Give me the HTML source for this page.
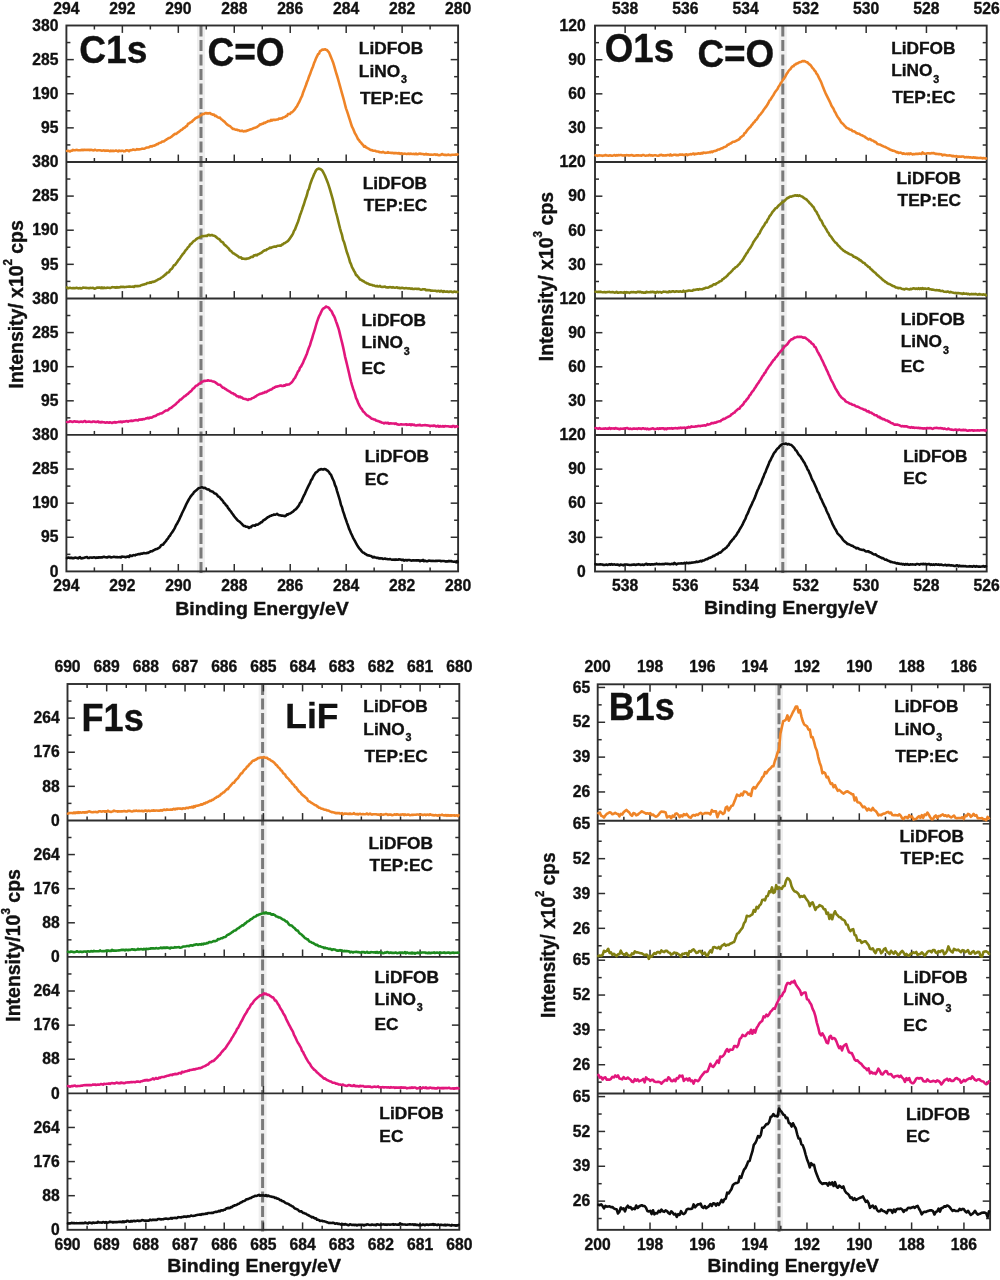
<!DOCTYPE html>
<html><head><meta charset="utf-8"><style>
html,body{margin:0;padding:0;background:#fff;}
body{width:1000px;height:1280px;overflow:hidden;}
svg{display:block;filter:blur(0.6px);}
svg text{font-family:"Liberation Sans", sans-serif;font-weight:bold;fill:#111;stroke:#111;stroke-width:0.35px;}
</style></head><body>
<svg width="1000" height="1280" viewBox="0 0 1000 1280">
<rect width="1000" height="1280" fill="#fff"/>
<line x1="201" y1="25.5" x2="201" y2="573.4" stroke="#efefef" stroke-width="8"/>
<line x1="201" y1="25.5" x2="201" y2="573.4" stroke="#7a7a7a" stroke-width="3" stroke-dasharray="11 3.5"/>
<line x1="94.38" y1="161.97" x2="94.38" y2="157.97" stroke="#2e2e2e" stroke-width="1.5"/>
<line x1="94.38" y1="25.5" x2="94.38" y2="29.5" stroke="#2e2e2e" stroke-width="1.5"/>
<line x1="122.36" y1="161.97" x2="122.36" y2="154.57" stroke="#2e2e2e" stroke-width="1.5"/>
<line x1="122.36" y1="25.5" x2="122.36" y2="32.9" stroke="#2e2e2e" stroke-width="1.5"/>
<line x1="150.34" y1="161.97" x2="150.34" y2="157.97" stroke="#2e2e2e" stroke-width="1.5"/>
<line x1="150.34" y1="25.5" x2="150.34" y2="29.5" stroke="#2e2e2e" stroke-width="1.5"/>
<line x1="178.31" y1="161.97" x2="178.31" y2="154.57" stroke="#2e2e2e" stroke-width="1.5"/>
<line x1="178.31" y1="25.5" x2="178.31" y2="32.9" stroke="#2e2e2e" stroke-width="1.5"/>
<line x1="206.29" y1="161.97" x2="206.29" y2="157.97" stroke="#2e2e2e" stroke-width="1.5"/>
<line x1="206.29" y1="25.5" x2="206.29" y2="29.5" stroke="#2e2e2e" stroke-width="1.5"/>
<line x1="234.27" y1="161.97" x2="234.27" y2="154.57" stroke="#2e2e2e" stroke-width="1.5"/>
<line x1="234.27" y1="25.5" x2="234.27" y2="32.9" stroke="#2e2e2e" stroke-width="1.5"/>
<line x1="262.25" y1="161.97" x2="262.25" y2="157.97" stroke="#2e2e2e" stroke-width="1.5"/>
<line x1="262.25" y1="25.5" x2="262.25" y2="29.5" stroke="#2e2e2e" stroke-width="1.5"/>
<line x1="290.23" y1="161.97" x2="290.23" y2="154.57" stroke="#2e2e2e" stroke-width="1.5"/>
<line x1="290.23" y1="25.5" x2="290.23" y2="32.9" stroke="#2e2e2e" stroke-width="1.5"/>
<line x1="318.21" y1="161.97" x2="318.21" y2="157.97" stroke="#2e2e2e" stroke-width="1.5"/>
<line x1="318.21" y1="25.5" x2="318.21" y2="29.5" stroke="#2e2e2e" stroke-width="1.5"/>
<line x1="346.19" y1="161.97" x2="346.19" y2="154.57" stroke="#2e2e2e" stroke-width="1.5"/>
<line x1="346.19" y1="25.5" x2="346.19" y2="32.9" stroke="#2e2e2e" stroke-width="1.5"/>
<line x1="374.16" y1="161.97" x2="374.16" y2="157.97" stroke="#2e2e2e" stroke-width="1.5"/>
<line x1="374.16" y1="25.5" x2="374.16" y2="29.5" stroke="#2e2e2e" stroke-width="1.5"/>
<line x1="402.14" y1="161.97" x2="402.14" y2="154.57" stroke="#2e2e2e" stroke-width="1.5"/>
<line x1="402.14" y1="25.5" x2="402.14" y2="32.9" stroke="#2e2e2e" stroke-width="1.5"/>
<line x1="430.12" y1="161.97" x2="430.12" y2="157.97" stroke="#2e2e2e" stroke-width="1.5"/>
<line x1="430.12" y1="25.5" x2="430.12" y2="29.5" stroke="#2e2e2e" stroke-width="1.5"/>
<line x1="94.38" y1="298.45" x2="94.38" y2="294.45" stroke="#2e2e2e" stroke-width="1.5"/>
<line x1="122.36" y1="298.45" x2="122.36" y2="291.05" stroke="#2e2e2e" stroke-width="1.5"/>
<line x1="150.34" y1="298.45" x2="150.34" y2="294.45" stroke="#2e2e2e" stroke-width="1.5"/>
<line x1="178.31" y1="298.45" x2="178.31" y2="291.05" stroke="#2e2e2e" stroke-width="1.5"/>
<line x1="206.29" y1="298.45" x2="206.29" y2="294.45" stroke="#2e2e2e" stroke-width="1.5"/>
<line x1="234.27" y1="298.45" x2="234.27" y2="291.05" stroke="#2e2e2e" stroke-width="1.5"/>
<line x1="262.25" y1="298.45" x2="262.25" y2="294.45" stroke="#2e2e2e" stroke-width="1.5"/>
<line x1="290.23" y1="298.45" x2="290.23" y2="291.05" stroke="#2e2e2e" stroke-width="1.5"/>
<line x1="318.21" y1="298.45" x2="318.21" y2="294.45" stroke="#2e2e2e" stroke-width="1.5"/>
<line x1="346.19" y1="298.45" x2="346.19" y2="291.05" stroke="#2e2e2e" stroke-width="1.5"/>
<line x1="374.16" y1="298.45" x2="374.16" y2="294.45" stroke="#2e2e2e" stroke-width="1.5"/>
<line x1="402.14" y1="298.45" x2="402.14" y2="291.05" stroke="#2e2e2e" stroke-width="1.5"/>
<line x1="430.12" y1="298.45" x2="430.12" y2="294.45" stroke="#2e2e2e" stroke-width="1.5"/>
<line x1="94.38" y1="434.92" x2="94.38" y2="430.92" stroke="#2e2e2e" stroke-width="1.5"/>
<line x1="122.36" y1="434.92" x2="122.36" y2="427.52" stroke="#2e2e2e" stroke-width="1.5"/>
<line x1="150.34" y1="434.92" x2="150.34" y2="430.92" stroke="#2e2e2e" stroke-width="1.5"/>
<line x1="178.31" y1="434.92" x2="178.31" y2="427.52" stroke="#2e2e2e" stroke-width="1.5"/>
<line x1="206.29" y1="434.92" x2="206.29" y2="430.92" stroke="#2e2e2e" stroke-width="1.5"/>
<line x1="234.27" y1="434.92" x2="234.27" y2="427.52" stroke="#2e2e2e" stroke-width="1.5"/>
<line x1="262.25" y1="434.92" x2="262.25" y2="430.92" stroke="#2e2e2e" stroke-width="1.5"/>
<line x1="290.23" y1="434.92" x2="290.23" y2="427.52" stroke="#2e2e2e" stroke-width="1.5"/>
<line x1="318.21" y1="434.92" x2="318.21" y2="430.92" stroke="#2e2e2e" stroke-width="1.5"/>
<line x1="346.19" y1="434.92" x2="346.19" y2="427.52" stroke="#2e2e2e" stroke-width="1.5"/>
<line x1="374.16" y1="434.92" x2="374.16" y2="430.92" stroke="#2e2e2e" stroke-width="1.5"/>
<line x1="402.14" y1="434.92" x2="402.14" y2="427.52" stroke="#2e2e2e" stroke-width="1.5"/>
<line x1="430.12" y1="434.92" x2="430.12" y2="430.92" stroke="#2e2e2e" stroke-width="1.5"/>
<line x1="94.38" y1="571.4" x2="94.38" y2="567.4" stroke="#2e2e2e" stroke-width="1.5"/>
<line x1="122.36" y1="571.4" x2="122.36" y2="564" stroke="#2e2e2e" stroke-width="1.5"/>
<line x1="150.34" y1="571.4" x2="150.34" y2="567.4" stroke="#2e2e2e" stroke-width="1.5"/>
<line x1="178.31" y1="571.4" x2="178.31" y2="564" stroke="#2e2e2e" stroke-width="1.5"/>
<line x1="206.29" y1="571.4" x2="206.29" y2="567.4" stroke="#2e2e2e" stroke-width="1.5"/>
<line x1="234.27" y1="571.4" x2="234.27" y2="564" stroke="#2e2e2e" stroke-width="1.5"/>
<line x1="262.25" y1="571.4" x2="262.25" y2="567.4" stroke="#2e2e2e" stroke-width="1.5"/>
<line x1="290.23" y1="571.4" x2="290.23" y2="564" stroke="#2e2e2e" stroke-width="1.5"/>
<line x1="318.21" y1="571.4" x2="318.21" y2="567.4" stroke="#2e2e2e" stroke-width="1.5"/>
<line x1="346.19" y1="571.4" x2="346.19" y2="564" stroke="#2e2e2e" stroke-width="1.5"/>
<line x1="374.16" y1="571.4" x2="374.16" y2="567.4" stroke="#2e2e2e" stroke-width="1.5"/>
<line x1="402.14" y1="571.4" x2="402.14" y2="564" stroke="#2e2e2e" stroke-width="1.5"/>
<line x1="430.12" y1="571.4" x2="430.12" y2="567.4" stroke="#2e2e2e" stroke-width="1.5"/>
<line x1="66.4" y1="42.56" x2="70.4" y2="42.56" stroke="#2e2e2e" stroke-width="1.5"/>
<line x1="458.1" y1="42.56" x2="454.1" y2="42.56" stroke="#2e2e2e" stroke-width="1.5"/>
<line x1="66.4" y1="59.62" x2="73.8" y2="59.62" stroke="#2e2e2e" stroke-width="1.5"/>
<line x1="458.1" y1="59.62" x2="450.7" y2="59.62" stroke="#2e2e2e" stroke-width="1.5"/>
<line x1="66.4" y1="76.68" x2="70.4" y2="76.68" stroke="#2e2e2e" stroke-width="1.5"/>
<line x1="458.1" y1="76.68" x2="454.1" y2="76.68" stroke="#2e2e2e" stroke-width="1.5"/>
<line x1="66.4" y1="93.74" x2="73.8" y2="93.74" stroke="#2e2e2e" stroke-width="1.5"/>
<line x1="458.1" y1="93.74" x2="450.7" y2="93.74" stroke="#2e2e2e" stroke-width="1.5"/>
<line x1="66.4" y1="110.8" x2="70.4" y2="110.8" stroke="#2e2e2e" stroke-width="1.5"/>
<line x1="458.1" y1="110.8" x2="454.1" y2="110.8" stroke="#2e2e2e" stroke-width="1.5"/>
<line x1="66.4" y1="127.86" x2="73.8" y2="127.86" stroke="#2e2e2e" stroke-width="1.5"/>
<line x1="458.1" y1="127.86" x2="450.7" y2="127.86" stroke="#2e2e2e" stroke-width="1.5"/>
<line x1="66.4" y1="144.92" x2="70.4" y2="144.92" stroke="#2e2e2e" stroke-width="1.5"/>
<line x1="458.1" y1="144.92" x2="454.1" y2="144.92" stroke="#2e2e2e" stroke-width="1.5"/>
<line x1="66.4" y1="179.03" x2="70.4" y2="179.03" stroke="#2e2e2e" stroke-width="1.5"/>
<line x1="458.1" y1="179.03" x2="454.1" y2="179.03" stroke="#2e2e2e" stroke-width="1.5"/>
<line x1="66.4" y1="196.09" x2="73.8" y2="196.09" stroke="#2e2e2e" stroke-width="1.5"/>
<line x1="458.1" y1="196.09" x2="450.7" y2="196.09" stroke="#2e2e2e" stroke-width="1.5"/>
<line x1="66.4" y1="213.15" x2="70.4" y2="213.15" stroke="#2e2e2e" stroke-width="1.5"/>
<line x1="458.1" y1="213.15" x2="454.1" y2="213.15" stroke="#2e2e2e" stroke-width="1.5"/>
<line x1="66.4" y1="230.21" x2="73.8" y2="230.21" stroke="#2e2e2e" stroke-width="1.5"/>
<line x1="458.1" y1="230.21" x2="450.7" y2="230.21" stroke="#2e2e2e" stroke-width="1.5"/>
<line x1="66.4" y1="247.27" x2="70.4" y2="247.27" stroke="#2e2e2e" stroke-width="1.5"/>
<line x1="458.1" y1="247.27" x2="454.1" y2="247.27" stroke="#2e2e2e" stroke-width="1.5"/>
<line x1="66.4" y1="264.33" x2="73.8" y2="264.33" stroke="#2e2e2e" stroke-width="1.5"/>
<line x1="458.1" y1="264.33" x2="450.7" y2="264.33" stroke="#2e2e2e" stroke-width="1.5"/>
<line x1="66.4" y1="281.39" x2="70.4" y2="281.39" stroke="#2e2e2e" stroke-width="1.5"/>
<line x1="458.1" y1="281.39" x2="454.1" y2="281.39" stroke="#2e2e2e" stroke-width="1.5"/>
<line x1="66.4" y1="315.51" x2="70.4" y2="315.51" stroke="#2e2e2e" stroke-width="1.5"/>
<line x1="458.1" y1="315.51" x2="454.1" y2="315.51" stroke="#2e2e2e" stroke-width="1.5"/>
<line x1="66.4" y1="332.57" x2="73.8" y2="332.57" stroke="#2e2e2e" stroke-width="1.5"/>
<line x1="458.1" y1="332.57" x2="450.7" y2="332.57" stroke="#2e2e2e" stroke-width="1.5"/>
<line x1="66.4" y1="349.63" x2="70.4" y2="349.63" stroke="#2e2e2e" stroke-width="1.5"/>
<line x1="458.1" y1="349.63" x2="454.1" y2="349.63" stroke="#2e2e2e" stroke-width="1.5"/>
<line x1="66.4" y1="366.69" x2="73.8" y2="366.69" stroke="#2e2e2e" stroke-width="1.5"/>
<line x1="458.1" y1="366.69" x2="450.7" y2="366.69" stroke="#2e2e2e" stroke-width="1.5"/>
<line x1="66.4" y1="383.75" x2="70.4" y2="383.75" stroke="#2e2e2e" stroke-width="1.5"/>
<line x1="458.1" y1="383.75" x2="454.1" y2="383.75" stroke="#2e2e2e" stroke-width="1.5"/>
<line x1="66.4" y1="400.81" x2="73.8" y2="400.81" stroke="#2e2e2e" stroke-width="1.5"/>
<line x1="458.1" y1="400.81" x2="450.7" y2="400.81" stroke="#2e2e2e" stroke-width="1.5"/>
<line x1="66.4" y1="417.87" x2="70.4" y2="417.87" stroke="#2e2e2e" stroke-width="1.5"/>
<line x1="458.1" y1="417.87" x2="454.1" y2="417.87" stroke="#2e2e2e" stroke-width="1.5"/>
<line x1="66.4" y1="451.98" x2="70.4" y2="451.98" stroke="#2e2e2e" stroke-width="1.5"/>
<line x1="458.1" y1="451.98" x2="454.1" y2="451.98" stroke="#2e2e2e" stroke-width="1.5"/>
<line x1="66.4" y1="469.04" x2="73.8" y2="469.04" stroke="#2e2e2e" stroke-width="1.5"/>
<line x1="458.1" y1="469.04" x2="450.7" y2="469.04" stroke="#2e2e2e" stroke-width="1.5"/>
<line x1="66.4" y1="486.1" x2="70.4" y2="486.1" stroke="#2e2e2e" stroke-width="1.5"/>
<line x1="458.1" y1="486.1" x2="454.1" y2="486.1" stroke="#2e2e2e" stroke-width="1.5"/>
<line x1="66.4" y1="503.16" x2="73.8" y2="503.16" stroke="#2e2e2e" stroke-width="1.5"/>
<line x1="458.1" y1="503.16" x2="450.7" y2="503.16" stroke="#2e2e2e" stroke-width="1.5"/>
<line x1="66.4" y1="520.22" x2="70.4" y2="520.22" stroke="#2e2e2e" stroke-width="1.5"/>
<line x1="458.1" y1="520.22" x2="454.1" y2="520.22" stroke="#2e2e2e" stroke-width="1.5"/>
<line x1="66.4" y1="537.28" x2="73.8" y2="537.28" stroke="#2e2e2e" stroke-width="1.5"/>
<line x1="458.1" y1="537.28" x2="450.7" y2="537.28" stroke="#2e2e2e" stroke-width="1.5"/>
<line x1="66.4" y1="554.34" x2="70.4" y2="554.34" stroke="#2e2e2e" stroke-width="1.5"/>
<line x1="458.1" y1="554.34" x2="454.1" y2="554.34" stroke="#2e2e2e" stroke-width="1.5"/>
<line x1="66.4" y1="161.97" x2="458.1" y2="161.97" stroke="#2e2e2e" stroke-width="1.9"/>
<line x1="66.4" y1="298.45" x2="458.1" y2="298.45" stroke="#2e2e2e" stroke-width="1.9"/>
<line x1="66.4" y1="434.92" x2="458.1" y2="434.92" stroke="#2e2e2e" stroke-width="1.9"/>
<rect x="66.4" y="25.5" width="391.7" height="545.9" fill="none" stroke="#2e2e2e" stroke-width="1.9"/>
<text transform="translate(58.5 30.7) scale(1 1)" font-size="15.7" text-anchor="end">380</text>
<text transform="translate(58.5 64.82) scale(1 1)" font-size="15.7" text-anchor="end">285</text>
<text transform="translate(58.5 98.94) scale(1 1)" font-size="15.7" text-anchor="end">190</text>
<text transform="translate(58.5 133.06) scale(1 1)" font-size="15.7" text-anchor="end">95</text>
<text transform="translate(58.5 167.17) scale(1 1)" font-size="15.7" text-anchor="end">380</text>
<text transform="translate(58.5 201.29) scale(1 1)" font-size="15.7" text-anchor="end">285</text>
<text transform="translate(58.5 235.41) scale(1 1)" font-size="15.7" text-anchor="end">190</text>
<text transform="translate(58.5 269.53) scale(1 1)" font-size="15.7" text-anchor="end">95</text>
<text transform="translate(58.5 303.65) scale(1 1)" font-size="15.7" text-anchor="end">380</text>
<text transform="translate(58.5 337.77) scale(1 1)" font-size="15.7" text-anchor="end">285</text>
<text transform="translate(58.5 371.89) scale(1 1)" font-size="15.7" text-anchor="end">190</text>
<text transform="translate(58.5 406.01) scale(1 1)" font-size="15.7" text-anchor="end">95</text>
<text transform="translate(58.5 440.12) scale(1 1)" font-size="15.7" text-anchor="end">380</text>
<text transform="translate(58.5 474.24) scale(1 1)" font-size="15.7" text-anchor="end">285</text>
<text transform="translate(58.5 508.36) scale(1 1)" font-size="15.7" text-anchor="end">190</text>
<text transform="translate(58.5 542.48) scale(1 1)" font-size="15.7" text-anchor="end">95</text>
<text transform="translate(58.5 576.6) scale(1 1)" font-size="15.7" text-anchor="end">0</text>
<text transform="translate(66.4 13.6) scale(1 1)" font-size="15.7" text-anchor="middle">294</text>
<text transform="translate(66.4 591.2) scale(1 1)" font-size="15.7" text-anchor="middle">294</text>
<text transform="translate(122.36 13.6) scale(1 1)" font-size="15.7" text-anchor="middle">292</text>
<text transform="translate(122.36 591.2) scale(1 1)" font-size="15.7" text-anchor="middle">292</text>
<text transform="translate(178.31 13.6) scale(1 1)" font-size="15.7" text-anchor="middle">290</text>
<text transform="translate(178.31 591.2) scale(1 1)" font-size="15.7" text-anchor="middle">290</text>
<text transform="translate(234.27 13.6) scale(1 1)" font-size="15.7" text-anchor="middle">288</text>
<text transform="translate(234.27 591.2) scale(1 1)" font-size="15.7" text-anchor="middle">288</text>
<text transform="translate(290.23 13.6) scale(1 1)" font-size="15.7" text-anchor="middle">286</text>
<text transform="translate(290.23 591.2) scale(1 1)" font-size="15.7" text-anchor="middle">286</text>
<text transform="translate(346.19 13.6) scale(1 1)" font-size="15.7" text-anchor="middle">284</text>
<text transform="translate(346.19 591.2) scale(1 1)" font-size="15.7" text-anchor="middle">284</text>
<text transform="translate(402.14 13.6) scale(1 1)" font-size="15.7" text-anchor="middle">282</text>
<text transform="translate(402.14 591.2) scale(1 1)" font-size="15.7" text-anchor="middle">282</text>
<text transform="translate(458.1 13.6) scale(1 1)" font-size="15.7" text-anchor="middle">280</text>
<text transform="translate(458.1 591.2) scale(1 1)" font-size="15.7" text-anchor="middle">280</text>
<line x1="782.8" y1="25.6" x2="782.8" y2="573.5" stroke="#efefef" stroke-width="8"/>
<line x1="782.8" y1="25.6" x2="782.8" y2="573.5" stroke="#7a7a7a" stroke-width="3" stroke-dasharray="11 3.5"/>
<line x1="625.13" y1="162.07" x2="625.13" y2="154.67" stroke="#2e2e2e" stroke-width="1.5"/>
<line x1="625.13" y1="25.6" x2="625.13" y2="33" stroke="#2e2e2e" stroke-width="1.5"/>
<line x1="655.26" y1="162.07" x2="655.26" y2="158.07" stroke="#2e2e2e" stroke-width="1.5"/>
<line x1="655.26" y1="25.6" x2="655.26" y2="29.6" stroke="#2e2e2e" stroke-width="1.5"/>
<line x1="685.39" y1="162.07" x2="685.39" y2="154.67" stroke="#2e2e2e" stroke-width="1.5"/>
<line x1="685.39" y1="25.6" x2="685.39" y2="33" stroke="#2e2e2e" stroke-width="1.5"/>
<line x1="715.52" y1="162.07" x2="715.52" y2="158.07" stroke="#2e2e2e" stroke-width="1.5"/>
<line x1="715.52" y1="25.6" x2="715.52" y2="29.6" stroke="#2e2e2e" stroke-width="1.5"/>
<line x1="745.65" y1="162.07" x2="745.65" y2="154.67" stroke="#2e2e2e" stroke-width="1.5"/>
<line x1="745.65" y1="25.6" x2="745.65" y2="33" stroke="#2e2e2e" stroke-width="1.5"/>
<line x1="775.78" y1="162.07" x2="775.78" y2="158.07" stroke="#2e2e2e" stroke-width="1.5"/>
<line x1="775.78" y1="25.6" x2="775.78" y2="29.6" stroke="#2e2e2e" stroke-width="1.5"/>
<line x1="805.92" y1="162.07" x2="805.92" y2="154.67" stroke="#2e2e2e" stroke-width="1.5"/>
<line x1="805.92" y1="25.6" x2="805.92" y2="33" stroke="#2e2e2e" stroke-width="1.5"/>
<line x1="836.05" y1="162.07" x2="836.05" y2="158.07" stroke="#2e2e2e" stroke-width="1.5"/>
<line x1="836.05" y1="25.6" x2="836.05" y2="29.6" stroke="#2e2e2e" stroke-width="1.5"/>
<line x1="866.18" y1="162.07" x2="866.18" y2="154.67" stroke="#2e2e2e" stroke-width="1.5"/>
<line x1="866.18" y1="25.6" x2="866.18" y2="33" stroke="#2e2e2e" stroke-width="1.5"/>
<line x1="896.31" y1="162.07" x2="896.31" y2="158.07" stroke="#2e2e2e" stroke-width="1.5"/>
<line x1="896.31" y1="25.6" x2="896.31" y2="29.6" stroke="#2e2e2e" stroke-width="1.5"/>
<line x1="926.44" y1="162.07" x2="926.44" y2="154.67" stroke="#2e2e2e" stroke-width="1.5"/>
<line x1="926.44" y1="25.6" x2="926.44" y2="33" stroke="#2e2e2e" stroke-width="1.5"/>
<line x1="956.57" y1="162.07" x2="956.57" y2="158.07" stroke="#2e2e2e" stroke-width="1.5"/>
<line x1="956.57" y1="25.6" x2="956.57" y2="29.6" stroke="#2e2e2e" stroke-width="1.5"/>
<line x1="625.13" y1="298.55" x2="625.13" y2="291.15" stroke="#2e2e2e" stroke-width="1.5"/>
<line x1="655.26" y1="298.55" x2="655.26" y2="294.55" stroke="#2e2e2e" stroke-width="1.5"/>
<line x1="685.39" y1="298.55" x2="685.39" y2="291.15" stroke="#2e2e2e" stroke-width="1.5"/>
<line x1="715.52" y1="298.55" x2="715.52" y2="294.55" stroke="#2e2e2e" stroke-width="1.5"/>
<line x1="745.65" y1="298.55" x2="745.65" y2="291.15" stroke="#2e2e2e" stroke-width="1.5"/>
<line x1="775.78" y1="298.55" x2="775.78" y2="294.55" stroke="#2e2e2e" stroke-width="1.5"/>
<line x1="805.92" y1="298.55" x2="805.92" y2="291.15" stroke="#2e2e2e" stroke-width="1.5"/>
<line x1="836.05" y1="298.55" x2="836.05" y2="294.55" stroke="#2e2e2e" stroke-width="1.5"/>
<line x1="866.18" y1="298.55" x2="866.18" y2="291.15" stroke="#2e2e2e" stroke-width="1.5"/>
<line x1="896.31" y1="298.55" x2="896.31" y2="294.55" stroke="#2e2e2e" stroke-width="1.5"/>
<line x1="926.44" y1="298.55" x2="926.44" y2="291.15" stroke="#2e2e2e" stroke-width="1.5"/>
<line x1="956.57" y1="298.55" x2="956.57" y2="294.55" stroke="#2e2e2e" stroke-width="1.5"/>
<line x1="625.13" y1="435.02" x2="625.13" y2="427.62" stroke="#2e2e2e" stroke-width="1.5"/>
<line x1="655.26" y1="435.02" x2="655.26" y2="431.02" stroke="#2e2e2e" stroke-width="1.5"/>
<line x1="685.39" y1="435.02" x2="685.39" y2="427.62" stroke="#2e2e2e" stroke-width="1.5"/>
<line x1="715.52" y1="435.02" x2="715.52" y2="431.02" stroke="#2e2e2e" stroke-width="1.5"/>
<line x1="745.65" y1="435.02" x2="745.65" y2="427.62" stroke="#2e2e2e" stroke-width="1.5"/>
<line x1="775.78" y1="435.02" x2="775.78" y2="431.02" stroke="#2e2e2e" stroke-width="1.5"/>
<line x1="805.92" y1="435.02" x2="805.92" y2="427.62" stroke="#2e2e2e" stroke-width="1.5"/>
<line x1="836.05" y1="435.02" x2="836.05" y2="431.02" stroke="#2e2e2e" stroke-width="1.5"/>
<line x1="866.18" y1="435.02" x2="866.18" y2="427.62" stroke="#2e2e2e" stroke-width="1.5"/>
<line x1="896.31" y1="435.02" x2="896.31" y2="431.02" stroke="#2e2e2e" stroke-width="1.5"/>
<line x1="926.44" y1="435.02" x2="926.44" y2="427.62" stroke="#2e2e2e" stroke-width="1.5"/>
<line x1="956.57" y1="435.02" x2="956.57" y2="431.02" stroke="#2e2e2e" stroke-width="1.5"/>
<line x1="625.13" y1="571.5" x2="625.13" y2="564.1" stroke="#2e2e2e" stroke-width="1.5"/>
<line x1="655.26" y1="571.5" x2="655.26" y2="567.5" stroke="#2e2e2e" stroke-width="1.5"/>
<line x1="685.39" y1="571.5" x2="685.39" y2="564.1" stroke="#2e2e2e" stroke-width="1.5"/>
<line x1="715.52" y1="571.5" x2="715.52" y2="567.5" stroke="#2e2e2e" stroke-width="1.5"/>
<line x1="745.65" y1="571.5" x2="745.65" y2="564.1" stroke="#2e2e2e" stroke-width="1.5"/>
<line x1="775.78" y1="571.5" x2="775.78" y2="567.5" stroke="#2e2e2e" stroke-width="1.5"/>
<line x1="805.92" y1="571.5" x2="805.92" y2="564.1" stroke="#2e2e2e" stroke-width="1.5"/>
<line x1="836.05" y1="571.5" x2="836.05" y2="567.5" stroke="#2e2e2e" stroke-width="1.5"/>
<line x1="866.18" y1="571.5" x2="866.18" y2="564.1" stroke="#2e2e2e" stroke-width="1.5"/>
<line x1="896.31" y1="571.5" x2="896.31" y2="567.5" stroke="#2e2e2e" stroke-width="1.5"/>
<line x1="926.44" y1="571.5" x2="926.44" y2="564.1" stroke="#2e2e2e" stroke-width="1.5"/>
<line x1="956.57" y1="571.5" x2="956.57" y2="567.5" stroke="#2e2e2e" stroke-width="1.5"/>
<line x1="595" y1="42.66" x2="599" y2="42.66" stroke="#2e2e2e" stroke-width="1.5"/>
<line x1="986.7" y1="42.66" x2="982.7" y2="42.66" stroke="#2e2e2e" stroke-width="1.5"/>
<line x1="595" y1="59.72" x2="602.4" y2="59.72" stroke="#2e2e2e" stroke-width="1.5"/>
<line x1="986.7" y1="59.72" x2="979.3" y2="59.72" stroke="#2e2e2e" stroke-width="1.5"/>
<line x1="595" y1="76.78" x2="599" y2="76.78" stroke="#2e2e2e" stroke-width="1.5"/>
<line x1="986.7" y1="76.78" x2="982.7" y2="76.78" stroke="#2e2e2e" stroke-width="1.5"/>
<line x1="595" y1="93.84" x2="602.4" y2="93.84" stroke="#2e2e2e" stroke-width="1.5"/>
<line x1="986.7" y1="93.84" x2="979.3" y2="93.84" stroke="#2e2e2e" stroke-width="1.5"/>
<line x1="595" y1="110.9" x2="599" y2="110.9" stroke="#2e2e2e" stroke-width="1.5"/>
<line x1="986.7" y1="110.9" x2="982.7" y2="110.9" stroke="#2e2e2e" stroke-width="1.5"/>
<line x1="595" y1="127.96" x2="602.4" y2="127.96" stroke="#2e2e2e" stroke-width="1.5"/>
<line x1="986.7" y1="127.96" x2="979.3" y2="127.96" stroke="#2e2e2e" stroke-width="1.5"/>
<line x1="595" y1="145.02" x2="599" y2="145.02" stroke="#2e2e2e" stroke-width="1.5"/>
<line x1="986.7" y1="145.02" x2="982.7" y2="145.02" stroke="#2e2e2e" stroke-width="1.5"/>
<line x1="595" y1="179.13" x2="599" y2="179.13" stroke="#2e2e2e" stroke-width="1.5"/>
<line x1="986.7" y1="179.13" x2="982.7" y2="179.13" stroke="#2e2e2e" stroke-width="1.5"/>
<line x1="595" y1="196.19" x2="602.4" y2="196.19" stroke="#2e2e2e" stroke-width="1.5"/>
<line x1="986.7" y1="196.19" x2="979.3" y2="196.19" stroke="#2e2e2e" stroke-width="1.5"/>
<line x1="595" y1="213.25" x2="599" y2="213.25" stroke="#2e2e2e" stroke-width="1.5"/>
<line x1="986.7" y1="213.25" x2="982.7" y2="213.25" stroke="#2e2e2e" stroke-width="1.5"/>
<line x1="595" y1="230.31" x2="602.4" y2="230.31" stroke="#2e2e2e" stroke-width="1.5"/>
<line x1="986.7" y1="230.31" x2="979.3" y2="230.31" stroke="#2e2e2e" stroke-width="1.5"/>
<line x1="595" y1="247.37" x2="599" y2="247.37" stroke="#2e2e2e" stroke-width="1.5"/>
<line x1="986.7" y1="247.37" x2="982.7" y2="247.37" stroke="#2e2e2e" stroke-width="1.5"/>
<line x1="595" y1="264.43" x2="602.4" y2="264.43" stroke="#2e2e2e" stroke-width="1.5"/>
<line x1="986.7" y1="264.43" x2="979.3" y2="264.43" stroke="#2e2e2e" stroke-width="1.5"/>
<line x1="595" y1="281.49" x2="599" y2="281.49" stroke="#2e2e2e" stroke-width="1.5"/>
<line x1="986.7" y1="281.49" x2="982.7" y2="281.49" stroke="#2e2e2e" stroke-width="1.5"/>
<line x1="595" y1="315.61" x2="599" y2="315.61" stroke="#2e2e2e" stroke-width="1.5"/>
<line x1="986.7" y1="315.61" x2="982.7" y2="315.61" stroke="#2e2e2e" stroke-width="1.5"/>
<line x1="595" y1="332.67" x2="602.4" y2="332.67" stroke="#2e2e2e" stroke-width="1.5"/>
<line x1="986.7" y1="332.67" x2="979.3" y2="332.67" stroke="#2e2e2e" stroke-width="1.5"/>
<line x1="595" y1="349.73" x2="599" y2="349.73" stroke="#2e2e2e" stroke-width="1.5"/>
<line x1="986.7" y1="349.73" x2="982.7" y2="349.73" stroke="#2e2e2e" stroke-width="1.5"/>
<line x1="595" y1="366.79" x2="602.4" y2="366.79" stroke="#2e2e2e" stroke-width="1.5"/>
<line x1="986.7" y1="366.79" x2="979.3" y2="366.79" stroke="#2e2e2e" stroke-width="1.5"/>
<line x1="595" y1="383.85" x2="599" y2="383.85" stroke="#2e2e2e" stroke-width="1.5"/>
<line x1="986.7" y1="383.85" x2="982.7" y2="383.85" stroke="#2e2e2e" stroke-width="1.5"/>
<line x1="595" y1="400.91" x2="602.4" y2="400.91" stroke="#2e2e2e" stroke-width="1.5"/>
<line x1="986.7" y1="400.91" x2="979.3" y2="400.91" stroke="#2e2e2e" stroke-width="1.5"/>
<line x1="595" y1="417.97" x2="599" y2="417.97" stroke="#2e2e2e" stroke-width="1.5"/>
<line x1="986.7" y1="417.97" x2="982.7" y2="417.97" stroke="#2e2e2e" stroke-width="1.5"/>
<line x1="595" y1="452.08" x2="599" y2="452.08" stroke="#2e2e2e" stroke-width="1.5"/>
<line x1="986.7" y1="452.08" x2="982.7" y2="452.08" stroke="#2e2e2e" stroke-width="1.5"/>
<line x1="595" y1="469.14" x2="602.4" y2="469.14" stroke="#2e2e2e" stroke-width="1.5"/>
<line x1="986.7" y1="469.14" x2="979.3" y2="469.14" stroke="#2e2e2e" stroke-width="1.5"/>
<line x1="595" y1="486.2" x2="599" y2="486.2" stroke="#2e2e2e" stroke-width="1.5"/>
<line x1="986.7" y1="486.2" x2="982.7" y2="486.2" stroke="#2e2e2e" stroke-width="1.5"/>
<line x1="595" y1="503.26" x2="602.4" y2="503.26" stroke="#2e2e2e" stroke-width="1.5"/>
<line x1="986.7" y1="503.26" x2="979.3" y2="503.26" stroke="#2e2e2e" stroke-width="1.5"/>
<line x1="595" y1="520.32" x2="599" y2="520.32" stroke="#2e2e2e" stroke-width="1.5"/>
<line x1="986.7" y1="520.32" x2="982.7" y2="520.32" stroke="#2e2e2e" stroke-width="1.5"/>
<line x1="595" y1="537.38" x2="602.4" y2="537.38" stroke="#2e2e2e" stroke-width="1.5"/>
<line x1="986.7" y1="537.38" x2="979.3" y2="537.38" stroke="#2e2e2e" stroke-width="1.5"/>
<line x1="595" y1="554.44" x2="599" y2="554.44" stroke="#2e2e2e" stroke-width="1.5"/>
<line x1="986.7" y1="554.44" x2="982.7" y2="554.44" stroke="#2e2e2e" stroke-width="1.5"/>
<line x1="595" y1="162.07" x2="986.7" y2="162.07" stroke="#2e2e2e" stroke-width="1.9"/>
<line x1="595" y1="298.55" x2="986.7" y2="298.55" stroke="#2e2e2e" stroke-width="1.9"/>
<line x1="595" y1="435.02" x2="986.7" y2="435.02" stroke="#2e2e2e" stroke-width="1.9"/>
<rect x="595" y="25.6" width="391.7" height="545.9" fill="none" stroke="#2e2e2e" stroke-width="1.9"/>
<text transform="translate(585.8 30.8) scale(1 1)" font-size="15.7" text-anchor="end">120</text>
<text transform="translate(585.8 64.92) scale(1 1)" font-size="15.7" text-anchor="end">90</text>
<text transform="translate(585.8 99.04) scale(1 1)" font-size="15.7" text-anchor="end">60</text>
<text transform="translate(585.8 133.16) scale(1 1)" font-size="15.7" text-anchor="end">30</text>
<text transform="translate(585.8 167.27) scale(1 1)" font-size="15.7" text-anchor="end">120</text>
<text transform="translate(585.8 201.39) scale(1 1)" font-size="15.7" text-anchor="end">90</text>
<text transform="translate(585.8 235.51) scale(1 1)" font-size="15.7" text-anchor="end">60</text>
<text transform="translate(585.8 269.63) scale(1 1)" font-size="15.7" text-anchor="end">30</text>
<text transform="translate(585.8 303.75) scale(1 1)" font-size="15.7" text-anchor="end">120</text>
<text transform="translate(585.8 337.87) scale(1 1)" font-size="15.7" text-anchor="end">90</text>
<text transform="translate(585.8 371.99) scale(1 1)" font-size="15.7" text-anchor="end">60</text>
<text transform="translate(585.8 406.11) scale(1 1)" font-size="15.7" text-anchor="end">30</text>
<text transform="translate(585.8 440.22) scale(1 1)" font-size="15.7" text-anchor="end">120</text>
<text transform="translate(585.8 474.34) scale(1 1)" font-size="15.7" text-anchor="end">90</text>
<text transform="translate(585.8 508.46) scale(1 1)" font-size="15.7" text-anchor="end">60</text>
<text transform="translate(585.8 542.58) scale(1 1)" font-size="15.7" text-anchor="end">30</text>
<text transform="translate(585.8 576.7) scale(1 1)" font-size="15.7" text-anchor="end">0</text>
<text transform="translate(625.13 13.6) scale(1 1)" font-size="15.7" text-anchor="middle">538</text>
<text transform="translate(625.13 591.2) scale(1 1)" font-size="15.7" text-anchor="middle">538</text>
<text transform="translate(685.39 13.6) scale(1 1)" font-size="15.7" text-anchor="middle">536</text>
<text transform="translate(685.39 591.2) scale(1 1)" font-size="15.7" text-anchor="middle">536</text>
<text transform="translate(745.65 13.6) scale(1 1)" font-size="15.7" text-anchor="middle">534</text>
<text transform="translate(745.65 591.2) scale(1 1)" font-size="15.7" text-anchor="middle">534</text>
<text transform="translate(805.92 13.6) scale(1 1)" font-size="15.7" text-anchor="middle">532</text>
<text transform="translate(805.92 591.2) scale(1 1)" font-size="15.7" text-anchor="middle">532</text>
<text transform="translate(866.18 13.6) scale(1 1)" font-size="15.7" text-anchor="middle">530</text>
<text transform="translate(866.18 591.2) scale(1 1)" font-size="15.7" text-anchor="middle">530</text>
<text transform="translate(926.44 13.6) scale(1 1)" font-size="15.7" text-anchor="middle">528</text>
<text transform="translate(926.44 591.2) scale(1 1)" font-size="15.7" text-anchor="middle">528</text>
<text transform="translate(986.7 13.6) scale(1 1)" font-size="15.7" text-anchor="middle">526</text>
<text transform="translate(986.7 591.2) scale(1 1)" font-size="15.7" text-anchor="middle">526</text>
<line x1="262.6" y1="684" x2="262.6" y2="1231.8" stroke="#efefef" stroke-width="8"/>
<line x1="262.6" y1="684" x2="262.6" y2="1231.8" stroke="#7a7a7a" stroke-width="3" stroke-dasharray="11 3.5"/>
<line x1="87.09" y1="820.45" x2="87.09" y2="816.45" stroke="#2e2e2e" stroke-width="1.5"/>
<line x1="87.09" y1="684" x2="87.09" y2="688" stroke="#2e2e2e" stroke-width="1.5"/>
<line x1="106.68" y1="820.45" x2="106.68" y2="813.05" stroke="#2e2e2e" stroke-width="1.5"/>
<line x1="106.68" y1="684" x2="106.68" y2="691.4" stroke="#2e2e2e" stroke-width="1.5"/>
<line x1="126.27" y1="820.45" x2="126.27" y2="816.45" stroke="#2e2e2e" stroke-width="1.5"/>
<line x1="126.27" y1="684" x2="126.27" y2="688" stroke="#2e2e2e" stroke-width="1.5"/>
<line x1="145.86" y1="820.45" x2="145.86" y2="813.05" stroke="#2e2e2e" stroke-width="1.5"/>
<line x1="145.86" y1="684" x2="145.86" y2="691.4" stroke="#2e2e2e" stroke-width="1.5"/>
<line x1="165.45" y1="820.45" x2="165.45" y2="816.45" stroke="#2e2e2e" stroke-width="1.5"/>
<line x1="165.45" y1="684" x2="165.45" y2="688" stroke="#2e2e2e" stroke-width="1.5"/>
<line x1="185.04" y1="820.45" x2="185.04" y2="813.05" stroke="#2e2e2e" stroke-width="1.5"/>
<line x1="185.04" y1="684" x2="185.04" y2="691.4" stroke="#2e2e2e" stroke-width="1.5"/>
<line x1="204.63" y1="820.45" x2="204.63" y2="816.45" stroke="#2e2e2e" stroke-width="1.5"/>
<line x1="204.63" y1="684" x2="204.63" y2="688" stroke="#2e2e2e" stroke-width="1.5"/>
<line x1="224.22" y1="820.45" x2="224.22" y2="813.05" stroke="#2e2e2e" stroke-width="1.5"/>
<line x1="224.22" y1="684" x2="224.22" y2="691.4" stroke="#2e2e2e" stroke-width="1.5"/>
<line x1="243.81" y1="820.45" x2="243.81" y2="816.45" stroke="#2e2e2e" stroke-width="1.5"/>
<line x1="243.81" y1="684" x2="243.81" y2="688" stroke="#2e2e2e" stroke-width="1.5"/>
<line x1="263.4" y1="820.45" x2="263.4" y2="813.05" stroke="#2e2e2e" stroke-width="1.5"/>
<line x1="263.4" y1="684" x2="263.4" y2="691.4" stroke="#2e2e2e" stroke-width="1.5"/>
<line x1="282.99" y1="820.45" x2="282.99" y2="816.45" stroke="#2e2e2e" stroke-width="1.5"/>
<line x1="282.99" y1="684" x2="282.99" y2="688" stroke="#2e2e2e" stroke-width="1.5"/>
<line x1="302.58" y1="820.45" x2="302.58" y2="813.05" stroke="#2e2e2e" stroke-width="1.5"/>
<line x1="302.58" y1="684" x2="302.58" y2="691.4" stroke="#2e2e2e" stroke-width="1.5"/>
<line x1="322.17" y1="820.45" x2="322.17" y2="816.45" stroke="#2e2e2e" stroke-width="1.5"/>
<line x1="322.17" y1="684" x2="322.17" y2="688" stroke="#2e2e2e" stroke-width="1.5"/>
<line x1="341.76" y1="820.45" x2="341.76" y2="813.05" stroke="#2e2e2e" stroke-width="1.5"/>
<line x1="341.76" y1="684" x2="341.76" y2="691.4" stroke="#2e2e2e" stroke-width="1.5"/>
<line x1="361.35" y1="820.45" x2="361.35" y2="816.45" stroke="#2e2e2e" stroke-width="1.5"/>
<line x1="361.35" y1="684" x2="361.35" y2="688" stroke="#2e2e2e" stroke-width="1.5"/>
<line x1="380.94" y1="820.45" x2="380.94" y2="813.05" stroke="#2e2e2e" stroke-width="1.5"/>
<line x1="380.94" y1="684" x2="380.94" y2="691.4" stroke="#2e2e2e" stroke-width="1.5"/>
<line x1="400.53" y1="820.45" x2="400.53" y2="816.45" stroke="#2e2e2e" stroke-width="1.5"/>
<line x1="400.53" y1="684" x2="400.53" y2="688" stroke="#2e2e2e" stroke-width="1.5"/>
<line x1="420.12" y1="820.45" x2="420.12" y2="813.05" stroke="#2e2e2e" stroke-width="1.5"/>
<line x1="420.12" y1="684" x2="420.12" y2="691.4" stroke="#2e2e2e" stroke-width="1.5"/>
<line x1="439.71" y1="820.45" x2="439.71" y2="816.45" stroke="#2e2e2e" stroke-width="1.5"/>
<line x1="439.71" y1="684" x2="439.71" y2="688" stroke="#2e2e2e" stroke-width="1.5"/>
<line x1="87.09" y1="956.9" x2="87.09" y2="952.9" stroke="#2e2e2e" stroke-width="1.5"/>
<line x1="106.68" y1="956.9" x2="106.68" y2="949.5" stroke="#2e2e2e" stroke-width="1.5"/>
<line x1="126.27" y1="956.9" x2="126.27" y2="952.9" stroke="#2e2e2e" stroke-width="1.5"/>
<line x1="145.86" y1="956.9" x2="145.86" y2="949.5" stroke="#2e2e2e" stroke-width="1.5"/>
<line x1="165.45" y1="956.9" x2="165.45" y2="952.9" stroke="#2e2e2e" stroke-width="1.5"/>
<line x1="185.04" y1="956.9" x2="185.04" y2="949.5" stroke="#2e2e2e" stroke-width="1.5"/>
<line x1="204.63" y1="956.9" x2="204.63" y2="952.9" stroke="#2e2e2e" stroke-width="1.5"/>
<line x1="224.22" y1="956.9" x2="224.22" y2="949.5" stroke="#2e2e2e" stroke-width="1.5"/>
<line x1="243.81" y1="956.9" x2="243.81" y2="952.9" stroke="#2e2e2e" stroke-width="1.5"/>
<line x1="263.4" y1="956.9" x2="263.4" y2="949.5" stroke="#2e2e2e" stroke-width="1.5"/>
<line x1="282.99" y1="956.9" x2="282.99" y2="952.9" stroke="#2e2e2e" stroke-width="1.5"/>
<line x1="302.58" y1="956.9" x2="302.58" y2="949.5" stroke="#2e2e2e" stroke-width="1.5"/>
<line x1="322.17" y1="956.9" x2="322.17" y2="952.9" stroke="#2e2e2e" stroke-width="1.5"/>
<line x1="341.76" y1="956.9" x2="341.76" y2="949.5" stroke="#2e2e2e" stroke-width="1.5"/>
<line x1="361.35" y1="956.9" x2="361.35" y2="952.9" stroke="#2e2e2e" stroke-width="1.5"/>
<line x1="380.94" y1="956.9" x2="380.94" y2="949.5" stroke="#2e2e2e" stroke-width="1.5"/>
<line x1="400.53" y1="956.9" x2="400.53" y2="952.9" stroke="#2e2e2e" stroke-width="1.5"/>
<line x1="420.12" y1="956.9" x2="420.12" y2="949.5" stroke="#2e2e2e" stroke-width="1.5"/>
<line x1="439.71" y1="956.9" x2="439.71" y2="952.9" stroke="#2e2e2e" stroke-width="1.5"/>
<line x1="87.09" y1="1093.35" x2="87.09" y2="1089.35" stroke="#2e2e2e" stroke-width="1.5"/>
<line x1="106.68" y1="1093.35" x2="106.68" y2="1085.95" stroke="#2e2e2e" stroke-width="1.5"/>
<line x1="126.27" y1="1093.35" x2="126.27" y2="1089.35" stroke="#2e2e2e" stroke-width="1.5"/>
<line x1="145.86" y1="1093.35" x2="145.86" y2="1085.95" stroke="#2e2e2e" stroke-width="1.5"/>
<line x1="165.45" y1="1093.35" x2="165.45" y2="1089.35" stroke="#2e2e2e" stroke-width="1.5"/>
<line x1="185.04" y1="1093.35" x2="185.04" y2="1085.95" stroke="#2e2e2e" stroke-width="1.5"/>
<line x1="204.63" y1="1093.35" x2="204.63" y2="1089.35" stroke="#2e2e2e" stroke-width="1.5"/>
<line x1="224.22" y1="1093.35" x2="224.22" y2="1085.95" stroke="#2e2e2e" stroke-width="1.5"/>
<line x1="243.81" y1="1093.35" x2="243.81" y2="1089.35" stroke="#2e2e2e" stroke-width="1.5"/>
<line x1="263.4" y1="1093.35" x2="263.4" y2="1085.95" stroke="#2e2e2e" stroke-width="1.5"/>
<line x1="282.99" y1="1093.35" x2="282.99" y2="1089.35" stroke="#2e2e2e" stroke-width="1.5"/>
<line x1="302.58" y1="1093.35" x2="302.58" y2="1085.95" stroke="#2e2e2e" stroke-width="1.5"/>
<line x1="322.17" y1="1093.35" x2="322.17" y2="1089.35" stroke="#2e2e2e" stroke-width="1.5"/>
<line x1="341.76" y1="1093.35" x2="341.76" y2="1085.95" stroke="#2e2e2e" stroke-width="1.5"/>
<line x1="361.35" y1="1093.35" x2="361.35" y2="1089.35" stroke="#2e2e2e" stroke-width="1.5"/>
<line x1="380.94" y1="1093.35" x2="380.94" y2="1085.95" stroke="#2e2e2e" stroke-width="1.5"/>
<line x1="400.53" y1="1093.35" x2="400.53" y2="1089.35" stroke="#2e2e2e" stroke-width="1.5"/>
<line x1="420.12" y1="1093.35" x2="420.12" y2="1085.95" stroke="#2e2e2e" stroke-width="1.5"/>
<line x1="439.71" y1="1093.35" x2="439.71" y2="1089.35" stroke="#2e2e2e" stroke-width="1.5"/>
<line x1="87.09" y1="1229.8" x2="87.09" y2="1225.8" stroke="#2e2e2e" stroke-width="1.5"/>
<line x1="106.68" y1="1229.8" x2="106.68" y2="1222.4" stroke="#2e2e2e" stroke-width="1.5"/>
<line x1="126.27" y1="1229.8" x2="126.27" y2="1225.8" stroke="#2e2e2e" stroke-width="1.5"/>
<line x1="145.86" y1="1229.8" x2="145.86" y2="1222.4" stroke="#2e2e2e" stroke-width="1.5"/>
<line x1="165.45" y1="1229.8" x2="165.45" y2="1225.8" stroke="#2e2e2e" stroke-width="1.5"/>
<line x1="185.04" y1="1229.8" x2="185.04" y2="1222.4" stroke="#2e2e2e" stroke-width="1.5"/>
<line x1="204.63" y1="1229.8" x2="204.63" y2="1225.8" stroke="#2e2e2e" stroke-width="1.5"/>
<line x1="224.22" y1="1229.8" x2="224.22" y2="1222.4" stroke="#2e2e2e" stroke-width="1.5"/>
<line x1="243.81" y1="1229.8" x2="243.81" y2="1225.8" stroke="#2e2e2e" stroke-width="1.5"/>
<line x1="263.4" y1="1229.8" x2="263.4" y2="1222.4" stroke="#2e2e2e" stroke-width="1.5"/>
<line x1="282.99" y1="1229.8" x2="282.99" y2="1225.8" stroke="#2e2e2e" stroke-width="1.5"/>
<line x1="302.58" y1="1229.8" x2="302.58" y2="1222.4" stroke="#2e2e2e" stroke-width="1.5"/>
<line x1="322.17" y1="1229.8" x2="322.17" y2="1225.8" stroke="#2e2e2e" stroke-width="1.5"/>
<line x1="341.76" y1="1229.8" x2="341.76" y2="1222.4" stroke="#2e2e2e" stroke-width="1.5"/>
<line x1="361.35" y1="1229.8" x2="361.35" y2="1225.8" stroke="#2e2e2e" stroke-width="1.5"/>
<line x1="380.94" y1="1229.8" x2="380.94" y2="1222.4" stroke="#2e2e2e" stroke-width="1.5"/>
<line x1="400.53" y1="1229.8" x2="400.53" y2="1225.8" stroke="#2e2e2e" stroke-width="1.5"/>
<line x1="420.12" y1="1229.8" x2="420.12" y2="1222.4" stroke="#2e2e2e" stroke-width="1.5"/>
<line x1="439.71" y1="1229.8" x2="439.71" y2="1225.8" stroke="#2e2e2e" stroke-width="1.5"/>
<line x1="67.5" y1="701.06" x2="71.5" y2="701.06" stroke="#2e2e2e" stroke-width="1.5"/>
<line x1="459.3" y1="701.06" x2="455.3" y2="701.06" stroke="#2e2e2e" stroke-width="1.5"/>
<line x1="67.5" y1="718.11" x2="74.9" y2="718.11" stroke="#2e2e2e" stroke-width="1.5"/>
<line x1="459.3" y1="718.11" x2="451.9" y2="718.11" stroke="#2e2e2e" stroke-width="1.5"/>
<line x1="67.5" y1="735.17" x2="71.5" y2="735.17" stroke="#2e2e2e" stroke-width="1.5"/>
<line x1="459.3" y1="735.17" x2="455.3" y2="735.17" stroke="#2e2e2e" stroke-width="1.5"/>
<line x1="67.5" y1="752.23" x2="74.9" y2="752.23" stroke="#2e2e2e" stroke-width="1.5"/>
<line x1="459.3" y1="752.23" x2="451.9" y2="752.23" stroke="#2e2e2e" stroke-width="1.5"/>
<line x1="67.5" y1="769.28" x2="71.5" y2="769.28" stroke="#2e2e2e" stroke-width="1.5"/>
<line x1="459.3" y1="769.28" x2="455.3" y2="769.28" stroke="#2e2e2e" stroke-width="1.5"/>
<line x1="67.5" y1="786.34" x2="74.9" y2="786.34" stroke="#2e2e2e" stroke-width="1.5"/>
<line x1="459.3" y1="786.34" x2="451.9" y2="786.34" stroke="#2e2e2e" stroke-width="1.5"/>
<line x1="67.5" y1="803.39" x2="71.5" y2="803.39" stroke="#2e2e2e" stroke-width="1.5"/>
<line x1="459.3" y1="803.39" x2="455.3" y2="803.39" stroke="#2e2e2e" stroke-width="1.5"/>
<line x1="67.5" y1="837.51" x2="71.5" y2="837.51" stroke="#2e2e2e" stroke-width="1.5"/>
<line x1="459.3" y1="837.51" x2="455.3" y2="837.51" stroke="#2e2e2e" stroke-width="1.5"/>
<line x1="67.5" y1="854.56" x2="74.9" y2="854.56" stroke="#2e2e2e" stroke-width="1.5"/>
<line x1="459.3" y1="854.56" x2="451.9" y2="854.56" stroke="#2e2e2e" stroke-width="1.5"/>
<line x1="67.5" y1="871.62" x2="71.5" y2="871.62" stroke="#2e2e2e" stroke-width="1.5"/>
<line x1="459.3" y1="871.62" x2="455.3" y2="871.62" stroke="#2e2e2e" stroke-width="1.5"/>
<line x1="67.5" y1="888.68" x2="74.9" y2="888.68" stroke="#2e2e2e" stroke-width="1.5"/>
<line x1="459.3" y1="888.68" x2="451.9" y2="888.68" stroke="#2e2e2e" stroke-width="1.5"/>
<line x1="67.5" y1="905.73" x2="71.5" y2="905.73" stroke="#2e2e2e" stroke-width="1.5"/>
<line x1="459.3" y1="905.73" x2="455.3" y2="905.73" stroke="#2e2e2e" stroke-width="1.5"/>
<line x1="67.5" y1="922.79" x2="74.9" y2="922.79" stroke="#2e2e2e" stroke-width="1.5"/>
<line x1="459.3" y1="922.79" x2="451.9" y2="922.79" stroke="#2e2e2e" stroke-width="1.5"/>
<line x1="67.5" y1="939.84" x2="71.5" y2="939.84" stroke="#2e2e2e" stroke-width="1.5"/>
<line x1="459.3" y1="939.84" x2="455.3" y2="939.84" stroke="#2e2e2e" stroke-width="1.5"/>
<line x1="67.5" y1="973.96" x2="71.5" y2="973.96" stroke="#2e2e2e" stroke-width="1.5"/>
<line x1="459.3" y1="973.96" x2="455.3" y2="973.96" stroke="#2e2e2e" stroke-width="1.5"/>
<line x1="67.5" y1="991.01" x2="74.9" y2="991.01" stroke="#2e2e2e" stroke-width="1.5"/>
<line x1="459.3" y1="991.01" x2="451.9" y2="991.01" stroke="#2e2e2e" stroke-width="1.5"/>
<line x1="67.5" y1="1008.07" x2="71.5" y2="1008.07" stroke="#2e2e2e" stroke-width="1.5"/>
<line x1="459.3" y1="1008.07" x2="455.3" y2="1008.07" stroke="#2e2e2e" stroke-width="1.5"/>
<line x1="67.5" y1="1025.12" x2="74.9" y2="1025.12" stroke="#2e2e2e" stroke-width="1.5"/>
<line x1="459.3" y1="1025.12" x2="451.9" y2="1025.12" stroke="#2e2e2e" stroke-width="1.5"/>
<line x1="67.5" y1="1042.18" x2="71.5" y2="1042.18" stroke="#2e2e2e" stroke-width="1.5"/>
<line x1="459.3" y1="1042.18" x2="455.3" y2="1042.18" stroke="#2e2e2e" stroke-width="1.5"/>
<line x1="67.5" y1="1059.24" x2="74.9" y2="1059.24" stroke="#2e2e2e" stroke-width="1.5"/>
<line x1="459.3" y1="1059.24" x2="451.9" y2="1059.24" stroke="#2e2e2e" stroke-width="1.5"/>
<line x1="67.5" y1="1076.29" x2="71.5" y2="1076.29" stroke="#2e2e2e" stroke-width="1.5"/>
<line x1="459.3" y1="1076.29" x2="455.3" y2="1076.29" stroke="#2e2e2e" stroke-width="1.5"/>
<line x1="67.5" y1="1110.41" x2="71.5" y2="1110.41" stroke="#2e2e2e" stroke-width="1.5"/>
<line x1="459.3" y1="1110.41" x2="455.3" y2="1110.41" stroke="#2e2e2e" stroke-width="1.5"/>
<line x1="67.5" y1="1127.46" x2="74.9" y2="1127.46" stroke="#2e2e2e" stroke-width="1.5"/>
<line x1="459.3" y1="1127.46" x2="451.9" y2="1127.46" stroke="#2e2e2e" stroke-width="1.5"/>
<line x1="67.5" y1="1144.52" x2="71.5" y2="1144.52" stroke="#2e2e2e" stroke-width="1.5"/>
<line x1="459.3" y1="1144.52" x2="455.3" y2="1144.52" stroke="#2e2e2e" stroke-width="1.5"/>
<line x1="67.5" y1="1161.57" x2="74.9" y2="1161.57" stroke="#2e2e2e" stroke-width="1.5"/>
<line x1="459.3" y1="1161.57" x2="451.9" y2="1161.57" stroke="#2e2e2e" stroke-width="1.5"/>
<line x1="67.5" y1="1178.63" x2="71.5" y2="1178.63" stroke="#2e2e2e" stroke-width="1.5"/>
<line x1="459.3" y1="1178.63" x2="455.3" y2="1178.63" stroke="#2e2e2e" stroke-width="1.5"/>
<line x1="67.5" y1="1195.69" x2="74.9" y2="1195.69" stroke="#2e2e2e" stroke-width="1.5"/>
<line x1="459.3" y1="1195.69" x2="451.9" y2="1195.69" stroke="#2e2e2e" stroke-width="1.5"/>
<line x1="67.5" y1="1212.74" x2="71.5" y2="1212.74" stroke="#2e2e2e" stroke-width="1.5"/>
<line x1="459.3" y1="1212.74" x2="455.3" y2="1212.74" stroke="#2e2e2e" stroke-width="1.5"/>
<line x1="67.5" y1="820.45" x2="459.3" y2="820.45" stroke="#2e2e2e" stroke-width="1.9"/>
<line x1="67.5" y1="956.9" x2="459.3" y2="956.9" stroke="#2e2e2e" stroke-width="1.9"/>
<line x1="67.5" y1="1093.35" x2="459.3" y2="1093.35" stroke="#2e2e2e" stroke-width="1.9"/>
<rect x="67.5" y="684" width="391.8" height="545.8" fill="none" stroke="#2e2e2e" stroke-width="1.9"/>
<text transform="translate(59.7 723.31) scale(1 1)" font-size="15.7" text-anchor="end">264</text>
<text transform="translate(59.7 757.43) scale(1 1)" font-size="15.7" text-anchor="end">176</text>
<text transform="translate(59.7 791.54) scale(1 1)" font-size="15.7" text-anchor="end">88</text>
<text transform="translate(59.7 825.65) scale(1 1)" font-size="15.7" text-anchor="end">0</text>
<text transform="translate(59.7 859.76) scale(1 1)" font-size="15.7" text-anchor="end">264</text>
<text transform="translate(59.7 893.88) scale(1 1)" font-size="15.7" text-anchor="end">176</text>
<text transform="translate(59.7 927.99) scale(1 1)" font-size="15.7" text-anchor="end">88</text>
<text transform="translate(59.7 962.1) scale(1 1)" font-size="15.7" text-anchor="end">0</text>
<text transform="translate(59.7 996.21) scale(1 1)" font-size="15.7" text-anchor="end">264</text>
<text transform="translate(59.7 1030.33) scale(1 1)" font-size="15.7" text-anchor="end">176</text>
<text transform="translate(59.7 1064.44) scale(1 1)" font-size="15.7" text-anchor="end">88</text>
<text transform="translate(59.7 1098.55) scale(1 1)" font-size="15.7" text-anchor="end">0</text>
<text transform="translate(59.7 1132.66) scale(1 1)" font-size="15.7" text-anchor="end">264</text>
<text transform="translate(59.7 1166.77) scale(1 1)" font-size="15.7" text-anchor="end">176</text>
<text transform="translate(59.7 1200.89) scale(1 1)" font-size="15.7" text-anchor="end">88</text>
<text transform="translate(59.7 1235) scale(1 1)" font-size="15.7" text-anchor="end">0</text>
<text transform="translate(67.5 672.2) scale(1 1)" font-size="15.7" text-anchor="middle">690</text>
<text transform="translate(67.5 1250.4) scale(1 1)" font-size="15.7" text-anchor="middle">690</text>
<text transform="translate(106.68 672.2) scale(1 1)" font-size="15.7" text-anchor="middle">689</text>
<text transform="translate(106.68 1250.4) scale(1 1)" font-size="15.7" text-anchor="middle">689</text>
<text transform="translate(145.86 672.2) scale(1 1)" font-size="15.7" text-anchor="middle">688</text>
<text transform="translate(145.86 1250.4) scale(1 1)" font-size="15.7" text-anchor="middle">688</text>
<text transform="translate(185.04 672.2) scale(1 1)" font-size="15.7" text-anchor="middle">687</text>
<text transform="translate(185.04 1250.4) scale(1 1)" font-size="15.7" text-anchor="middle">687</text>
<text transform="translate(224.22 672.2) scale(1 1)" font-size="15.7" text-anchor="middle">686</text>
<text transform="translate(224.22 1250.4) scale(1 1)" font-size="15.7" text-anchor="middle">686</text>
<text transform="translate(263.4 672.2) scale(1 1)" font-size="15.7" text-anchor="middle">685</text>
<text transform="translate(263.4 1250.4) scale(1 1)" font-size="15.7" text-anchor="middle">685</text>
<text transform="translate(302.58 672.2) scale(1 1)" font-size="15.7" text-anchor="middle">684</text>
<text transform="translate(302.58 1250.4) scale(1 1)" font-size="15.7" text-anchor="middle">684</text>
<text transform="translate(341.76 672.2) scale(1 1)" font-size="15.7" text-anchor="middle">683</text>
<text transform="translate(341.76 1250.4) scale(1 1)" font-size="15.7" text-anchor="middle">683</text>
<text transform="translate(380.94 672.2) scale(1 1)" font-size="15.7" text-anchor="middle">682</text>
<text transform="translate(380.94 1250.4) scale(1 1)" font-size="15.7" text-anchor="middle">682</text>
<text transform="translate(420.12 672.2) scale(1 1)" font-size="15.7" text-anchor="middle">681</text>
<text transform="translate(420.12 1250.4) scale(1 1)" font-size="15.7" text-anchor="middle">681</text>
<text transform="translate(459.3 672.2) scale(1 1)" font-size="15.7" text-anchor="middle">680</text>
<text transform="translate(459.3 1250.4) scale(1 1)" font-size="15.7" text-anchor="middle">680</text>
<line x1="779" y1="684.3" x2="779" y2="1231.85" stroke="#efefef" stroke-width="8"/>
<line x1="779" y1="684.3" x2="779" y2="1231.85" stroke="#7a7a7a" stroke-width="3" stroke-dasharray="11 3.5"/>
<line x1="623.86" y1="820.69" x2="623.86" y2="816.69" stroke="#2e2e2e" stroke-width="1.5"/>
<line x1="623.86" y1="684.3" x2="623.86" y2="688.3" stroke="#2e2e2e" stroke-width="1.5"/>
<line x1="650.02" y1="820.69" x2="650.02" y2="813.29" stroke="#2e2e2e" stroke-width="1.5"/>
<line x1="650.02" y1="684.3" x2="650.02" y2="691.7" stroke="#2e2e2e" stroke-width="1.5"/>
<line x1="676.18" y1="820.69" x2="676.18" y2="816.69" stroke="#2e2e2e" stroke-width="1.5"/>
<line x1="676.18" y1="684.3" x2="676.18" y2="688.3" stroke="#2e2e2e" stroke-width="1.5"/>
<line x1="702.34" y1="820.69" x2="702.34" y2="813.29" stroke="#2e2e2e" stroke-width="1.5"/>
<line x1="702.34" y1="684.3" x2="702.34" y2="691.7" stroke="#2e2e2e" stroke-width="1.5"/>
<line x1="728.5" y1="820.69" x2="728.5" y2="816.69" stroke="#2e2e2e" stroke-width="1.5"/>
<line x1="728.5" y1="684.3" x2="728.5" y2="688.3" stroke="#2e2e2e" stroke-width="1.5"/>
<line x1="754.66" y1="820.69" x2="754.66" y2="813.29" stroke="#2e2e2e" stroke-width="1.5"/>
<line x1="754.66" y1="684.3" x2="754.66" y2="691.7" stroke="#2e2e2e" stroke-width="1.5"/>
<line x1="780.82" y1="820.69" x2="780.82" y2="816.69" stroke="#2e2e2e" stroke-width="1.5"/>
<line x1="780.82" y1="684.3" x2="780.82" y2="688.3" stroke="#2e2e2e" stroke-width="1.5"/>
<line x1="806.98" y1="820.69" x2="806.98" y2="813.29" stroke="#2e2e2e" stroke-width="1.5"/>
<line x1="806.98" y1="684.3" x2="806.98" y2="691.7" stroke="#2e2e2e" stroke-width="1.5"/>
<line x1="833.14" y1="820.69" x2="833.14" y2="816.69" stroke="#2e2e2e" stroke-width="1.5"/>
<line x1="833.14" y1="684.3" x2="833.14" y2="688.3" stroke="#2e2e2e" stroke-width="1.5"/>
<line x1="859.3" y1="820.69" x2="859.3" y2="813.29" stroke="#2e2e2e" stroke-width="1.5"/>
<line x1="859.3" y1="684.3" x2="859.3" y2="691.7" stroke="#2e2e2e" stroke-width="1.5"/>
<line x1="885.46" y1="820.69" x2="885.46" y2="816.69" stroke="#2e2e2e" stroke-width="1.5"/>
<line x1="885.46" y1="684.3" x2="885.46" y2="688.3" stroke="#2e2e2e" stroke-width="1.5"/>
<line x1="911.62" y1="820.69" x2="911.62" y2="813.29" stroke="#2e2e2e" stroke-width="1.5"/>
<line x1="911.62" y1="684.3" x2="911.62" y2="691.7" stroke="#2e2e2e" stroke-width="1.5"/>
<line x1="937.78" y1="820.69" x2="937.78" y2="816.69" stroke="#2e2e2e" stroke-width="1.5"/>
<line x1="937.78" y1="684.3" x2="937.78" y2="688.3" stroke="#2e2e2e" stroke-width="1.5"/>
<line x1="963.94" y1="820.69" x2="963.94" y2="813.29" stroke="#2e2e2e" stroke-width="1.5"/>
<line x1="963.94" y1="684.3" x2="963.94" y2="691.7" stroke="#2e2e2e" stroke-width="1.5"/>
<line x1="623.86" y1="957.08" x2="623.86" y2="953.08" stroke="#2e2e2e" stroke-width="1.5"/>
<line x1="650.02" y1="957.08" x2="650.02" y2="949.68" stroke="#2e2e2e" stroke-width="1.5"/>
<line x1="676.18" y1="957.08" x2="676.18" y2="953.08" stroke="#2e2e2e" stroke-width="1.5"/>
<line x1="702.34" y1="957.08" x2="702.34" y2="949.68" stroke="#2e2e2e" stroke-width="1.5"/>
<line x1="728.5" y1="957.08" x2="728.5" y2="953.08" stroke="#2e2e2e" stroke-width="1.5"/>
<line x1="754.66" y1="957.08" x2="754.66" y2="949.68" stroke="#2e2e2e" stroke-width="1.5"/>
<line x1="780.82" y1="957.08" x2="780.82" y2="953.08" stroke="#2e2e2e" stroke-width="1.5"/>
<line x1="806.98" y1="957.08" x2="806.98" y2="949.68" stroke="#2e2e2e" stroke-width="1.5"/>
<line x1="833.14" y1="957.08" x2="833.14" y2="953.08" stroke="#2e2e2e" stroke-width="1.5"/>
<line x1="859.3" y1="957.08" x2="859.3" y2="949.68" stroke="#2e2e2e" stroke-width="1.5"/>
<line x1="885.46" y1="957.08" x2="885.46" y2="953.08" stroke="#2e2e2e" stroke-width="1.5"/>
<line x1="911.62" y1="957.08" x2="911.62" y2="949.68" stroke="#2e2e2e" stroke-width="1.5"/>
<line x1="937.78" y1="957.08" x2="937.78" y2="953.08" stroke="#2e2e2e" stroke-width="1.5"/>
<line x1="963.94" y1="957.08" x2="963.94" y2="949.68" stroke="#2e2e2e" stroke-width="1.5"/>
<line x1="623.86" y1="1093.46" x2="623.86" y2="1089.46" stroke="#2e2e2e" stroke-width="1.5"/>
<line x1="650.02" y1="1093.46" x2="650.02" y2="1086.06" stroke="#2e2e2e" stroke-width="1.5"/>
<line x1="676.18" y1="1093.46" x2="676.18" y2="1089.46" stroke="#2e2e2e" stroke-width="1.5"/>
<line x1="702.34" y1="1093.46" x2="702.34" y2="1086.06" stroke="#2e2e2e" stroke-width="1.5"/>
<line x1="728.5" y1="1093.46" x2="728.5" y2="1089.46" stroke="#2e2e2e" stroke-width="1.5"/>
<line x1="754.66" y1="1093.46" x2="754.66" y2="1086.06" stroke="#2e2e2e" stroke-width="1.5"/>
<line x1="780.82" y1="1093.46" x2="780.82" y2="1089.46" stroke="#2e2e2e" stroke-width="1.5"/>
<line x1="806.98" y1="1093.46" x2="806.98" y2="1086.06" stroke="#2e2e2e" stroke-width="1.5"/>
<line x1="833.14" y1="1093.46" x2="833.14" y2="1089.46" stroke="#2e2e2e" stroke-width="1.5"/>
<line x1="859.3" y1="1093.46" x2="859.3" y2="1086.06" stroke="#2e2e2e" stroke-width="1.5"/>
<line x1="885.46" y1="1093.46" x2="885.46" y2="1089.46" stroke="#2e2e2e" stroke-width="1.5"/>
<line x1="911.62" y1="1093.46" x2="911.62" y2="1086.06" stroke="#2e2e2e" stroke-width="1.5"/>
<line x1="937.78" y1="1093.46" x2="937.78" y2="1089.46" stroke="#2e2e2e" stroke-width="1.5"/>
<line x1="963.94" y1="1093.46" x2="963.94" y2="1086.06" stroke="#2e2e2e" stroke-width="1.5"/>
<line x1="623.86" y1="1229.85" x2="623.86" y2="1225.85" stroke="#2e2e2e" stroke-width="1.5"/>
<line x1="650.02" y1="1229.85" x2="650.02" y2="1222.45" stroke="#2e2e2e" stroke-width="1.5"/>
<line x1="676.18" y1="1229.85" x2="676.18" y2="1225.85" stroke="#2e2e2e" stroke-width="1.5"/>
<line x1="702.34" y1="1229.85" x2="702.34" y2="1222.45" stroke="#2e2e2e" stroke-width="1.5"/>
<line x1="728.5" y1="1229.85" x2="728.5" y2="1225.85" stroke="#2e2e2e" stroke-width="1.5"/>
<line x1="754.66" y1="1229.85" x2="754.66" y2="1222.45" stroke="#2e2e2e" stroke-width="1.5"/>
<line x1="780.82" y1="1229.85" x2="780.82" y2="1225.85" stroke="#2e2e2e" stroke-width="1.5"/>
<line x1="806.98" y1="1229.85" x2="806.98" y2="1222.45" stroke="#2e2e2e" stroke-width="1.5"/>
<line x1="833.14" y1="1229.85" x2="833.14" y2="1225.85" stroke="#2e2e2e" stroke-width="1.5"/>
<line x1="859.3" y1="1229.85" x2="859.3" y2="1222.45" stroke="#2e2e2e" stroke-width="1.5"/>
<line x1="885.46" y1="1229.85" x2="885.46" y2="1225.85" stroke="#2e2e2e" stroke-width="1.5"/>
<line x1="911.62" y1="1229.85" x2="911.62" y2="1222.45" stroke="#2e2e2e" stroke-width="1.5"/>
<line x1="937.78" y1="1229.85" x2="937.78" y2="1225.85" stroke="#2e2e2e" stroke-width="1.5"/>
<line x1="963.94" y1="1229.85" x2="963.94" y2="1222.45" stroke="#2e2e2e" stroke-width="1.5"/>
<line x1="597.7" y1="687.44" x2="605.1" y2="687.44" stroke="#2e2e2e" stroke-width="1.5"/>
<line x1="990.1" y1="687.44" x2="982.7" y2="687.44" stroke="#2e2e2e" stroke-width="1.5"/>
<line x1="597.7" y1="704.86" x2="601.7" y2="704.86" stroke="#2e2e2e" stroke-width="1.5"/>
<line x1="990.1" y1="704.86" x2="986.1" y2="704.86" stroke="#2e2e2e" stroke-width="1.5"/>
<line x1="597.7" y1="722.28" x2="605.1" y2="722.28" stroke="#2e2e2e" stroke-width="1.5"/>
<line x1="990.1" y1="722.28" x2="982.7" y2="722.28" stroke="#2e2e2e" stroke-width="1.5"/>
<line x1="597.7" y1="739.7" x2="601.7" y2="739.7" stroke="#2e2e2e" stroke-width="1.5"/>
<line x1="990.1" y1="739.7" x2="986.1" y2="739.7" stroke="#2e2e2e" stroke-width="1.5"/>
<line x1="597.7" y1="757.12" x2="605.1" y2="757.12" stroke="#2e2e2e" stroke-width="1.5"/>
<line x1="990.1" y1="757.12" x2="982.7" y2="757.12" stroke="#2e2e2e" stroke-width="1.5"/>
<line x1="597.7" y1="774.54" x2="601.7" y2="774.54" stroke="#2e2e2e" stroke-width="1.5"/>
<line x1="990.1" y1="774.54" x2="986.1" y2="774.54" stroke="#2e2e2e" stroke-width="1.5"/>
<line x1="597.7" y1="791.96" x2="605.1" y2="791.96" stroke="#2e2e2e" stroke-width="1.5"/>
<line x1="990.1" y1="791.96" x2="982.7" y2="791.96" stroke="#2e2e2e" stroke-width="1.5"/>
<line x1="597.7" y1="809.38" x2="601.7" y2="809.38" stroke="#2e2e2e" stroke-width="1.5"/>
<line x1="990.1" y1="809.38" x2="986.1" y2="809.38" stroke="#2e2e2e" stroke-width="1.5"/>
<line x1="597.7" y1="823.82" x2="605.1" y2="823.82" stroke="#2e2e2e" stroke-width="1.5"/>
<line x1="990.1" y1="823.82" x2="982.7" y2="823.82" stroke="#2e2e2e" stroke-width="1.5"/>
<line x1="597.7" y1="841.24" x2="601.7" y2="841.24" stroke="#2e2e2e" stroke-width="1.5"/>
<line x1="990.1" y1="841.24" x2="986.1" y2="841.24" stroke="#2e2e2e" stroke-width="1.5"/>
<line x1="597.7" y1="858.66" x2="605.1" y2="858.66" stroke="#2e2e2e" stroke-width="1.5"/>
<line x1="990.1" y1="858.66" x2="982.7" y2="858.66" stroke="#2e2e2e" stroke-width="1.5"/>
<line x1="597.7" y1="876.08" x2="601.7" y2="876.08" stroke="#2e2e2e" stroke-width="1.5"/>
<line x1="990.1" y1="876.08" x2="986.1" y2="876.08" stroke="#2e2e2e" stroke-width="1.5"/>
<line x1="597.7" y1="893.5" x2="605.1" y2="893.5" stroke="#2e2e2e" stroke-width="1.5"/>
<line x1="990.1" y1="893.5" x2="982.7" y2="893.5" stroke="#2e2e2e" stroke-width="1.5"/>
<line x1="597.7" y1="910.92" x2="601.7" y2="910.92" stroke="#2e2e2e" stroke-width="1.5"/>
<line x1="990.1" y1="910.92" x2="986.1" y2="910.92" stroke="#2e2e2e" stroke-width="1.5"/>
<line x1="597.7" y1="928.34" x2="605.1" y2="928.34" stroke="#2e2e2e" stroke-width="1.5"/>
<line x1="990.1" y1="928.34" x2="982.7" y2="928.34" stroke="#2e2e2e" stroke-width="1.5"/>
<line x1="597.7" y1="945.76" x2="601.7" y2="945.76" stroke="#2e2e2e" stroke-width="1.5"/>
<line x1="990.1" y1="945.76" x2="986.1" y2="945.76" stroke="#2e2e2e" stroke-width="1.5"/>
<line x1="597.7" y1="960.21" x2="605.1" y2="960.21" stroke="#2e2e2e" stroke-width="1.5"/>
<line x1="990.1" y1="960.21" x2="982.7" y2="960.21" stroke="#2e2e2e" stroke-width="1.5"/>
<line x1="597.7" y1="977.63" x2="601.7" y2="977.63" stroke="#2e2e2e" stroke-width="1.5"/>
<line x1="990.1" y1="977.63" x2="986.1" y2="977.63" stroke="#2e2e2e" stroke-width="1.5"/>
<line x1="597.7" y1="995.05" x2="605.1" y2="995.05" stroke="#2e2e2e" stroke-width="1.5"/>
<line x1="990.1" y1="995.05" x2="982.7" y2="995.05" stroke="#2e2e2e" stroke-width="1.5"/>
<line x1="597.7" y1="1012.47" x2="601.7" y2="1012.47" stroke="#2e2e2e" stroke-width="1.5"/>
<line x1="990.1" y1="1012.47" x2="986.1" y2="1012.47" stroke="#2e2e2e" stroke-width="1.5"/>
<line x1="597.7" y1="1029.89" x2="605.1" y2="1029.89" stroke="#2e2e2e" stroke-width="1.5"/>
<line x1="990.1" y1="1029.89" x2="982.7" y2="1029.89" stroke="#2e2e2e" stroke-width="1.5"/>
<line x1="597.7" y1="1047.31" x2="601.7" y2="1047.31" stroke="#2e2e2e" stroke-width="1.5"/>
<line x1="990.1" y1="1047.31" x2="986.1" y2="1047.31" stroke="#2e2e2e" stroke-width="1.5"/>
<line x1="597.7" y1="1064.73" x2="605.1" y2="1064.73" stroke="#2e2e2e" stroke-width="1.5"/>
<line x1="990.1" y1="1064.73" x2="982.7" y2="1064.73" stroke="#2e2e2e" stroke-width="1.5"/>
<line x1="597.7" y1="1082.15" x2="601.7" y2="1082.15" stroke="#2e2e2e" stroke-width="1.5"/>
<line x1="990.1" y1="1082.15" x2="986.1" y2="1082.15" stroke="#2e2e2e" stroke-width="1.5"/>
<line x1="597.7" y1="1096.6" x2="605.1" y2="1096.6" stroke="#2e2e2e" stroke-width="1.5"/>
<line x1="990.1" y1="1096.6" x2="982.7" y2="1096.6" stroke="#2e2e2e" stroke-width="1.5"/>
<line x1="597.7" y1="1114.02" x2="601.7" y2="1114.02" stroke="#2e2e2e" stroke-width="1.5"/>
<line x1="990.1" y1="1114.02" x2="986.1" y2="1114.02" stroke="#2e2e2e" stroke-width="1.5"/>
<line x1="597.7" y1="1131.44" x2="605.1" y2="1131.44" stroke="#2e2e2e" stroke-width="1.5"/>
<line x1="990.1" y1="1131.44" x2="982.7" y2="1131.44" stroke="#2e2e2e" stroke-width="1.5"/>
<line x1="597.7" y1="1148.86" x2="601.7" y2="1148.86" stroke="#2e2e2e" stroke-width="1.5"/>
<line x1="990.1" y1="1148.86" x2="986.1" y2="1148.86" stroke="#2e2e2e" stroke-width="1.5"/>
<line x1="597.7" y1="1166.28" x2="605.1" y2="1166.28" stroke="#2e2e2e" stroke-width="1.5"/>
<line x1="990.1" y1="1166.28" x2="982.7" y2="1166.28" stroke="#2e2e2e" stroke-width="1.5"/>
<line x1="597.7" y1="1183.7" x2="601.7" y2="1183.7" stroke="#2e2e2e" stroke-width="1.5"/>
<line x1="990.1" y1="1183.7" x2="986.1" y2="1183.7" stroke="#2e2e2e" stroke-width="1.5"/>
<line x1="597.7" y1="1201.12" x2="605.1" y2="1201.12" stroke="#2e2e2e" stroke-width="1.5"/>
<line x1="990.1" y1="1201.12" x2="982.7" y2="1201.12" stroke="#2e2e2e" stroke-width="1.5"/>
<line x1="597.7" y1="1218.54" x2="601.7" y2="1218.54" stroke="#2e2e2e" stroke-width="1.5"/>
<line x1="990.1" y1="1218.54" x2="986.1" y2="1218.54" stroke="#2e2e2e" stroke-width="1.5"/>
<line x1="597.7" y1="820.69" x2="990.1" y2="820.69" stroke="#2e2e2e" stroke-width="1.9"/>
<line x1="597.7" y1="957.07" x2="990.1" y2="957.07" stroke="#2e2e2e" stroke-width="1.9"/>
<line x1="597.7" y1="1093.46" x2="990.1" y2="1093.46" stroke="#2e2e2e" stroke-width="1.9"/>
<rect x="597.7" y="684.3" width="392.4" height="545.55" fill="none" stroke="#2e2e2e" stroke-width="1.9"/>
<text transform="translate(590.3 692.64) scale(1 1)" font-size="15.7" text-anchor="end">65</text>
<text transform="translate(590.3 727.48) scale(1 1)" font-size="15.7" text-anchor="end">52</text>
<text transform="translate(590.3 762.32) scale(1 1)" font-size="15.7" text-anchor="end">39</text>
<text transform="translate(590.3 797.16) scale(1 1)" font-size="15.7" text-anchor="end">26</text>
<text transform="translate(590.3 829.02) scale(1 1)" font-size="15.7" text-anchor="end">65</text>
<text transform="translate(590.3 863.86) scale(1 1)" font-size="15.7" text-anchor="end">52</text>
<text transform="translate(590.3 898.7) scale(1 1)" font-size="15.7" text-anchor="end">39</text>
<text transform="translate(590.3 933.54) scale(1 1)" font-size="15.7" text-anchor="end">26</text>
<text transform="translate(590.3 965.41) scale(1 1)" font-size="15.7" text-anchor="end">65</text>
<text transform="translate(590.3 1000.25) scale(1 1)" font-size="15.7" text-anchor="end">52</text>
<text transform="translate(590.3 1035.09) scale(1 1)" font-size="15.7" text-anchor="end">39</text>
<text transform="translate(590.3 1069.93) scale(1 1)" font-size="15.7" text-anchor="end">26</text>
<text transform="translate(590.3 1101.8) scale(1 1)" font-size="15.7" text-anchor="end">65</text>
<text transform="translate(590.3 1136.64) scale(1 1)" font-size="15.7" text-anchor="end">52</text>
<text transform="translate(590.3 1171.48) scale(1 1)" font-size="15.7" text-anchor="end">39</text>
<text transform="translate(590.3 1206.32) scale(1 1)" font-size="15.7" text-anchor="end">26</text>
<text transform="translate(597.7 672.2) scale(1 1)" font-size="15.7" text-anchor="middle">200</text>
<text transform="translate(597.7 1250.4) scale(1 1)" font-size="15.7" text-anchor="middle">200</text>
<text transform="translate(650.02 672.2) scale(1 1)" font-size="15.7" text-anchor="middle">198</text>
<text transform="translate(650.02 1250.4) scale(1 1)" font-size="15.7" text-anchor="middle">198</text>
<text transform="translate(702.34 672.2) scale(1 1)" font-size="15.7" text-anchor="middle">196</text>
<text transform="translate(702.34 1250.4) scale(1 1)" font-size="15.7" text-anchor="middle">196</text>
<text transform="translate(754.66 672.2) scale(1 1)" font-size="15.7" text-anchor="middle">194</text>
<text transform="translate(754.66 1250.4) scale(1 1)" font-size="15.7" text-anchor="middle">194</text>
<text transform="translate(806.98 672.2) scale(1 1)" font-size="15.7" text-anchor="middle">192</text>
<text transform="translate(806.98 1250.4) scale(1 1)" font-size="15.7" text-anchor="middle">192</text>
<text transform="translate(859.3 672.2) scale(1 1)" font-size="15.7" text-anchor="middle">190</text>
<text transform="translate(859.3 1250.4) scale(1 1)" font-size="15.7" text-anchor="middle">190</text>
<text transform="translate(911.62 672.2) scale(1 1)" font-size="15.7" text-anchor="middle">188</text>
<text transform="translate(911.62 1250.4) scale(1 1)" font-size="15.7" text-anchor="middle">188</text>
<text transform="translate(963.94 672.2) scale(1 1)" font-size="15.7" text-anchor="middle">186</text>
<text transform="translate(963.94 1250.4) scale(1 1)" font-size="15.7" text-anchor="middle">186</text>
<path d="M67 151.01 L68 150.76 L69 151.08 L70 151.45 L71 150.69 L72 150.63 L73 149.93 L74 150.28 L75 150.19 L76 149.93 L77 149.88 L78 150.25 L79 150.25 L80 150.2 L81 150.14 L82 149.82 L83 150.17 L84 149.86 L85 149.87 L86 149.96 L87 149.85 L88 150.04 L89 149.78 L90 150.21 L91 149.71 L92 150.1 L93 150.36 L94 150.32 L95 149.7 L96 150.1 L97 150.47 L98 150.29 L99 150.25 L100 150.25 L101 150.41 L102 150.68 L103 150.54 L104 150.41 L105 150.87 L106 150.44 L107 150.74 L108 150.49 L109 150.85 L110 151.3 L111 150.58 L112 151.1 L113 150.56 L114 151.08 L115 150.79 L116 150.46 L117 150.89 L118 151.4 L119 150.6 L120 150.89 L121 151.08 L122 150.67 L123 150.79 L124 151.35 L125 151.14 L126 150.33 L127 150.4 L128 150.49 L129 151.23 L130 150.18 L131 150.17 L132 149.96 L133 149.57 L134 149.62 L135 149.95 L136 149.76 L137 149.09 L138 149.52 L139 149.36 L140 149.18 L141 148.92 L142 148.63 L143 148.68 L144 148.8 L145 148.39 L146 147.75 L147 147.52 L148 147.51 L149 147.29 L150 146.42 L151 146.13 L152 146.51 L153 145.78 L154 145.75 L155 145.31 L156 144.76 L157 144.09 L158 144.18 L159 143.02 L160 142.82 L161 142.54 L162 141.64 L163 141.46 L164 141.36 L165 140.55 L166 139.82 L167 139.19 L168 138.47 L169 138.06 L170 137.73 L171 136.99 L172 136.36 L173 135.36 L174 134.61 L175 133.84 L176 134.01 L177 133.18 L178 132.29 L179 131.76 L180 130.97 L181 130.1 L182 129.77 L183 128.59 L184 127.86 L185 127.45 L186 126.32 L187 125.95 L188 123.81 L189 123.59 L190 122.71 L191 122.18 L192 121.56 L193 120.32 L194 119.73 L195 118.54 L196 117.92 L197 117.57 L198 116.92 L199 116.89 L200 115.61 L201 115.36 L202 114.51 L203 113.97 L204 113.93 L205 113.36 L206 113.04 L207 113.49 L208 113.16 L209 113.4 L210 113.01 L211 113.97 L212 114.25 L213 114.71 L214 114.55 L215 115.86 L216 115.79 L217 116.73 L218 117.38 L219 117.71 L220 117.57 L221 119.16 L222 119.62 L223 120.68 L224 121.31 L225 122.26 L226 123.49 L227 124.39 L228 125.13 L229 125.69 L230 126.11 L231 127.14 L232 128.1 L233 128.85 L234 128.95 L235 129.4 L236 129.66 L237 129.73 L238 130.26 L239 130.21 L240 130.91 L241 130.98 L242 130.59 L243 131.17 L244 131.4 L245 131.03 L246 131.23 L247 130.62 L248 130.37 L249 129.91 L250 129.56 L251 129.23 L252 128.9 L253 128.42 L254 128.11 L255 127.85 L256 127.41 L257 127.02 L258 126.26 L259 125.55 L260 124.37 L261 124.49 L262 123.84 L263 123.74 L264 122.75 L265 123.06 L266 122.21 L267 121.88 L268 121.09 L269 121.1 L270 121.02 L271 119.88 L272 120.59 L273 119.69 L274 119.84 L275 119.88 L276 119.68 L277 119.53 L278 119.4 L279 118.6 L280 118.75 L281 118.36 L282 118.54 L283 117.46 L284 117.28 L285 116.88 L286 116.05 L287 115.98 L288 114.09 L289 113.94 L290 113.93 L291 112.55 L292 112.25 L293 111.38 L294 110.24 L295 109.17 L296 107.38 L297 106.26 L298 104.19 L299 102.45 L300 100.16 L301 97.98 L302 96.19 L303 92.84 L304 90.33 L305 87.64 L306 85.01 L307 82 L308 79.71 L309 76.63 L310 74.34 L311 71.4 L312 68.82 L313 66.39 L314 63.35 L315 61.03 L316 58.36 L317 56.47 L318 54.17 L319 53.68 L320 51.11 L321 50.66 L322 49.78 L323 49.51 L324 49.63 L325 49.27 L326 49.76 L327 50 L328 51.39 L329 52.38 L330 54.88 L331 57.2 L332 59.63 L333 62.15 L334 65.4 L335 68.9 L336 72.27 L337 75.49 L338 78.98 L339 82.5 L340 86.16 L341 89.74 L342 93.42 L343 96.87 L344 100.51 L345 104.48 L346 108.34 L347 111.09 L348 114.21 L349 117.31 L350 120.4 L351 123.57 L352 126.74 L353 128.54 L354 130.97 L355 133.39 L356 134.96 L357 137.05 L358 139.17 L359 140.05 L360 141.75 L361 142.5 L362 144.12 L363 144.77 L364 146.73 L365 146.12 L366 147.38 L367 147.79 L368 148.43 L369 148.87 L370 149.56 L371 150.08 L372 150.08 L373 150.68 L374 150.68 L375 150.71 L376 151.22 L377 151.41 L378 151.59 L379 151.88 L380 152.11 L381 152.24 L382 152.38 L383 151.83 L384 152.42 L385 152.85 L386 152.81 L387 152.79 L388 152.17 L389 152.76 L390 152.82 L391 152.89 L392 153.09 L393 152.86 L394 153.37 L395 152.91 L396 153.3 L397 153.16 L398 153.56 L399 153 L400 153.87 L401 153.32 L402 153.49 L403 154 L404 153.74 L405 153.66 L406 153.84 L407 153.97 L408 153.62 L409 153.92 L410 153.9 L411 153.62 L412 153.94 L413 154.05 L414 153.87 L415 154.25 L416 153.65 L417 154.3 L418 154.2 L419 153.72 L420 153.59 L421 153.92 L422 153.97 L423 154.08 L424 154.38 L425 154.39 L426 153.75 L427 154.6 L428 154.19 L429 154.62 L430 154.78 L431 154.65 L432 154.71 L433 154.69 L434 154.46 L435 154.29 L436 154.83 L437 154.44 L438 155 L439 155.32 L440 155.13 L441 154.7 L442 154.06 L443 154.5 L444 154.89 L445 154.8 L446 155.1 L447 155.06 L448 154.6 L449 154.87 L450 155 L451 155.14 L452 154.7 L453 154.75 L454 154.82 L455 154.66 L456 154.55 L457 154.73 L457.5 154.36" fill="none" stroke="#ef8427" stroke-width="2.6" stroke-linejoin="round" stroke-linecap="round"/>
<path d="M67 287.47 L68 288.37 L69 288.03 L70 287.84 L71 288.05 L72 288.21 L73 288.03 L74 288.1 L75 288.22 L76 287.89 L77 287.89 L78 288.29 L79 288.35 L80 288.06 L81 288.45 L82 288.22 L83 287.53 L84 287.67 L85 287.77 L86 287.86 L87 288.03 L88 288.02 L89 288.31 L90 287.84 L91 288.03 L92 287.93 L93 287.73 L94 288.39 L95 288.65 L96 288.15 L97 287.54 L98 287.8 L99 287.54 L100 287.58 L101 288.15 L102 287.41 L103 288.24 L104 287.56 L105 287.94 L106 287.94 L107 287.65 L108 287.69 L109 287.81 L110 288.01 L111 287.66 L112 287.22 L113 287.17 L114 287.34 L115 287.19 L116 287.78 L117 287.05 L118 287.6 L119 287.36 L120 287.27 L121 286.8 L122 287.1 L123 286.74 L124 287.16 L125 286.97 L126 286.95 L127 286.75 L128 286.75 L129 286.64 L130 286.52 L131 286.68 L132 286.69 L133 286.53 L134 286.96 L135 286.12 L136 285.93 L137 286.15 L138 286.09 L139 285.95 L140 285.87 L141 285.25 L142 285.07 L143 284.6 L144 284.54 L145 284.07 L146 284.04 L147 283.1 L148 282.93 L149 283.03 L150 282.21 L151 282.75 L152 281.89 L153 281.87 L154 281.64 L155 281.36 L156 280.61 L157 280.28 L158 279.5 L159 279.1 L160 278.76 L161 277.86 L162 277.24 L163 276.58 L164 275.7 L165 274.72 L166 274.26 L167 272.78 L168 272.53 L169 272.05 L170 270.24 L171 269.25 L172 268.59 L173 266.91 L174 265.2 L175 264.95 L176 263.56 L177 262.24 L178 260.58 L179 259.45 L180 258.18 L181 256.57 L182 255.21 L183 253.7 L184 252.9 L185 251.17 L186 249.73 L187 248.97 L188 247.22 L189 246.53 L190 244.63 L191 243.88 L192 243.04 L193 241.8 L194 240.87 L195 240.5 L196 239.39 L197 238.62 L198 237.98 L199 237.85 L200 237.02 L201 236.74 L202 236.12 L203 236.23 L204 236.04 L205 235.95 L206 235.72 L207 235.96 L208 235.07 L209 234.8 L210 235.51 L211 235.11 L212 234.99 L213 235.47 L214 235.7 L215 236.2 L216 236.87 L217 237.69 L218 238.63 L219 239.02 L220 240 L221 241.4 L222 242.02 L223 242.44 L224 244.3 L225 245.17 L226 245.83 L227 246.89 L228 247.85 L229 248.95 L230 250.53 L231 250.9 L232 252.06 L233 253.16 L234 253.5 L235 254.34 L236 254.83 L237 255.6 L238 256.09 L239 257.32 L240 257.45 L241 257.41 L242 258.72 L243 258.61 L244 258.7 L245 258.88 L246 258.86 L247 258.64 L248 258.52 L249 258.18 L250 257.84 L251 256.95 L252 256.77 L253 256.83 L254 255.3 L255 255.42 L256 254.87 L257 255.39 L258 254.27 L259 254.08 L260 253.4 L261 253.02 L262 252.36 L263 251.3 L264 250.71 L265 250.3 L266 250.22 L267 249.25 L268 248.83 L269 248.33 L270 247.62 L271 247.92 L272 247.36 L273 247.1 L274 246.66 L275 246.56 L276 246.66 L277 245.98 L278 245.75 L279 245.82 L280 245.56 L281 245.79 L282 244.58 L283 244.18 L284 243.32 L285 243.02 L286 242.24 L287 241.62 L288 240.93 L289 239.66 L290 238.43 L291 236.77 L292 235.37 L293 233.67 L294 230.87 L295 229.43 L296 226.72 L297 224.16 L298 221.77 L299 218.71 L300 215.28 L301 212.68 L302 209.85 L303 206.68 L304 204 L305 200.55 L306 197.79 L307 194.76 L308 190.56 L309 188.76 L310 184.88 L311 181.96 L312 179.31 L313 177.02 L314 174.42 L315 172.51 L316 170.37 L317 169.28 L318 168.87 L319 168.61 L320 169.02 L321 169.48 L322 170.34 L323 171.79 L324 173.76 L325 175.76 L326 178.32 L327 180.68 L328 183.39 L329 186.31 L330 189.61 L331 193.11 L332 196.55 L333 200.18 L334 204.33 L335 208.53 L336 212.49 L337 216 L338 220.08 L339 224.21 L340 228.27 L341 231.92 L342 234.96 L343 239.74 L344 241.96 L345 245.48 L346 249.15 L347 252.56 L348 255.3 L349 258.3 L350 262.08 L351 264.13 L352 267.12 L353 268.87 L354 270.88 L355 272.46 L356 274.99 L357 275.49 L358 276.91 L359 277.98 L360 279.44 L361 279.8 L362 280.56 L363 280.99 L364 281.5 L365 282.38 L366 282.7 L367 283.37 L368 283.44 L369 284.22 L370 284.64 L371 284.81 L372 284.97 L373 285.49 L374 285.5 L375 285.93 L376 286.2 L377 285.87 L378 286.52 L379 286.51 L380 285.87 L381 286.75 L382 286.99 L383 286.87 L384 286.79 L385 286.62 L386 287.3 L387 287.37 L388 287.58 L389 287.2 L390 287.11 L391 287.19 L392 287.71 L393 287.18 L394 287.56 L395 287.81 L396 287.56 L397 287.19 L398 287.95 L399 287.69 L400 288.25 L401 288.14 L402 287.74 L403 288 L404 288.37 L405 288.28 L406 288.15 L407 288.29 L408 288.44 L409 288.3 L410 288.55 L411 288.89 L412 288.46 L413 289.02 L414 289.06 L415 288.68 L416 288.7 L417 289.03 L418 288.86 L419 288.77 L420 289.37 L421 289.68 L422 289.48 L423 289.17 L424 289.26 L425 289.37 L426 290.11 L427 289.92 L428 290.26 L429 290.13 L430 290.26 L431 290.7 L432 290.63 L433 290.68 L434 290.75 L435 290.71 L436 290.87 L437 291.33 L438 290.82 L439 291 L440 291.56 L441 290.77 L442 291.18 L443 291.97 L444 291.11 L445 291.71 L446 291.76 L447 291.41 L448 291.95 L449 291.9 L450 291.56 L451 291.5 L452 291.96 L453 292.15 L454 291.54 L455 291.66 L456 291.94 L457 291.69 L457.5 291.9" fill="none" stroke="#828012" stroke-width="2.6" stroke-linejoin="round" stroke-linecap="round"/>
<path d="M67 421.98 L68 421.97 L69 421.79 L70 421.24 L71 421.51 L72 421.83 L73 421.9 L74 421.39 L75 421.29 L76 421.81 L77 421.47 L78 421.74 L79 422.17 L80 421.71 L81 421.64 L82 421.84 L83 421.89 L84 421.33 L85 421.08 L86 421.91 L87 421.74 L88 421.72 L89 421.5 L90 421.71 L91 422.06 L92 421.94 L93 421.53 L94 421.45 L95 421.87 L96 421.93 L97 421.86 L98 421.42 L99 422.33 L100 421.97 L101 422.53 L102 421.82 L103 422.27 L104 422.22 L105 422.59 L106 422.68 L107 422.2 L108 422.46 L109 422.79 L110 422.26 L111 422.61 L112 422.96 L113 422.55 L114 422.41 L115 422.03 L116 422.63 L117 422.17 L118 422.01 L119 421.81 L120 421.99 L121 421.55 L122 422.32 L123 421.46 L124 421.61 L125 421.53 L126 421.25 L127 421.16 L128 421.7 L129 421 L130 420.97 L131 420.62 L132 420.87 L133 420.91 L134 420.44 L135 420.24 L136 420.15 L137 420.29 L138 420.41 L139 419.58 L140 419.76 L141 419.33 L142 419.64 L143 419.08 L144 419.28 L145 418.87 L146 418.39 L147 418.17 L148 417.81 L149 418.38 L150 417.48 L151 417.62 L152 417.44 L153 416.67 L154 416.3 L155 416.15 L156 415.7 L157 414.82 L158 414.36 L159 414.18 L160 413.44 L161 413.4 L162 413.26 L163 412.5 L164 411.76 L165 411.02 L166 410.45 L167 410.41 L168 410.3 L169 408.9 L170 408.31 L171 407.87 L172 407.12 L173 406.27 L174 405.53 L175 404.71 L176 403.9 L177 402.73 L178 402.01 L179 401.1 L180 399.71 L181 399.39 L182 398.58 L183 397.61 L184 396.56 L185 396.12 L186 395.41 L187 394.35 L188 393.79 L189 392.66 L190 391.82 L191 391.12 L192 390.06 L193 388.56 L194 388.04 L195 386.94 L196 385.74 L197 385.55 L198 384.81 L199 383.66 L200 383.4 L201 382.55 L202 381.7 L203 381.53 L204 380.83 L205 381.04 L206 380.73 L207 380.74 L208 380.29 L209 380.59 L210 380.69 L211 380.71 L212 381.15 L213 381.55 L214 381.58 L215 382.06 L216 382.92 L217 383.6 L218 384.44 L219 384.71 L220 384.71 L221 385.83 L222 386.86 L223 387.66 L224 387.83 L225 388.8 L226 389.21 L227 390.06 L228 390.64 L229 391.21 L230 391.7 L231 392.57 L232 393.14 L233 393.21 L234 394.24 L235 394.4 L236 395.39 L237 396.18 L238 396.33 L239 397.12 L240 396.55 L241 397.37 L242 397.59 L243 398.44 L244 398.82 L245 399.04 L246 399.1 L247 399.58 L248 399.98 L249 399.16 L250 399.32 L251 399.01 L252 398.21 L253 397.85 L254 397.43 L255 396.72 L256 396.33 L257 395.36 L258 394.87 L259 394.32 L260 393.89 L261 393.66 L262 393.57 L263 392.74 L264 392.85 L265 391.92 L266 392.26 L267 391.71 L268 390.85 L269 390.57 L270 389.73 L271 389.61 L272 389.18 L273 388.09 L274 387.81 L275 387.17 L276 386.58 L277 386.69 L278 386.23 L279 386.03 L280 385.6 L281 385.62 L282 385.88 L283 386.04 L284 385.39 L285 385.67 L286 384.54 L287 384.87 L288 384.53 L289 384.48 L290 383.79 L291 382.89 L292 382.07 L293 380.63 L294 378.9 L295 377.89 L296 375.76 L297 373.79 L298 371.5 L299 370.57 L300 367.69 L301 366.64 L302 364.59 L303 362.82 L304 360.07 L305 358.25 L306 355.81 L307 353.4 L308 350.19 L309 347.5 L310 345.17 L311 341.7 L312 338.78 L313 335.18 L314 332.09 L315 328.79 L316 325.24 L317 321.91 L318 319.08 L319 316.44 L320 314.67 L321 312.34 L322 310.28 L323 308.68 L324 308.24 L325 307.4 L326 306.56 L327 306.97 L328 307.31 L329 307.86 L330 309.72 L331 310.45 L332 312.13 L333 314.42 L334 315.95 L335 318.35 L336 321.34 L337 324.06 L338 326.96 L339 330.11 L340 334.41 L341 338.49 L342 342.41 L343 346.66 L344 351.3 L345 356.34 L346 360.41 L347 364.5 L348 368.71 L349 373.04 L350 377.45 L351 381.52 L352 385.2 L353 388.44 L354 391.13 L355 394.09 L356 397.8 L357 399.81 L358 402.42 L359 404.64 L360 406.65 L361 408.24 L362 409.26 L363 411.32 L364 412 L365 413.22 L366 414.42 L367 415.46 L368 415.69 L369 416.62 L370 417.21 L371 418.22 L372 418.86 L373 419.1 L374 419.45 L375 419.51 L376 420.49 L377 420.68 L378 421.1 L379 421.28 L380 421.89 L381 422.11 L382 422.73 L383 422.77 L384 423.41 L385 422.69 L386 422.89 L387 423.2 L388 422.79 L389 423.69 L390 423.41 L391 423.39 L392 423.43 L393 423.43 L394 423.58 L395 423.92 L396 423.43 L397 424.33 L398 424.33 L399 424.74 L400 424.54 L401 424.21 L402 424.39 L403 424.52 L404 424.46 L405 424.48 L406 424.19 L407 424.87 L408 424.59 L409 424.72 L410 424.34 L411 425.12 L412 424.39 L413 424.9 L414 424.65 L415 425.29 L416 425.43 L417 425.37 L418 425.05 L419 425.2 L420 424.74 L421 425.49 L422 425.47 L423 425.21 L424 425.21 L425 425.11 L426 425.3 L427 425.39 L428 425.5 L429 425.58 L430 426.19 L431 425.76 L432 425.79 L433 425.99 L434 425.48 L435 425.8 L436 426.44 L437 426.21 L438 425.77 L439 426.73 L440 425.95 L441 426.52 L442 426.43 L443 426.06 L444 426.65 L445 426.01 L446 426.28 L447 426.2 L448 426.33 L449 426.57 L450 426.6 L451 426.41 L452 426.92 L453 425.89 L454 426.13 L455 427.04 L456 426.34 L457 426.19 L457.5 426.63" fill="none" stroke="#e2167c" stroke-width="2.6" stroke-linejoin="round" stroke-linecap="round"/>
<path d="M67 558.13 L68 557.62 L69 557.66 L70 558.08 L71 557.68 L72 558.2 L73 557.91 L74 558.1 L75 557.62 L76 557.8 L77 558.02 L78 558.35 L79 557.63 L80 557.12 L81 558.3 L82 558.45 L83 557.96 L84 557.84 L85 557.53 L86 557.26 L87 557.07 L88 557.89 L89 558.04 L90 557.47 L91 557.43 L92 557.75 L93 557.43 L94 557.33 L95 557.58 L96 557.94 L97 557.42 L98 557.71 L99 557.29 L100 557.61 L101 557.28 L102 557.42 L103 557.03 L104 556.72 L105 557.19 L106 557.19 L107 557.51 L108 557.01 L109 556.67 L110 556.77 L111 557.37 L112 557.21 L113 557.08 L114 556.72 L115 556.92 L116 557.29 L117 557.06 L118 557.33 L119 557.21 L120 557.12 L121 557.38 L122 556.65 L123 556.77 L124 556.75 L125 557.12 L126 557.13 L127 556.56 L128 556.57 L129 556.97 L130 555.44 L131 555.9 L132 555.97 L133 555.23 L134 555.16 L135 555.33 L136 554.73 L137 554.61 L138 554.31 L139 554 L140 554.18 L141 553.61 L142 553.79 L143 553.31 L144 553.05 L145 553.25 L146 553.31 L147 552.8 L148 552.97 L149 552.35 L150 551.73 L151 551.22 L152 551.28 L153 550.64 L154 550.07 L155 549.55 L156 549.08 L157 549.01 L158 548.38 L159 547.79 L160 547.11 L161 545.45 L162 544.83 L163 544.65 L164 543.18 L165 542.2 L166 541.03 L167 539.37 L168 538.48 L169 536.47 L170 535.64 L171 533.73 L172 532.52 L173 530.98 L174 529.31 L175 527.54 L176 525.32 L177 523.85 L178 521.73 L179 520.07 L180 517.67 L181 515.65 L182 513.23 L183 511.25 L184 509.23 L185 507.19 L186 504.84 L187 502.79 L188 501.01 L189 499.19 L190 497.57 L191 496.1 L192 494.79 L193 493.85 L194 492.05 L195 491.41 L196 490.49 L197 489.74 L198 488.6 L199 488.01 L200 487.82 L201 487.39 L202 487.18 L203 487.63 L204 488.14 L205 487.76 L206 488.52 L207 489.13 L208 489.41 L209 489.49 L210 490.85 L211 491.03 L212 491.57 L213 491.83 L214 493.05 L215 493.48 L216 493.81 L217 494.79 L218 496.41 L219 496.66 L220 497.71 L221 499.02 L222 499.97 L223 501.22 L224 503.02 L225 503.65 L226 505.32 L227 505.9 L228 507.96 L229 509.14 L230 510.49 L231 511.63 L232 513.19 L233 514.45 L234 515.92 L235 517.24 L236 518.47 L237 519.58 L238 520.7 L239 521.26 L240 522 L241 523.13 L242 524.03 L243 525.16 L244 525.97 L245 526.05 L246 526.71 L247 526.72 L248 527.02 L249 528 L250 527.1 L251 527.15 L252 525.87 L253 525.53 L254 525.54 L255 525.81 L256 524.61 L257 524.75 L258 524.49 L259 523.67 L260 523.24 L261 522.34 L262 522.11 L263 520.68 L264 519.99 L265 519.55 L266 518.7 L267 517.85 L268 517.16 L269 516.73 L270 516.01 L271 515.73 L272 515.24 L273 515.04 L274 514.46 L275 514.82 L276 514.36 L277 513.86 L278 514.58 L279 515.17 L280 515.34 L281 515.6 L282 515.54 L283 515.68 L284 515.87 L285 516.17 L286 515.55 L287 514.36 L288 514.63 L289 513.7 L290 513.53 L291 512.94 L292 512.2 L293 511.66 L294 510.6 L295 509.76 L296 509.11 L297 507.91 L298 506.68 L299 505.26 L300 503.06 L301 502.15 L302 499.67 L303 497.47 L304 495.45 L305 493.58 L306 491.13 L307 488.94 L308 486.83 L309 484.92 L310 483.1 L311 480.4 L312 479.17 L313 476.96 L314 475.16 L315 473.65 L316 472.33 L317 471.78 L318 470.86 L319 469.7 L320 469.59 L321 469.03 L322 469.4 L323 469.58 L324 469.06 L325 469.16 L326 469.54 L327 470.38 L328 470.98 L329 472.17 L330 473.9 L331 474.8 L332 477.4 L333 479.51 L334 481.54 L335 485.13 L336 487.19 L337 490.87 L338 494.1 L339 497.31 L340 500.74 L341 505.01 L342 507.28 L343 511.13 L344 513.89 L345 517.19 L346 519.85 L347 522.86 L348 525.4 L349 528.6 L350 530.78 L351 533.2 L352 535.32 L353 537.53 L354 539.29 L355 541.24 L356 543.03 L357 544.88 L358 546.52 L359 548.04 L360 549.15 L361 550.39 L362 551.59 L363 552.59 L364 552.85 L365 553.79 L366 554.16 L367 554.96 L368 555.44 L369 555.42 L370 555.79 L371 556 L372 556.69 L373 557.5 L374 556.79 L375 557.49 L376 557.58 L377 558.02 L378 557.71 L379 558.38 L380 558.17 L381 558.52 L382 558.4 L383 558.99 L384 558.81 L385 558.56 L386 558.95 L387 558.95 L388 559.21 L389 559.24 L390 558.98 L391 559.39 L392 559.73 L393 559.65 L394 559.43 L395 559.83 L396 559.41 L397 559.73 L398 559.7 L399 559.31 L400 559.54 L401 559.65 L402 560.14 L403 559.62 L404 560.61 L405 560.04 L406 560.05 L407 560.46 L408 560.04 L409 560.07 L410 560.14 L411 560.41 L412 560.62 L413 560.32 L414 560.34 L415 560.45 L416 560.23 L417 560.59 L418 560.32 L419 560.37 L420 561.17 L421 560.43 L422 560.74 L423 559.89 L424 561.2 L425 560.63 L426 561.02 L427 561.36 L428 560.89 L429 560.63 L430 560.72 L431 560.88 L432 561.05 L433 560.89 L434 560.96 L435 561.08 L436 560.73 L437 561.06 L438 560.75 L439 560.78 L440 560.82 L441 561.21 L442 560.97 L443 561.07 L444 561.04 L445 561.21 L446 561.67 L447 561.2 L448 561.51 L449 560.89 L450 561.34 L451 561.12 L452 561.38 L453 561.6 L454 561.75 L455 561.61 L456 562.3 L457 561.04 L457.5 562.15" fill="none" stroke="#0d0d0d" stroke-width="2.6" stroke-linejoin="round" stroke-linecap="round"/>
<path d="M595.5 155.28 L596.5 155.52 L597.5 155.87 L598.5 155.41 L599.5 155.25 L600.5 155.44 L601.5 155.49 L602.5 155.93 L603.5 155.47 L604.5 155.43 L605.5 155.05 L606.5 155.49 L607.5 155.51 L608.5 155.75 L609.5 155.35 L610.5 155.41 L611.5 155.64 L612.5 155.7 L613.5 155.36 L614.5 155 L615.5 155.58 L616.5 155.09 L617.5 155.48 L618.5 155.08 L619.5 155.24 L620.5 155.05 L621.5 155.07 L622.5 155.51 L623.5 155.41 L624.5 155.21 L625.5 155.5 L626.5 155.11 L627.5 155.27 L628.5 155.36 L629.5 155.54 L630.5 155.18 L631.5 155.06 L632.5 155.31 L633.5 155.73 L634.5 155.69 L635.5 155.43 L636.5 155.33 L637.5 155.28 L638.5 155.41 L639.5 155.55 L640.5 155.42 L641.5 155.7 L642.5 154.96 L643.5 154.96 L644.5 155.37 L645.5 155.74 L646.5 155.5 L647.5 155.44 L648.5 155.45 L649.5 154.85 L650.5 155.46 L651.5 155.32 L652.5 155.59 L653.5 155.48 L654.5 155.31 L655.5 155.22 L656.5 155.48 L657.5 155.67 L658.5 155.79 L659.5 155.17 L660.5 155.15 L661.5 154.76 L662.5 155.49 L663.5 155.41 L664.5 155.51 L665.5 155.34 L666.5 155.43 L667.5 155 L668.5 154.94 L669.5 155.46 L670.5 154.47 L671.5 155.53 L672.5 155.19 L673.5 154.87 L674.5 154.79 L675.5 154.77 L676.5 155.27 L677.5 155.06 L678.5 155.09 L679.5 154.51 L680.5 154.47 L681.5 154.81 L682.5 154.56 L683.5 154.96 L684.5 155 L685.5 154.53 L686.5 154.38 L687.5 155.08 L688.5 154.52 L689.5 154.54 L690.5 154.09 L691.5 154.42 L692.5 153.93 L693.5 153.45 L694.5 154.49 L695.5 153.72 L696.5 153.86 L697.5 153.81 L698.5 153.22 L699.5 153.64 L700.5 153.59 L701.5 152.98 L702.5 153.46 L703.5 152.52 L704.5 152.69 L705.5 152.88 L706.5 152.73 L707.5 152.52 L708.5 152.57 L709.5 152.11 L710.5 152.34 L711.5 151.48 L712.5 152.1 L713.5 151.25 L714.5 151.01 L715.5 150.87 L716.5 150.5 L717.5 149.93 L718.5 149.44 L719.5 149.37 L720.5 148.77 L721.5 148.36 L722.5 148.31 L723.5 147.39 L724.5 146.95 L725.5 146.77 L726.5 146.15 L727.5 144.79 L728.5 144.68 L729.5 143.9 L730.5 143.53 L731.5 142.9 L732.5 142.08 L733.5 141.79 L734.5 141.77 L735.5 141.13 L736.5 140.71 L737.5 139.98 L738.5 139.65 L739.5 138.89 L740.5 137.45 L741.5 136.81 L742.5 136.01 L743.5 135.37 L744.5 133.29 L745.5 132.82 L746.5 131.34 L747.5 129.79 L748.5 128.76 L749.5 127.62 L750.5 126.92 L751.5 125.19 L752.5 124.25 L753.5 122.84 L754.5 122.02 L755.5 120.34 L756.5 119.74 L757.5 118.34 L758.5 116.56 L759.5 115.3 L760.5 114.33 L761.5 112.95 L762.5 111.78 L763.5 110.09 L764.5 108.71 L765.5 107.42 L766.5 106.13 L767.5 104.47 L768.5 102.78 L769.5 100.51 L770.5 99.74 L771.5 97.93 L772.5 96.41 L773.5 94.95 L774.5 93 L775.5 91.56 L776.5 90.25 L777.5 88.94 L778.5 86.72 L779.5 85.48 L780.5 83.53 L781.5 82.17 L782.5 80.61 L783.5 79.14 L784.5 77.77 L785.5 76.11 L786.5 74.14 L787.5 72.83 L788.5 71 L789.5 69.86 L790.5 68.95 L791.5 67.37 L792.5 66.28 L793.5 66.23 L794.5 64.74 L795.5 64.47 L796.5 63.49 L797.5 63.56 L798.5 62.66 L799.5 62.31 L800.5 61.97 L801.5 61.68 L802.5 60.98 L803.5 61.34 L804.5 61.01 L805.5 61.67 L806.5 62.17 L807.5 62.36 L808.5 63.58 L809.5 64.35 L810.5 65.1 L811.5 66.51 L812.5 67.97 L813.5 68.87 L814.5 70.55 L815.5 71.39 L816.5 73.66 L817.5 74.68 L818.5 76.88 L819.5 78.98 L820.5 80.8 L821.5 83.1 L822.5 85.76 L823.5 88.23 L824.5 90.66 L825.5 93.07 L826.5 95.05 L827.5 97.11 L828.5 99.13 L829.5 101.13 L830.5 103.3 L831.5 105.79 L832.5 107.24 L833.5 108.81 L834.5 111.25 L835.5 112.74 L836.5 114.9 L837.5 116.69 L838.5 117.94 L839.5 119.44 L840.5 121.17 L841.5 122.65 L842.5 123.45 L843.5 124.43 L844.5 125.75 L845.5 126.62 L846.5 127.83 L847.5 128.2 L848.5 128.53 L849.5 129.41 L850.5 129.81 L851.5 129.89 L852.5 131.14 L853.5 131.21 L854.5 131.53 L855.5 132.33 L856.5 133.12 L857.5 133.26 L858.5 133.82 L859.5 133.8 L860.5 134.83 L861.5 135.13 L862.5 135.56 L863.5 136.14 L864.5 136.53 L865.5 137.45 L866.5 138.04 L867.5 138.8 L868.5 139.45 L869.5 138.9 L870.5 139.32 L871.5 140.18 L872.5 140.58 L873.5 140.81 L874.5 141.88 L875.5 141.9 L876.5 142.96 L877.5 144.02 L878.5 144.29 L879.5 144.47 L880.5 144.81 L881.5 145.43 L882.5 145.81 L883.5 146.39 L884.5 146.73 L885.5 147.07 L886.5 147.65 L887.5 148.15 L888.5 148.47 L889.5 149.36 L890.5 149.91 L891.5 150.02 L892.5 150.63 L893.5 150.81 L894.5 151.11 L895.5 151.4 L896.5 152.33 L897.5 152.15 L898.5 152.92 L899.5 152.74 L900.5 152.66 L901.5 153.05 L902.5 153.83 L903.5 153.32 L904.5 153.67 L905.5 153.96 L906.5 153.61 L907.5 154.09 L908.5 153.46 L909.5 154.06 L910.5 153.37 L911.5 153.72 L912.5 154.38 L913.5 154.1 L914.5 154.3 L915.5 153.9 L916.5 153.76 L917.5 153.89 L918.5 153.89 L919.5 153.55 L920.5 153.83 L921.5 153.96 L922.5 152.45 L923.5 153.27 L924.5 153.76 L925.5 153.67 L926.5 153.43 L927.5 153.2 L928.5 153.2 L929.5 153.42 L930.5 153.49 L931.5 153.08 L932.5 153.27 L933.5 153.02 L934.5 153.43 L935.5 153.97 L936.5 153.78 L937.5 154.03 L938.5 154.1 L939.5 154.1 L940.5 154.28 L941.5 154.26 L942.5 155.45 L943.5 154.91 L944.5 154.8 L945.5 155.04 L946.5 155.38 L947.5 155.54 L948.5 155.52 L949.5 155.4 L950.5 155.49 L951.5 155.76 L952.5 156.25 L953.5 155.83 L954.5 156.32 L955.5 156.53 L956.5 155.99 L957.5 156.59 L958.5 156.63 L959.5 156.48 L960.5 156.8 L961.5 156.66 L962.5 156.57 L963.5 156.53 L964.5 157.37 L965.5 157.21 L966.5 156.98 L967.5 157.36 L968.5 157.07 L969.5 157.51 L970.5 157.22 L971.5 157.49 L972.5 157.73 L973.5 157.31 L974.5 157.69 L975.5 157.43 L976.5 158.02 L977.5 157.9 L978.5 157.99 L979.5 158.01 L980.5 157.9 L981.5 157.96 L982.5 158.41 L983.5 157.98 L984.5 158.19 L985.5 158.31 L986 158.53" fill="none" stroke="#ef8427" stroke-width="2.6" stroke-linejoin="round" stroke-linecap="round"/>
<path d="M595.5 291.82 L596.5 291.79 L597.5 291.96 L598.5 291.74 L599.5 291.9 L600.5 291.67 L601.5 292.05 L602.5 292.2 L603.5 292.29 L604.5 291.98 L605.5 292.33 L606.5 292.31 L607.5 291.97 L608.5 291.98 L609.5 291.82 L610.5 292.32 L611.5 292.28 L612.5 291.95 L613.5 292.26 L614.5 292.62 L615.5 292.5 L616.5 291.81 L617.5 292.62 L618.5 292.61 L619.5 292.55 L620.5 292.24 L621.5 292.4 L622.5 292.53 L623.5 292.67 L624.5 292.08 L625.5 292.85 L626.5 292.17 L627.5 292.42 L628.5 292.43 L629.5 292.86 L630.5 292.25 L631.5 292.12 L632.5 292.28 L633.5 292.05 L634.5 292.2 L635.5 292.36 L636.5 292.5 L637.5 291.8 L638.5 291.84 L639.5 292.19 L640.5 291.72 L641.5 292.51 L642.5 292.3 L643.5 292.68 L644.5 292.43 L645.5 292.7 L646.5 291.85 L647.5 292.18 L648.5 292.32 L649.5 292.22 L650.5 291.88 L651.5 292.11 L652.5 291.72 L653.5 292.24 L654.5 292.02 L655.5 293 L656.5 291.99 L657.5 291.75 L658.5 292.41 L659.5 291.99 L660.5 292.01 L661.5 292.72 L662.5 292.19 L663.5 291.67 L664.5 291.7 L665.5 291.77 L666.5 292.08 L667.5 292.05 L668.5 292.26 L669.5 291.28 L670.5 291.86 L671.5 291.66 L672.5 291.24 L673.5 291.36 L674.5 291.85 L675.5 291.63 L676.5 291.19 L677.5 291.45 L678.5 291.6 L679.5 291.6 L680.5 291.35 L681.5 291.8 L682.5 291.82 L683.5 290.74 L684.5 291.61 L685.5 291.44 L686.5 290.96 L687.5 290.95 L688.5 290.54 L689.5 290.48 L690.5 290.76 L691.5 290.81 L692.5 290.69 L693.5 289.86 L694.5 290.02 L695.5 289.71 L696.5 289.43 L697.5 289.22 L698.5 289.74 L699.5 289.02 L700.5 289.19 L701.5 289.3 L702.5 289.23 L703.5 288.63 L704.5 288.52 L705.5 287.83 L706.5 287.7 L707.5 287.73 L708.5 287.58 L709.5 286.82 L710.5 286.11 L711.5 286.13 L712.5 285.36 L713.5 284.41 L714.5 284.4 L715.5 284.55 L716.5 283.23 L717.5 282.93 L718.5 282.42 L719.5 281.51 L720.5 281.15 L721.5 280.86 L722.5 279.22 L723.5 279.05 L724.5 277.79 L725.5 277.4 L726.5 276.42 L727.5 275.45 L728.5 274.17 L729.5 273.21 L730.5 272.42 L731.5 271.34 L732.5 270.33 L733.5 268.9 L734.5 268.6 L735.5 267.24 L736.5 266.86 L737.5 265.93 L738.5 264.79 L739.5 263.99 L740.5 262.41 L741.5 261.4 L742.5 260.11 L743.5 258.52 L744.5 256.72 L745.5 255.18 L746.5 253.48 L747.5 252.38 L748.5 250.24 L749.5 248.91 L750.5 247.61 L751.5 245.89 L752.5 244.03 L753.5 241.91 L754.5 240.56 L755.5 239.11 L756.5 237.71 L757.5 236.52 L758.5 234.23 L759.5 233.45 L760.5 231.13 L761.5 229.37 L762.5 227.64 L763.5 226.32 L764.5 224.71 L765.5 222.73 L766.5 222.3 L767.5 219.78 L768.5 218.44 L769.5 216.26 L770.5 215.22 L771.5 213.66 L772.5 211.97 L773.5 210.86 L774.5 209.66 L775.5 208.3 L776.5 208.06 L777.5 206.82 L778.5 205.63 L779.5 204.87 L780.5 203.93 L781.5 203.04 L782.5 201.95 L783.5 201.68 L784.5 200.92 L785.5 199.74 L786.5 198.9 L787.5 197.78 L788.5 197.94 L789.5 196.85 L790.5 196.64 L791.5 196.59 L792.5 196.09 L793.5 195.91 L794.5 195.57 L795.5 195.3 L796.5 195.78 L797.5 195.26 L798.5 195.89 L799.5 195.36 L800.5 196.04 L801.5 196.38 L802.5 196.8 L803.5 197.7 L804.5 198.34 L805.5 198.99 L806.5 199.45 L807.5 200.59 L808.5 201.66 L809.5 202.92 L810.5 203.78 L811.5 204.87 L812.5 206.19 L813.5 207.06 L814.5 209.15 L815.5 210.89 L816.5 211.89 L817.5 214.1 L818.5 215.67 L819.5 218.09 L820.5 219.96 L821.5 220.81 L822.5 223.14 L823.5 225.32 L824.5 226.33 L825.5 228.08 L826.5 229.73 L827.5 231.81 L828.5 232.81 L829.5 235 L830.5 236.04 L831.5 237.32 L832.5 238.87 L833.5 240.2 L834.5 241.5 L835.5 242.61 L836.5 243.13 L837.5 244.71 L838.5 245.73 L839.5 246.63 L840.5 247.83 L841.5 248.76 L842.5 249.63 L843.5 250.67 L844.5 251.02 L845.5 251.92 L846.5 252.26 L847.5 253.01 L848.5 253.47 L849.5 254.16 L850.5 254.6 L851.5 254.86 L852.5 255.35 L853.5 256.62 L854.5 256.7 L855.5 257.71 L856.5 257.56 L857.5 258.72 L858.5 258.9 L859.5 260.2 L860.5 260.15 L861.5 261.29 L862.5 262.12 L863.5 262.82 L864.5 263.08 L865.5 264.49 L866.5 265.09 L867.5 266.01 L868.5 266.95 L869.5 267.23 L870.5 268.84 L871.5 269.51 L872.5 270.51 L873.5 271.57 L874.5 272.31 L875.5 272.92 L876.5 274.32 L877.5 275.13 L878.5 275.88 L879.5 276.95 L880.5 277.65 L881.5 278.55 L882.5 279.59 L883.5 280.33 L884.5 281.01 L885.5 281.99 L886.5 282.34 L887.5 283.44 L888.5 283.92 L889.5 284 L890.5 284.63 L891.5 285.28 L892.5 285.73 L893.5 286.3 L894.5 286.32 L895.5 287.35 L896.5 287.51 L897.5 287.73 L898.5 288.24 L899.5 287.98 L900.5 288.04 L901.5 288.73 L902.5 288.92 L903.5 289.13 L904.5 289.44 L905.5 288.77 L906.5 288.77 L907.5 289.06 L908.5 289.32 L909.5 289.48 L910.5 288.79 L911.5 289.19 L912.5 288.68 L913.5 288.29 L914.5 288.57 L915.5 288.89 L916.5 288.56 L917.5 288.93 L918.5 288.2 L919.5 289.05 L920.5 288.23 L921.5 288.91 L922.5 288.14 L923.5 288.93 L924.5 288.44 L925.5 288.6 L926.5 288.94 L927.5 288.7 L928.5 288.32 L929.5 289.25 L930.5 289.32 L931.5 289.6 L932.5 289.57 L933.5 289.77 L934.5 290.05 L935.5 290.17 L936.5 290.01 L937.5 290.28 L938.5 290.41 L939.5 290.16 L940.5 290.97 L941.5 290.96 L942.5 290.88 L943.5 291.45 L944.5 291.74 L945.5 291.74 L946.5 291.86 L947.5 291.48 L948.5 291.82 L949.5 292.37 L950.5 291.91 L951.5 292.32 L952.5 292.44 L953.5 292.75 L954.5 293.01 L955.5 292.9 L956.5 293.12 L957.5 293.14 L958.5 293 L959.5 293.2 L960.5 293.42 L961.5 293.43 L962.5 294.03 L963.5 293.19 L964.5 293.81 L965.5 293.68 L966.5 293.51 L967.5 294.08 L968.5 293.77 L969.5 294.39 L970.5 294.3 L971.5 293.9 L972.5 294.14 L973.5 294.1 L974.5 294.29 L975.5 293.86 L976.5 294.28 L977.5 294.6 L978.5 294.48 L979.5 293.98 L980.5 294.57 L981.5 294.54 L982.5 294.68 L983.5 294.35 L984.5 294.78 L985.5 294.59 L986 295.39" fill="none" stroke="#828012" stroke-width="2.6" stroke-linejoin="round" stroke-linecap="round"/>
<path d="M595.5 428.01 L596.5 428.26 L597.5 428.53 L598.5 428.79 L599.5 428.11 L600.5 428.72 L601.5 428.68 L602.5 428.79 L603.5 428.63 L604.5 428.69 L605.5 428.33 L606.5 428.74 L607.5 428.59 L608.5 428.58 L609.5 427.93 L610.5 428.86 L611.5 428.31 L612.5 428.45 L613.5 428.42 L614.5 428.65 L615.5 427.99 L616.5 428.56 L617.5 428.66 L618.5 428.79 L619.5 429.27 L620.5 428.66 L621.5 428.75 L622.5 428.73 L623.5 428.46 L624.5 428.65 L625.5 428.2 L626.5 428.13 L627.5 428.01 L628.5 428.73 L629.5 428.89 L630.5 428.54 L631.5 429.06 L632.5 428.87 L633.5 428.6 L634.5 428.63 L635.5 428.69 L636.5 428.63 L637.5 429 L638.5 428.32 L639.5 428.61 L640.5 428.51 L641.5 428.98 L642.5 428.29 L643.5 428.39 L644.5 428.87 L645.5 428.47 L646.5 429.14 L647.5 428.54 L648.5 429.33 L649.5 429.13 L650.5 428.89 L651.5 428.81 L652.5 428.29 L653.5 428.57 L654.5 429.21 L655.5 429.11 L656.5 428.86 L657.5 428.36 L658.5 428.91 L659.5 428.3 L660.5 428.74 L661.5 428.36 L662.5 428.33 L663.5 428.32 L664.5 429.25 L665.5 428.46 L666.5 429.1 L667.5 428.39 L668.5 428.57 L669.5 428.34 L670.5 428.46 L671.5 428.17 L672.5 428.74 L673.5 428.35 L674.5 428.26 L675.5 428.07 L676.5 428.17 L677.5 428.4 L678.5 427.88 L679.5 428.16 L680.5 427.67 L681.5 428.16 L682.5 427.87 L683.5 427.7 L684.5 427.67 L685.5 428.05 L686.5 427.53 L687.5 427.82 L688.5 426.78 L689.5 427.36 L690.5 427.17 L691.5 426.35 L692.5 426.76 L693.5 426.77 L694.5 426.82 L695.5 426.28 L696.5 426.44 L697.5 426.11 L698.5 425.9 L699.5 425.95 L700.5 426.15 L701.5 425.68 L702.5 425.64 L703.5 425.43 L704.5 425.23 L705.5 425.64 L706.5 425.15 L707.5 424.08 L708.5 424.59 L709.5 424.27 L710.5 423.92 L711.5 423.14 L712.5 423.15 L713.5 423.3 L714.5 422.58 L715.5 422.71 L716.5 422.34 L717.5 421.68 L718.5 421.53 L719.5 421.23 L720.5 421.31 L721.5 419.95 L722.5 419.66 L723.5 418.9 L724.5 418.84 L725.5 418.28 L726.5 417.58 L727.5 417.1 L728.5 416.52 L729.5 416.26 L730.5 415.59 L731.5 414.22 L732.5 413.91 L733.5 412.9 L734.5 412.61 L735.5 411.32 L736.5 410.41 L737.5 409.59 L738.5 408.73 L739.5 408.78 L740.5 406.75 L741.5 405.98 L742.5 405.09 L743.5 403.83 L744.5 401.91 L745.5 401.36 L746.5 399.79 L747.5 398.79 L748.5 397.38 L749.5 395.44 L750.5 394.61 L751.5 392.68 L752.5 391.38 L753.5 390.32 L754.5 388.6 L755.5 387.25 L756.5 385.51 L757.5 384.05 L758.5 382.78 L759.5 380.95 L760.5 379.72 L761.5 377.99 L762.5 376.09 L763.5 375.1 L764.5 373.12 L765.5 372.35 L766.5 370.01 L767.5 368.7 L768.5 367.12 L769.5 365.65 L770.5 364.54 L771.5 362.9 L772.5 361.62 L773.5 360.08 L774.5 359.39 L775.5 357.64 L776.5 356.72 L777.5 355.52 L778.5 353.65 L779.5 352.81 L780.5 351.42 L781.5 350.5 L782.5 349.27 L783.5 348.04 L784.5 346.61 L785.5 345.71 L786.5 344.94 L787.5 343.99 L788.5 342.43 L789.5 340.97 L790.5 340.13 L791.5 339.19 L792.5 339.14 L793.5 338.41 L794.5 337.61 L795.5 337.47 L796.5 337.13 L797.5 336.76 L798.5 336.98 L799.5 336.74 L800.5 336.92 L801.5 336.86 L802.5 337.38 L803.5 337.64 L804.5 337.57 L805.5 337.83 L806.5 338.8 L807.5 339.48 L808.5 340.13 L809.5 341.29 L810.5 341.72 L811.5 343.24 L812.5 343.92 L813.5 344.62 L814.5 346.73 L815.5 347.12 L816.5 349.23 L817.5 351.6 L818.5 353.09 L819.5 355.03 L820.5 356.65 L821.5 358.98 L822.5 360.96 L823.5 363 L824.5 365.44 L825.5 367.24 L826.5 369.68 L827.5 371.56 L828.5 374.08 L829.5 376 L830.5 378.53 L831.5 380.65 L832.5 382.23 L833.5 384.26 L834.5 386.37 L835.5 388.58 L836.5 389.97 L837.5 391.81 L838.5 393.33 L839.5 395.09 L840.5 396.19 L841.5 397.55 L842.5 398.23 L843.5 399.11 L844.5 399.6 L845.5 401.2 L846.5 401.83 L847.5 402.24 L848.5 402.6 L849.5 403.49 L850.5 403.69 L851.5 404.08 L852.5 404.84 L853.5 405.07 L854.5 405.13 L855.5 406.12 L856.5 406.5 L857.5 406.61 L858.5 406.99 L859.5 407.59 L860.5 408.09 L861.5 408.51 L862.5 408.72 L863.5 409.47 L864.5 409.9 L865.5 409.7 L866.5 411.07 L867.5 411.49 L868.5 411.09 L869.5 412.54 L870.5 412.46 L871.5 412.78 L872.5 413.64 L873.5 414.03 L874.5 414.96 L875.5 415.2 L876.5 415.26 L877.5 416.3 L878.5 417.13 L879.5 416.81 L880.5 418.26 L881.5 418.1 L882.5 419.15 L883.5 419.08 L884.5 419.48 L885.5 420.16 L886.5 420.47 L887.5 420.53 L888.5 421.71 L889.5 421.55 L890.5 422.63 L891.5 423.16 L892.5 423.19 L893.5 424.04 L894.5 424.6 L895.5 424.44 L896.5 424.8 L897.5 424.65 L898.5 425.08 L899.5 425.21 L900.5 425.89 L901.5 426.37 L902.5 425.97 L903.5 426.36 L904.5 426.15 L905.5 426.39 L906.5 426.28 L907.5 426.66 L908.5 427.28 L909.5 427.32 L910.5 427.73 L911.5 427.09 L912.5 427.77 L913.5 427.41 L914.5 427.96 L915.5 427.82 L916.5 427.69 L917.5 427.96 L918.5 427.81 L919.5 428.16 L920.5 428.02 L921.5 428.22 L922.5 428.37 L923.5 428.58 L924.5 428.25 L925.5 428.42 L926.5 428.15 L927.5 428.01 L928.5 428.22 L929.5 428.08 L930.5 428.1 L931.5 428.28 L932.5 428.82 L933.5 428.43 L934.5 427.97 L935.5 428.06 L936.5 427.85 L937.5 427.95 L938.5 428.27 L939.5 428.27 L940.5 427.94 L941.5 428.39 L942.5 428.31 L943.5 428.87 L944.5 428.44 L945.5 428.85 L946.5 429.22 L947.5 429.09 L948.5 428.48 L949.5 429.19 L950.5 429.43 L951.5 429.6 L952.5 429.77 L953.5 429.98 L954.5 429.83 L955.5 429.5 L956.5 429.73 L957.5 430.3 L958.5 429.85 L959.5 429.63 L960.5 430.1 L961.5 429.99 L962.5 430.25 L963.5 429.79 L964.5 430.2 L965.5 429.91 L966.5 430.42 L967.5 430.67 L968.5 430.6 L969.5 430.34 L970.5 430.43 L971.5 430.19 L972.5 430.25 L973.5 430.7 L974.5 430.42 L975.5 430.44 L976.5 430.5 L977.5 430.3 L978.5 430.4 L979.5 430.6 L980.5 430.32 L981.5 430.19 L982.5 430.27 L983.5 430.17 L984.5 430.25 L985.5 430.9 L986 430.12" fill="none" stroke="#e2167c" stroke-width="2.6" stroke-linejoin="round" stroke-linecap="round"/>
<path d="M595.5 564.07 L596.5 564.51 L597.5 564.46 L598.5 564.57 L599.5 564.56 L600.5 564.22 L601.5 564.45 L602.5 564.51 L603.5 564.97 L604.5 565.04 L605.5 564.68 L606.5 564.59 L607.5 564.97 L608.5 564.61 L609.5 564.19 L610.5 564.74 L611.5 564.15 L612.5 564.7 L613.5 564.48 L614.5 564.37 L615.5 564.69 L616.5 564.61 L617.5 564.47 L618.5 565 L619.5 565.37 L620.5 564.56 L621.5 564.76 L622.5 565.04 L623.5 565.35 L624.5 564.54 L625.5 564.51 L626.5 564.49 L627.5 564.65 L628.5 564.73 L629.5 565.01 L630.5 565.01 L631.5 564.89 L632.5 564.76 L633.5 564.45 L634.5 564.61 L635.5 564.93 L636.5 564.63 L637.5 564.4 L638.5 564.16 L639.5 564.4 L640.5 564.92 L641.5 564.72 L642.5 564.53 L643.5 565 L644.5 564.69 L645.5 564.11 L646.5 563.87 L647.5 564.69 L648.5 564.22 L649.5 564.34 L650.5 564.68 L651.5 564.36 L652.5 564.22 L653.5 564.48 L654.5 564.16 L655.5 564.26 L656.5 563.67 L657.5 564.21 L658.5 564.14 L659.5 564.04 L660.5 564.28 L661.5 564.17 L662.5 564.17 L663.5 564.16 L664.5 564.12 L665.5 563.67 L666.5 563.84 L667.5 563.74 L668.5 564.07 L669.5 564.08 L670.5 564.22 L671.5 563.88 L672.5 563.7 L673.5 564.16 L674.5 562.93 L675.5 563.66 L676.5 564.33 L677.5 563.75 L678.5 563.46 L679.5 563.43 L680.5 563.54 L681.5 563.19 L682.5 563.43 L683.5 563.41 L684.5 562.93 L685.5 563.51 L686.5 562.66 L687.5 562.97 L688.5 563.31 L689.5 562.76 L690.5 563.03 L691.5 562.6 L692.5 562.58 L693.5 562.42 L694.5 562.19 L695.5 562.2 L696.5 561.6 L697.5 562.02 L698.5 561.82 L699.5 561.33 L700.5 560.83 L701.5 561.34 L702.5 560.62 L703.5 560.41 L704.5 560.15 L705.5 559.48 L706.5 559.12 L707.5 559.14 L708.5 558.03 L709.5 557.9 L710.5 557.63 L711.5 556.98 L712.5 556.68 L713.5 555.68 L714.5 555.85 L715.5 554.88 L716.5 554.41 L717.5 554.31 L718.5 553.07 L719.5 552.51 L720.5 552.6 L721.5 551.59 L722.5 550.61 L723.5 549.43 L724.5 549.23 L725.5 548.09 L726.5 547.58 L727.5 546.12 L728.5 545.28 L729.5 543.44 L730.5 542.03 L731.5 541 L732.5 539.61 L733.5 538.72 L734.5 537.05 L735.5 536.09 L736.5 534.81 L737.5 532.9 L738.5 531.66 L739.5 529.62 L740.5 528.05 L741.5 526.41 L742.5 524.68 L743.5 522.32 L744.5 520.34 L745.5 518.67 L746.5 515.64 L747.5 513.9 L748.5 511.65 L749.5 509.07 L750.5 506.9 L751.5 504.94 L752.5 502.46 L753.5 500.5 L754.5 498.42 L755.5 495.82 L756.5 493.03 L757.5 490.42 L758.5 488.5 L759.5 485.92 L760.5 484.26 L761.5 481.69 L762.5 478.89 L763.5 476.83 L764.5 473.87 L765.5 472.17 L766.5 469.17 L767.5 466.86 L768.5 464.66 L769.5 461.79 L770.5 460.21 L771.5 457.9 L772.5 456.32 L773.5 453.95 L774.5 452.44 L775.5 451.46 L776.5 449.76 L777.5 448.57 L778.5 447.94 L779.5 446.47 L780.5 445.6 L781.5 444.75 L782.5 444.21 L783.5 443.84 L784.5 444.05 L785.5 443.55 L786.5 443.85 L787.5 444.42 L788.5 443.97 L789.5 444.42 L790.5 444.66 L791.5 445.15 L792.5 446.11 L793.5 447.12 L794.5 448.25 L795.5 450.08 L796.5 450.79 L797.5 452.56 L798.5 454.38 L799.5 455.51 L800.5 456.46 L801.5 458.39 L802.5 459.7 L803.5 461.55 L804.5 462.83 L805.5 465.07 L806.5 466.73 L807.5 469.34 L808.5 470.55 L809.5 473.18 L810.5 475.19 L811.5 477.92 L812.5 480.3 L813.5 481.7 L814.5 483.97 L815.5 486.24 L816.5 488.43 L817.5 491.41 L818.5 492.76 L819.5 494.81 L820.5 497.88 L821.5 499.51 L822.5 501.85 L823.5 504.01 L824.5 506.17 L825.5 507.92 L826.5 510.76 L827.5 512.78 L828.5 514.62 L829.5 517.2 L830.5 519.51 L831.5 521.5 L832.5 524.12 L833.5 525.85 L834.5 527.9 L835.5 529.47 L836.5 531.24 L837.5 533.39 L838.5 534.33 L839.5 535.35 L840.5 536.45 L841.5 537.48 L842.5 539.2 L843.5 540.39 L844.5 541.37 L845.5 542.1 L846.5 542.93 L847.5 543.99 L848.5 544.1 L849.5 544.65 L850.5 545.02 L851.5 545.76 L852.5 545.79 L853.5 546.58 L854.5 547.13 L855.5 547.54 L856.5 548.38 L857.5 548.07 L858.5 548.45 L859.5 549.31 L860.5 549.5 L861.5 549.76 L862.5 550.04 L863.5 549.88 L864.5 550.47 L865.5 551.22 L866.5 551.56 L867.5 551.33 L868.5 551.27 L869.5 552.21 L870.5 552.3 L871.5 552.95 L872.5 553.62 L873.5 554.2 L874.5 554.52 L875.5 554.37 L876.5 555.17 L877.5 555.95 L878.5 556.2 L879.5 557.04 L880.5 557.31 L881.5 558.09 L882.5 557.98 L883.5 558.54 L884.5 559.32 L885.5 559.79 L886.5 559.65 L887.5 560.57 L888.5 560.83 L889.5 561.19 L890.5 561.86 L891.5 561.88 L892.5 562.23 L893.5 562.42 L894.5 562.52 L895.5 562.94 L896.5 563.47 L897.5 563.13 L898.5 563.69 L899.5 563.65 L900.5 563.97 L901.5 563.78 L902.5 564.44 L903.5 563.98 L904.5 564.63 L905.5 564.08 L906.5 564.4 L907.5 564.05 L908.5 564.62 L909.5 564.68 L910.5 564.3 L911.5 564.43 L912.5 564.38 L913.5 564.43 L914.5 564.54 L915.5 564.72 L916.5 563.96 L917.5 564.05 L918.5 564.18 L919.5 564.59 L920.5 564.03 L921.5 564.01 L922.5 564.22 L923.5 563.82 L924.5 564.29 L925.5 563.91 L926.5 564.32 L927.5 564.35 L928.5 564.07 L929.5 564.15 L930.5 564.86 L931.5 564.37 L932.5 564.82 L933.5 564.39 L934.5 564.86 L935.5 564.27 L936.5 564.38 L937.5 564.66 L938.5 564.41 L939.5 564.94 L940.5 564.65 L941.5 564.67 L942.5 565.04 L943.5 565.28 L944.5 565.08 L945.5 564.8 L946.5 565.45 L947.5 565.15 L948.5 565.07 L949.5 565.09 L950.5 565.51 L951.5 565.32 L952.5 565.49 L953.5 565.64 L954.5 565.93 L955.5 565.87 L956.5 565.42 L957.5 565.4 L958.5 566.35 L959.5 565.6 L960.5 566.1 L961.5 566.13 L962.5 566.14 L963.5 566.05 L964.5 566.26 L965.5 566.07 L966.5 566.5 L967.5 566.46 L968.5 566.46 L969.5 566.16 L970.5 566.35 L971.5 566.42 L972.5 566.61 L973.5 566.02 L974.5 566.3 L975.5 566.69 L976.5 566.17 L977.5 566.5 L978.5 566.59 L979.5 566.44 L980.5 566.69 L981.5 566.53 L982.5 566.45 L983.5 566.03 L984.5 566.62 L985.5 566.38 L986 566.37" fill="none" stroke="#0d0d0d" stroke-width="2.6" stroke-linejoin="round" stroke-linecap="round"/>
<path d="M68 813.6 L69 813.09 L70 812.97 L71 813.01 L72 812.95 L73 813.18 L74 812.45 L75 813.23 L76 812.37 L77 813.01 L78 812.15 L79 812.81 L80 812.22 L81 812.68 L82 812.52 L83 812.19 L84 812.34 L85 812.63 L86 812.08 L87 812.44 L88 811.74 L89 811.39 L90 811.54 L91 812.04 L92 812.26 L93 812.12 L94 811.94 L95 811.95 L96 811.89 L97 812.14 L98 812.12 L99 811.21 L100 811.24 L101 811.48 L102 811.64 L103 811.23 L104 811.22 L105 811.78 L106 811.24 L107 811.69 L108 810.7 L109 811.49 L110 811.65 L111 812.01 L112 811.62 L113 811.25 L114 810.68 L115 811.07 L116 811.23 L117 811.32 L118 811.66 L119 811.27 L120 811.46 L121 811.36 L122 811.4 L123 811.22 L124 811.02 L125 811.15 L126 811.37 L127 811.54 L128 810.69 L129 810.86 L130 810.86 L131 811.22 L132 811.49 L133 811.24 L134 810.68 L135 810.96 L136 810.62 L137 810.86 L138 811.02 L139 810.7 L140 810.96 L141 811.07 L142 810.87 L143 811.14 L144 811.15 L145 810.45 L146 810.61 L147 811.25 L148 810.81 L149 810.66 L150 811.11 L151 810.84 L152 810.54 L153 810.76 L154 810.31 L155 810.8 L156 810.54 L157 810.54 L158 810.68 L159 810.5 L160 810.67 L161 810.13 L162 810.65 L163 810.03 L164 809.58 L165 809.93 L166 809.97 L167 809.35 L168 809.76 L169 809.67 L170 809.6 L171 809.46 L172 809.79 L173 809.21 L174 808.81 L175 809.47 L176 808.67 L177 808.98 L178 808.49 L179 808.54 L180 808.65 L181 808.64 L182 809.02 L183 808.24 L184 808.49 L185 808.58 L186 807.97 L187 807.78 L188 808.11 L189 807.51 L190 807.28 L191 807.38 L192 806.7 L193 807.64 L194 806.21 L195 806.84 L196 805.74 L197 805.82 L198 805.62 L199 805.26 L200 804.95 L201 804.22 L202 804.74 L203 804.17 L204 803.38 L205 803.5 L206 802.56 L207 802.53 L208 801.91 L209 801.28 L210 800.75 L211 800.86 L212 799.8 L213 799.89 L214 799.02 L215 798.1 L216 797.69 L217 796.76 L218 796.79 L219 795.77 L220 795.51 L221 794 L222 793.57 L223 792.6 L224 792.31 L225 791.17 L226 790.19 L227 789.15 L228 789.21 L229 787.37 L230 786.4 L231 785.2 L232 784.03 L233 782.78 L234 782.71 L235 781.07 L236 779.88 L237 778.88 L238 778.04 L239 776.34 L240 775.07 L241 773.58 L242 773.22 L243 771.63 L244 770.16 L245 769.34 L246 768.5 L247 766.67 L248 766.22 L249 764.72 L250 763.74 L251 762.89 L252 761.44 L253 760.66 L254 760.6 L255 759.97 L256 759.58 L257 758.88 L258 758.13 L259 758.05 L260 757.55 L261 757.5 L262 757.75 L263 757.38 L264 757.05 L265 757.78 L266 757.69 L267 757.76 L268 758.83 L269 759.31 L270 759.52 L271 760.59 L272 761.03 L273 761.64 L274 762.46 L275 763.53 L276 764.85 L277 765.47 L278 767 L279 767.91 L280 768.81 L281 770.45 L282 770.97 L283 773.06 L284 773.7 L285 774.43 L286 776.49 L287 777.48 L288 778.36 L289 779.53 L290 780.85 L291 781.54 L292 783.3 L293 784.29 L294 785.1 L295 786.9 L296 787.22 L297 788.94 L298 790.15 L299 791.6 L300 791.99 L301 793.34 L302 794.55 L303 795.45 L304 796.03 L305 797 L306 797.84 L307 798.57 L308 800.83 L309 801.32 L310 801.71 L311 802.56 L312 803.11 L313 803.74 L314 804.42 L315 805.04 L316 805.22 L317 806.25 L318 806.75 L319 807.67 L320 807.71 L321 808.5 L322 808.77 L323 809.05 L324 809.48 L325 809.81 L326 809.78 L327 810.41 L328 810.57 L329 810.81 L330 811.35 L331 811.79 L332 812.16 L333 812.31 L334 812.46 L335 812.89 L336 813.12 L337 812.91 L338 813.32 L339 812.98 L340 813.54 L341 813.5 L342 813.17 L343 814.44 L344 813.77 L345 813.44 L346 813.67 L347 813.73 L348 813.89 L349 813.88 L350 813.62 L351 813.88 L352 814.06 L353 813.84 L354 813.2 L355 814.03 L356 814.17 L357 813.9 L358 814.51 L359 813.92 L360 813.79 L361 814.19 L362 814.29 L363 814.06 L364 814.25 L365 814.23 L366 813.97 L367 813.5 L368 814.39 L369 814.15 L370 813.58 L371 814.21 L372 814.67 L373 814.23 L374 814.29 L375 814.28 L376 814.19 L377 814.5 L378 814.64 L379 814.44 L380 815.1 L381 814.21 L382 814.52 L383 814.78 L384 814.44 L385 814.32 L386 814.12 L387 814.23 L388 814.92 L389 814.61 L390 814.64 L391 814.56 L392 815.19 L393 814.94 L394 814.62 L395 814.36 L396 814.78 L397 814.2 L398 814.62 L399 814.69 L400 814.88 L401 814.48 L402 814.59 L403 814.2 L404 815.05 L405 814.37 L406 814.91 L407 814.72 L408 814.45 L409 814.72 L410 815.27 L411 815.07 L412 814.77 L413 814.88 L414 814.82 L415 814.78 L416 814.74 L417 814.51 L418 814.55 L419 814.74 L420 814.91 L421 814.39 L422 814.72 L423 815.09 L424 814.79 L425 814.49 L426 815.16 L427 814.64 L428 814.77 L429 815.07 L430 814.23 L431 814.79 L432 815.12 L433 815.09 L434 815.39 L435 815.15 L436 815.15 L437 815.37 L438 815.68 L439 815.03 L440 815.22 L441 814.98 L442 814.65 L443 815.26 L444 815.33 L445 815.45 L446 814.98 L447 815.82 L448 815.07 L449 815.67 L450 815.3 L451 815.71 L452 815.34 L453 815.43 L454 815.28 L455 815.79 L456 815.31 L457 815.46 L458 816.04 L458.5 815.09" fill="none" stroke="#ef8427" stroke-width="2.6" stroke-linejoin="round" stroke-linecap="round"/>
<path d="M68 951.8 L69 952.08 L70 952.02 L71 951.51 L72 951.78 L73 951.91 L74 952.26 L75 951.94 L76 951.72 L77 951.21 L78 951.72 L79 952.06 L80 951.56 L81 951.87 L82 951.85 L83 951.92 L84 951.51 L85 951.55 L86 951.82 L87 951.42 L88 951.27 L89 951.56 L90 951.6 L91 951.09 L92 951.41 L93 951.56 L94 950.81 L95 951.3 L96 951.3 L97 951.25 L98 951.32 L99 951.23 L100 950.45 L101 951.08 L102 951.27 L103 951.1 L104 951.29 L105 950.93 L106 950.64 L107 951.47 L108 950.4 L109 950.89 L110 950.9 L111 951.07 L112 949.8 L113 950.78 L114 950.59 L115 950.57 L116 950.77 L117 950.53 L118 950.47 L119 950.35 L120 950.29 L121 950.15 L122 949.71 L123 950.09 L124 949.81 L125 950.36 L126 949.69 L127 949.88 L128 950.23 L129 949.77 L130 950.04 L131 949.61 L132 949.21 L133 949.71 L134 949.39 L135 949.98 L136 949.74 L137 949.55 L138 948.88 L139 949.55 L140 949.22 L141 949.1 L142 949.3 L143 949.62 L144 948.77 L145 949.34 L146 948.8 L147 948.91 L148 949.08 L149 948.78 L150 948.63 L151 948.37 L152 948.37 L153 948.22 L154 948.38 L155 948.51 L156 948.08 L157 948.29 L158 948.46 L159 948.2 L160 947.93 L161 947.56 L162 948.26 L163 947.59 L164 947.93 L165 947.51 L166 948.02 L167 947.35 L168 947.9 L169 947.81 L170 948.46 L171 947.56 L172 947.72 L173 947.7 L174 947.71 L175 947.16 L176 947.46 L177 947.26 L178 947.19 L179 947.07 L180 947.72 L181 947.46 L182 947.17 L183 946.57 L184 946.54 L185 946.47 L186 946.32 L187 946.05 L188 946.01 L189 946.18 L190 945.49 L191 945.25 L192 945.6 L193 945.42 L194 944.7 L195 944.93 L196 944.4 L197 944.38 L198 944.87 L199 944.33 L200 944.28 L201 944.61 L202 943.93 L203 944.34 L204 943.59 L205 943.83 L206 943.55 L207 942.93 L208 943.1 L209 942.08 L210 942.03 L211 942.27 L212 941.83 L213 941.32 L214 941.09 L215 941.24 L216 940.83 L217 940.53 L218 939.04 L219 939.31 L220 938.84 L221 938.25 L222 938.2 L223 937.73 L224 937.17 L225 937.04 L226 936.59 L227 935.13 L228 934.8 L229 934.26 L230 933.68 L231 932.95 L232 932.18 L233 931.71 L234 930.67 L235 930.55 L236 930.03 L237 928.88 L238 928.42 L239 927.97 L240 926.85 L241 926.33 L242 925.4 L243 925.46 L244 924.58 L245 923.5 L246 922.99 L247 921.75 L248 921.33 L249 920.9 L250 919.78 L251 919.15 L252 918.8 L253 917.86 L254 916.98 L255 916.65 L256 916.29 L257 915.17 L258 915.23 L259 914.56 L260 914.32 L261 913.84 L262 913.43 L263 913.42 L264 912.7 L265 913.43 L266 912.41 L267 913.47 L268 913.16 L269 913.62 L270 913.23 L271 914.36 L272 914.68 L273 914.28 L274 914.76 L275 915.17 L276 916.29 L277 916.61 L278 917 L279 917.5 L280 917.51 L281 918.17 L282 918.98 L283 919.58 L284 919.83 L285 920.63 L286 921.51 L287 921.65 L288 922.94 L289 924.4 L290 925.2 L291 925.35 L292 925.74 L293 927.06 L294 927.8 L295 928.61 L296 929.89 L297 930.53 L298 930.84 L299 932.56 L300 933.67 L301 934.1 L302 935.01 L303 935.94 L304 937.01 L305 938.14 L306 938.48 L307 939.37 L308 939.4 L309 941.08 L310 941.74 L311 942.01 L312 942.72 L313 942.94 L314 943.59 L315 944.25 L316 945.05 L317 944.76 L318 945.7 L319 946.32 L320 946.24 L321 946.65 L322 946.94 L323 947.17 L324 948.11 L325 947.58 L326 948.24 L327 948.3 L328 948.63 L329 948.96 L330 948.69 L331 949.17 L332 950 L333 949.27 L334 949.55 L335 949.46 L336 950.12 L337 950.67 L338 950.39 L339 950.64 L340 950.11 L341 950.7 L342 950.48 L343 951.15 L344 951.12 L345 950.89 L346 951.15 L347 951.12 L348 951.18 L349 951.34 L350 952.42 L351 951.69 L352 951.96 L353 952.52 L354 951.97 L355 951.99 L356 951.9 L357 951.91 L358 952.31 L359 952.1 L360 952.46 L361 952.49 L362 952.01 L363 952.33 L364 951.99 L365 952.78 L366 952.43 L367 951.84 L368 952.66 L369 952.51 L370 952.73 L371 952.16 L372 952.23 L373 952.24 L374 952.44 L375 952.17 L376 952.78 L377 951.93 L378 952.84 L379 952.41 L380 952.41 L381 952.76 L382 952.57 L383 953.24 L384 953.08 L385 952.49 L386 952.6 L387 952 L388 952.34 L389 952.93 L390 952.66 L391 952.58 L392 952.89 L393 952.72 L394 952.91 L395 952.67 L396 952.62 L397 953.23 L398 953 L399 952.67 L400 952.49 L401 952.68 L402 952.56 L403 953.01 L404 952.88 L405 952.17 L406 953.29 L407 952.39 L408 952.85 L409 953.31 L410 952.89 L411 953.37 L412 952.56 L413 953.37 L414 952.91 L415 953.59 L416 952.94 L417 952.87 L418 952.64 L419 953.24 L420 952.76 L421 952.77 L422 952.45 L423 952.5 L424 952.5 L425 952.51 L426 952.96 L427 952.88 L428 953.29 L429 952.5 L430 953.19 L431 952.9 L432 952.83 L433 952.7 L434 952.38 L435 953.04 L436 952.75 L437 952.65 L438 952.8 L439 953.13 L440 952.42 L441 952.98 L442 952.69 L443 952.7 L444 952.39 L445 952.98 L446 952.83 L447 952.79 L448 952.62 L449 952.45 L450 953.27 L451 952.87 L452 952.69 L453 952.56 L454 952.93 L455 952.72 L456 952.82 L457 952.68 L458 952.62 L458.5 952.71" fill="none" stroke="#1c8a1e" stroke-width="2.6" stroke-linejoin="round" stroke-linecap="round"/>
<path d="M68 1086.07 L69 1086.34 L70 1086.68 L71 1086.32 L72 1085.89 L73 1086.18 L74 1085.67 L75 1085.5 L76 1086.28 L77 1086.14 L78 1085.97 L79 1085.95 L80 1085.98 L81 1085.62 L82 1085.81 L83 1085.3 L84 1085.23 L85 1085.15 L86 1084.94 L87 1085.11 L88 1085.02 L89 1085.16 L90 1084.89 L91 1085.15 L92 1084.88 L93 1084.46 L94 1084.71 L95 1084.47 L96 1085.04 L97 1084.68 L98 1084.53 L99 1084.77 L100 1084.41 L101 1083.97 L102 1084.23 L103 1084.67 L104 1083.81 L105 1084.1 L106 1083.9 L107 1083.69 L108 1083.83 L109 1083.4 L110 1083.9 L111 1083.21 L112 1083.1 L113 1083.32 L114 1083.35 L115 1083.34 L116 1082.84 L117 1082.63 L118 1083.13 L119 1082.98 L120 1083.34 L121 1082.48 L122 1083.06 L123 1082.83 L124 1083.32 L125 1082.94 L126 1082.57 L127 1082.49 L128 1082.32 L129 1082.53 L130 1082.19 L131 1082.14 L132 1082.15 L133 1081.93 L134 1082.08 L135 1082.24 L136 1081.86 L137 1081.61 L138 1081.56 L139 1081.83 L140 1081.94 L141 1081.27 L142 1081.22 L143 1080.84 L144 1080.63 L145 1080.03 L146 1080.53 L147 1079.88 L148 1080.56 L149 1080.13 L150 1079.91 L151 1079.58 L152 1079.02 L153 1078.34 L154 1079.41 L155 1078.73 L156 1077.93 L157 1078.76 L158 1078.63 L159 1077.52 L160 1077.95 L161 1077.22 L162 1076.93 L163 1077.03 L164 1076.93 L165 1076.6 L166 1076.36 L167 1075.76 L168 1075.65 L169 1075.47 L170 1075.07 L171 1074.83 L172 1075.12 L173 1074.42 L174 1074.36 L175 1073.85 L176 1074.2 L177 1073.9 L178 1073.84 L179 1073 L180 1072.97 L181 1073.5 L182 1071.77 L183 1072.1 L184 1071.91 L185 1071.56 L186 1071.27 L187 1071.16 L188 1070.58 L189 1070.64 L190 1069.93 L191 1069.93 L192 1069.78 L193 1069.61 L194 1069.17 L195 1069.45 L196 1068.88 L197 1068.73 L198 1068.54 L199 1068.13 L200 1068.3 L201 1067.79 L202 1067.45 L203 1066.74 L204 1066.38 L205 1065.98 L206 1065.53 L207 1064.8 L208 1064.5 L209 1063.51 L210 1062.2 L211 1062.19 L212 1060.96 L213 1061.18 L214 1060.59 L215 1059.38 L216 1058.54 L217 1057.59 L218 1056.33 L219 1055.35 L220 1054.59 L221 1052.99 L222 1051.77 L223 1050.77 L224 1049.47 L225 1048.73 L226 1047.27 L227 1045.72 L228 1044.16 L229 1042.82 L230 1041.19 L231 1039.67 L232 1037.72 L233 1036.44 L234 1034.47 L235 1032.97 L236 1031.37 L237 1028.9 L238 1027.96 L239 1025.97 L240 1024.15 L241 1022 L242 1020.46 L243 1018.33 L244 1016.48 L245 1014.57 L246 1013.21 L247 1011.48 L248 1009.41 L249 1008.34 L250 1006.65 L251 1004.54 L252 1003.84 L253 1002.53 L254 1000.91 L255 999.91 L256 998.91 L257 998.07 L258 997.15 L259 996.48 L260 995.35 L261 995.47 L262 994.65 L263 994.41 L264 993.31 L265 994.2 L266 993.67 L267 994.53 L268 994.92 L269 994.84 L270 995.77 L271 996.36 L272 997.24 L273 997.2 L274 998.65 L275 1000.53 L276 1000.57 L277 1002.37 L278 1004.14 L279 1005.31 L280 1007.64 L281 1009.34 L282 1010.67 L283 1012.82 L284 1014.47 L285 1016.06 L286 1018.6 L287 1020.56 L288 1022.54 L289 1024.74 L290 1026.4 L291 1028.47 L292 1030.13 L293 1031.91 L294 1034.92 L295 1036.62 L296 1038.72 L297 1040.96 L298 1042.98 L299 1044.36 L300 1046.21 L301 1047.94 L302 1050.81 L303 1051.9 L304 1054.12 L305 1055.97 L306 1058.03 L307 1059.69 L308 1061.33 L309 1062.89 L310 1063.97 L311 1065.95 L312 1067.27 L313 1068.33 L314 1069.65 L315 1070.24 L316 1071.11 L317 1072.48 L318 1073.04 L319 1074.11 L320 1075.05 L321 1075.96 L322 1076.57 L323 1077.6 L324 1078.76 L325 1078.38 L326 1079.34 L327 1079.96 L328 1080.36 L329 1080.96 L330 1081.46 L331 1081.52 L332 1082.33 L333 1082.81 L334 1082.69 L335 1082.96 L336 1083.72 L337 1083.66 L338 1084.02 L339 1084.57 L340 1084.43 L341 1084.83 L342 1084.99 L343 1084.56 L344 1085.15 L345 1085.39 L346 1085.68 L347 1085.9 L348 1085.35 L349 1085.04 L350 1085.28 L351 1085.77 L352 1085.87 L353 1085.9 L354 1085.16 L355 1086.17 L356 1085.91 L357 1086.14 L358 1086.13 L359 1086.57 L360 1085.8 L361 1086.22 L362 1086.01 L363 1086.01 L364 1086.5 L365 1086.77 L366 1086.56 L367 1086.72 L368 1086.38 L369 1086.79 L370 1086.51 L371 1086.94 L372 1087.26 L373 1086.86 L374 1086.81 L375 1086.61 L376 1086.97 L377 1086.7 L378 1086.37 L379 1087.17 L380 1087.2 L381 1087.47 L382 1087.18 L383 1087.08 L384 1087.51 L385 1087.23 L386 1087.25 L387 1087.51 L388 1087.41 L389 1087.33 L390 1087.75 L391 1087.17 L392 1087.52 L393 1087.45 L394 1087.23 L395 1087.88 L396 1087.38 L397 1087.79 L398 1087.55 L399 1087.64 L400 1087.64 L401 1087.37 L402 1087.63 L403 1087.42 L404 1087.86 L405 1087.52 L406 1087.8 L407 1088.36 L408 1087.98 L409 1088.04 L410 1087.64 L411 1087.89 L412 1087.24 L413 1087.84 L414 1087.43 L415 1087.53 L416 1087.88 L417 1088.55 L418 1088.29 L419 1087.81 L420 1087.98 L421 1088.01 L422 1088.45 L423 1087.43 L424 1087.85 L425 1088.07 L426 1087.26 L427 1088.34 L428 1087.93 L429 1088.17 L430 1087.48 L431 1087.85 L432 1088.15 L433 1088.12 L434 1088.07 L435 1088.48 L436 1088.2 L437 1088.37 L438 1087.69 L439 1087.96 L440 1087.95 L441 1088.4 L442 1087.91 L443 1088.49 L444 1087.88 L445 1088.24 L446 1087.88 L447 1088.29 L448 1088.06 L449 1087.82 L450 1088.21 L451 1088.53 L452 1088.42 L453 1088.28 L454 1088.71 L455 1088.23 L456 1088.41 L457 1088.04 L458 1088.38 L458.5 1088.4" fill="none" stroke="#e2167c" stroke-width="2.6" stroke-linejoin="round" stroke-linecap="round"/>
<path d="M68 1223.41 L69 1223.46 L70 1223.34 L71 1223.22 L72 1222.84 L73 1223.28 L74 1223.03 L75 1223.33 L76 1223.24 L77 1223.17 L78 1223.32 L79 1223.2 L80 1223.13 L81 1223.25 L82 1222.94 L83 1223.11 L84 1223.18 L85 1222.52 L86 1222.99 L87 1223.13 L88 1223.45 L89 1222.57 L90 1222.77 L91 1222.9 L92 1223.37 L93 1222.46 L94 1222.93 L95 1222.74 L96 1222.82 L97 1222.76 L98 1221.78 L99 1222.54 L100 1222.48 L101 1222.51 L102 1222.65 L103 1221.97 L104 1222.21 L105 1222.72 L106 1222.08 L107 1222.64 L108 1222.45 L109 1222.2 L110 1221.63 L111 1221.98 L112 1221.97 L113 1222.47 L114 1222.05 L115 1222.26 L116 1222.01 L117 1222.1 L118 1221.95 L119 1221.87 L120 1221.91 L121 1221.86 L122 1222.16 L123 1221.34 L124 1222.12 L125 1221.43 L126 1221.61 L127 1220.86 L128 1220.98 L129 1221.45 L130 1221.64 L131 1220.94 L132 1221.53 L133 1220.93 L134 1220.8 L135 1221.19 L136 1220.96 L137 1220.77 L138 1220.62 L139 1221.08 L140 1220.88 L141 1220.74 L142 1220.12 L143 1220.27 L144 1220.55 L145 1220.87 L146 1220.53 L147 1220.7 L148 1220.62 L149 1220.65 L150 1219.59 L151 1220.14 L152 1220.15 L153 1219.66 L154 1219.88 L155 1219.83 L156 1219.88 L157 1219.88 L158 1218.94 L159 1219.06 L160 1219.15 L161 1219.53 L162 1219.22 L163 1219.33 L164 1218.87 L165 1218.8 L166 1218.65 L167 1218.78 L168 1218.96 L169 1218.74 L170 1218.51 L171 1217.95 L172 1218.59 L173 1217.97 L174 1217.97 L175 1217.84 L176 1218.12 L177 1218.02 L178 1217.16 L179 1217.19 L180 1217.29 L181 1217.49 L182 1217.03 L183 1217 L184 1216.53 L185 1216.5 L186 1216.89 L187 1216.63 L188 1216.13 L189 1216.48 L190 1216.2 L191 1215.49 L192 1215.78 L193 1215.98 L194 1215.81 L195 1215.68 L196 1215.17 L197 1214.97 L198 1214.83 L199 1214.69 L200 1214.39 L201 1214.89 L202 1214.01 L203 1214.35 L204 1214.02 L205 1213.99 L206 1213.55 L207 1213.85 L208 1212.99 L209 1212.97 L210 1212.94 L211 1213.08 L212 1212.8 L213 1212.87 L214 1212.29 L215 1212.08 L216 1211.69 L217 1211.87 L218 1211.49 L219 1210.84 L220 1211.46 L221 1210.4 L222 1210.31 L223 1210.43 L224 1209.68 L225 1209.81 L226 1208.49 L227 1208.41 L228 1207.89 L229 1208.11 L230 1207.98 L231 1207 L232 1207.28 L233 1206.11 L234 1205.82 L235 1205.19 L236 1205.16 L237 1204.61 L238 1203.95 L239 1203.68 L240 1202.95 L241 1202.4 L242 1202.07 L243 1201.22 L244 1200.98 L245 1200.62 L246 1199.51 L247 1199.18 L248 1199.1 L249 1198.61 L250 1198.15 L251 1198.07 L252 1197.16 L253 1196.86 L254 1196.47 L255 1195.89 L256 1196.04 L257 1195.7 L258 1195.31 L259 1194.81 L260 1195.7 L261 1195.37 L262 1195.44 L263 1195.24 L264 1195.47 L265 1195.85 L266 1195.06 L267 1196.22 L268 1195.59 L269 1195.96 L270 1196.46 L271 1196.44 L272 1196.85 L273 1196.99 L274 1197.13 L275 1198 L276 1197.7 L277 1198.64 L278 1198.57 L279 1199.1 L280 1200.09 L281 1200.06 L282 1200.94 L283 1201.21 L284 1201.69 L285 1202.55 L286 1203.1 L287 1203.57 L288 1203.72 L289 1204.38 L290 1205.06 L291 1205.53 L292 1206.25 L293 1206.52 L294 1207.73 L295 1208.55 L296 1208.85 L297 1209.35 L298 1209.63 L299 1211.08 L300 1211.38 L301 1211.18 L302 1211.85 L303 1212.95 L304 1213.05 L305 1213.46 L306 1213.77 L307 1214.64 L308 1215.03 L309 1215.53 L310 1216.17 L311 1216.64 L312 1217.36 L313 1217.12 L314 1217.85 L315 1218.56 L316 1218.27 L317 1219.75 L318 1219.73 L319 1220.18 L320 1220.85 L321 1220.72 L322 1220.73 L323 1221.24 L324 1221.23 L325 1221.57 L326 1221.8 L327 1222.36 L328 1222.6 L329 1223.03 L330 1222.91 L331 1222.93 L332 1222.89 L333 1222.7 L334 1223.01 L335 1223.61 L336 1223.58 L337 1223.39 L338 1223.95 L339 1223.69 L340 1224.1 L341 1224.55 L342 1224.63 L343 1224.08 L344 1224.59 L345 1224.04 L346 1224.51 L347 1224.6 L348 1225.08 L349 1225.09 L350 1224.28 L351 1224.6 L352 1224.97 L353 1224.73 L354 1224.86 L355 1225.13 L356 1224.69 L357 1225.51 L358 1224.88 L359 1224.89 L360 1224.72 L361 1224.88 L362 1224.85 L363 1224.77 L364 1225.6 L365 1224.76 L366 1224.9 L367 1224.34 L368 1224.44 L369 1224.73 L370 1224.91 L371 1225.04 L372 1224.47 L373 1224.73 L374 1224.99 L375 1224.78 L376 1225.28 L377 1224.23 L378 1224.48 L379 1224.79 L380 1224.85 L381 1224.73 L382 1224.47 L383 1224.45 L384 1224.42 L385 1224.66 L386 1224.54 L387 1224.85 L388 1224.5 L389 1224.52 L390 1224.72 L391 1224.45 L392 1224.45 L393 1224.13 L394 1224.79 L395 1224.34 L396 1224.5 L397 1224.68 L398 1224.51 L399 1224.64 L400 1223.37 L401 1224.41 L402 1224.04 L403 1224.57 L404 1224.55 L405 1224.49 L406 1224.78 L407 1224.82 L408 1224.52 L409 1224.41 L410 1224.27 L411 1224.5 L412 1224.47 L413 1224.33 L414 1225.04 L415 1224.23 L416 1224.92 L417 1224.75 L418 1225.07 L419 1225.38 L420 1224.5 L421 1225.1 L422 1224.92 L423 1224.59 L424 1224.76 L425 1225.2 L426 1224.6 L427 1224.5 L428 1224.91 L429 1224.63 L430 1224.77 L431 1224.38 L432 1224.77 L433 1224.01 L434 1225.03 L435 1224.37 L436 1224.8 L437 1225.1 L438 1224.52 L439 1224.81 L440 1224.98 L441 1224.67 L442 1224.97 L443 1225.06 L444 1225.31 L445 1224.71 L446 1225.35 L447 1224.87 L448 1225.07 L449 1224.93 L450 1225.31 L451 1225.6 L452 1224.91 L453 1225.18 L454 1225.18 L455 1225.35 L456 1225.69 L457 1225.31 L458 1225.33 L458.5 1224.82" fill="none" stroke="#0d0d0d" stroke-width="2.6" stroke-linejoin="round" stroke-linecap="round"/>
<path d="M598.4 813.23 L599.8 812.59 L601.2 815.82 L602.6 816.16 L604 817.65 L605.4 815.39 L606.8 813.92 L608.2 813.16 L609.6 812.27 L611 812.79 L612.4 814.24 L613.8 813.74 L615.2 812.75 L616.6 813.74 L618 814.04 L619.4 816.35 L620.8 813.95 L622.2 814.46 L623.6 812.23 L625 811.02 L626.4 809.91 L627.8 811.4 L629.2 812.33 L630.6 814.58 L632 815.88 L633.4 813.06 L634.8 813.42 L636.2 815.34 L637.6 814.8 L639 813.46 L640.4 812.52 L641.8 811.22 L643.2 812.16 L644.6 812.78 L646 813.69 L647.4 813.29 L648.8 813.69 L650.2 813.12 L651.6 815.04 L653 814.57 L654.4 815.89 L655.8 816.71 L657.2 816.1 L658.6 814.71 L660 812.72 L661.4 811.58 L662.8 811.84 L664.2 811.89 L665.6 812.44 L667 817.43 L668.4 816.5 L669.8 816.18 L671.2 818.16 L672.6 815.54 L674 816.72 L675.4 813.8 L676.8 813.43 L678.2 814.65 L679.6 817.08 L681 815.4 L682.4 816.42 L683.8 814.07 L685.2 815.13 L686.6 813.93 L688 815.87 L689.4 817.33 L690.8 817.6 L692.2 815.73 L693.6 815.03 L695 815.61 L696.4 814.51 L697.8 814.96 L699.2 813.63 L700.6 812.93 L702 813.93 L703.4 813.99 L704.8 813.11 L706.2 813.1 L707.6 813.03 L709 813.34 L710.4 814.32 L711.8 810.03 L713.2 811.58 L714.6 811.31 L716 811.38 L717.4 817.23 L718.8 813.63 L720.2 811.58 L721.6 812.83 L723 814.07 L724.4 813.03 L725.8 807.62 L727.2 806.66 L728.6 810.51 L730 808.25 L731.4 805.86 L732.8 805.59 L734.2 801.92 L735.6 798.48 L737 794.67 L738.4 795.58 L739.8 795.88 L741.2 793.72 L742.6 795.34 L744 791.5 L745.4 791.74 L746.8 792.36 L748.2 794.61 L749.6 793.77 L751 795.98 L752.4 788.92 L753.8 787.09 L755.2 788.49 L756.6 786.42 L758 784.1 L759.4 782.27 L760.8 780.48 L762.2 777.35 L763.6 776.26 L765 772.05 L766.4 773.39 L767.8 770.86 L769.2 769.36 L770.6 768.26 L772 766.41 L773.4 766.28 L774.8 761.25 L776.2 757.46 L777.6 752.61 L779 749.61 L780.4 733.74 L781.8 727.47 L783.2 721.29 L784.6 720.63 L786 719.48 L787.4 715.4 L788.8 720.69 L790.2 717.63 L791.6 715.08 L793 711.99 L794.4 709.65 L795.8 706.64 L797.2 706.53 L798.6 712.38 L800 710.08 L801.4 716.36 L802.8 721.33 L804.2 724.49 L805.6 725.48 L807 726.29 L808.4 729.59 L809.8 729.54 L811.2 737.16 L812.6 737.16 L814 741.61 L815.4 747.31 L816.8 750.52 L818.2 757.06 L819.6 762.45 L821 766.21 L822.4 773.33 L823.8 772.17 L825.2 773.33 L826.6 777.36 L828 776.85 L829.4 780.7 L830.8 783.97 L832.2 783.42 L833.6 787.21 L835 785.11 L836.4 788.25 L837.8 790.77 L839.2 789.89 L840.6 791.14 L842 792.47 L843.4 793.56 L844.8 792.61 L846.2 791.62 L847.6 791.41 L849 792.41 L850.4 793.08 L851.8 794.1 L853.2 794.29 L854.6 800.41 L856 797.48 L857.4 802.16 L858.8 802.42 L860.2 803.15 L861.6 805.29 L863 807.27 L864.4 806.56 L865.8 808.31 L867.2 810.41 L868.6 808.56 L870 810.01 L871.4 810.4 L872.8 807.83 L874.2 810.08 L875.6 810.95 L877 812.64 L878.4 815.35 L879.8 814.68 L881.2 815.16 L882.6 813.97 L884 813.64 L885.4 813.33 L886.8 812.26 L888.2 811.89 L889.6 813.28 L891 812.51 L892.4 815.09 L893.8 815.31 L895.2 814.94 L896.6 815.23 L898 815.49 L899.4 814.28 L900.8 815.9 L902.2 818.44 L903.6 818.99 L905 816.93 L906.4 817.14 L907.8 818.08 L909.2 815.14 L910.6 817.11 L912 816.45 L913.4 819.55 L914.8 819.03 L916.2 818.98 L917.6 817.37 L919 816.24 L920.4 817.82 L921.8 815.17 L923.2 817.8 L924.6 814.57 L926 815.05 L927.4 812.55 L928.8 814.72 L930.2 817.25 L931.6 819.13 L933 819.15 L934.4 816.59 L935.8 815.5 L937.2 818 L938.6 816 L940 816.15 L941.4 815.11 L942.8 814.42 L944.2 815.94 L945.6 815.29 L947 816.4 L948.4 815.4 L949.8 816.59 L951.2 817.44 L952.6 816.5 L954 815.51 L955.4 817.85 L956.8 818.32 L958.2 817.98 L959.6 817.96 L961 818.03 L962.4 817.24 L963.8 819.08 L965.2 815.55 L966.6 816.12 L968 813.84 L969.4 814.44 L970.8 816.82 L972.2 815.65 L973.6 813.9 L975 815.69 L976.4 815.15 L977.8 818.33 L979.2 818.31 L980.6 818.28 L982 818.05 L983.4 819.22 L984.8 819.27 L986.2 820.23 L987.6 816.91 L989 818.31" fill="none" stroke="#ef8427" stroke-width="2.6" stroke-linejoin="round" stroke-linecap="round"/>
<path d="M598.4 956.05 L599.8 955.51 L601.2 955.89 L602.6 954.89 L604 950.73 L605.4 951.62 L606.8 950.93 L608.2 948.77 L609.6 952.9 L611 952.42 L612.4 954.91 L613.8 953.81 L615.2 955.05 L616.6 956.25 L618 954.27 L619.4 954.19 L620.8 950.71 L622.2 953.5 L623.6 954.51 L625 955.15 L626.4 953.06 L627.8 954.93 L629.2 955.79 L630.6 956.2 L632 953.44 L633.4 954.02 L634.8 951.44 L636.2 952.38 L637.6 952.36 L639 952.84 L640.4 953.24 L641.8 953.3 L643.2 954.25 L644.6 955.2 L646 954.56 L647.4 955.09 L648.8 958.82 L650.2 955.88 L651.6 956.6 L653 954.8 L654.4 953.07 L655.8 953.86 L657.2 952.03 L658.6 952.15 L660 953.11 L661.4 950.46 L662.8 951.51 L664.2 952.16 L665.6 950.8 L667 950.86 L668.4 952.5 L669.8 952.68 L671.2 954.63 L672.6 954.06 L674 952.58 L675.4 953.09 L676.8 953.05 L678.2 954.05 L679.6 954.82 L681 956.93 L682.4 953.8 L683.8 954.07 L685.2 953.18 L686.6 953.14 L688 955.88 L689.4 951.15 L690.8 951.78 L692.2 950.24 L693.6 949.42 L695 951.03 L696.4 952.91 L697.8 952.52 L699.2 950.95 L700.6 951 L702 953.48 L703.4 953.69 L704.8 952.54 L706.2 955.36 L707.6 956.04 L709 952.4 L710.4 950.43 L711.8 952.44 L713.2 947.22 L714.6 947.08 L716 947.74 L717.4 948.22 L718.8 947 L720.2 948.96 L721.6 945.95 L723 945.17 L724.4 943.95 L725.8 945.69 L727.2 944.72 L728.6 945 L730 943.8 L731.4 943.29 L732.8 942.38 L734.2 941.9 L735.6 938.05 L737 933.8 L738.4 933.09 L739.8 931.37 L741.2 929.29 L742.6 927.67 L744 923.18 L745.4 921.37 L746.8 915.8 L748.2 916.24 L749.6 916.16 L751 915.22 L752.4 914.44 L753.8 909.97 L755.2 911.7 L756.6 906.91 L758 908.32 L759.4 905.42 L760.8 904.29 L762.2 900.1 L763.6 899.61 L765 900.45 L766.4 896.35 L767.8 895.94 L769.2 891.34 L770.6 892.21 L772 887.38 L773.4 892.96 L774.8 892.06 L776.2 885.15 L777.6 888.89 L779 887.22 L780.4 888.23 L781.8 888.87 L783.2 886.19 L784.6 885.93 L786 880.64 L787.4 878.15 L788.8 878.98 L790.2 880.99 L791.6 886.4 L793 889.37 L794.4 891.19 L795.8 891.71 L797.2 892.6 L798.6 894.21 L800 897.17 L801.4 896.18 L802.8 896.8 L804.2 895.57 L805.6 897.98 L807 899.92 L808.4 901.81 L809.8 906.11 L811.2 903.17 L812.6 902.33 L814 905.97 L815.4 909.92 L816.8 907.33 L818.2 907.08 L819.6 905.09 L821 905.8 L822.4 906.63 L823.8 909.26 L825.2 909.23 L826.6 913.85 L828 912.59 L829.4 918.87 L830.8 914.72 L832.2 919.29 L833.6 914.25 L835 911.28 L836.4 914.26 L837.8 915.47 L839.2 917.22 L840.6 917.3 L842 919.35 L843.4 919.76 L844.8 920.71 L846.2 924.45 L847.6 924.71 L849 929 L850.4 931.11 L851.8 929.77 L853.2 929.07 L854.6 934.94 L856 935.53 L857.4 940.67 L858.8 940.11 L860.2 940.33 L861.6 942.96 L863 941.87 L864.4 941.41 L865.8 941.37 L867.2 943.46 L868.6 945.03 L870 948.82 L871.4 949.26 L872.8 948.25 L874.2 951.37 L875.6 953.1 L877 949.43 L878.4 949.25 L879.8 949.6 L881.2 953.23 L882.6 951.74 L884 949.16 L885.4 948.23 L886.8 951.63 L888.2 952.59 L889.6 954 L891 950.78 L892.4 952.51 L893.8 953.7 L895.2 951.33 L896.6 952.98 L898 955.17 L899.4 954.31 L900.8 952.19 L902.2 950.92 L903.6 952.67 L905 955.14 L906.4 953.83 L907.8 955.51 L909.2 955.61 L910.6 953.64 L912 953.64 L913.4 952.3 L914.8 953.02 L916.2 951.89 L917.6 954.89 L919 954.19 L920.4 953.89 L921.8 952.33 L923.2 953.75 L924.6 955.85 L926 954.15 L927.4 952.09 L928.8 951.02 L930.2 951.02 L931.6 952.4 L933 949.96 L934.4 949.94 L935.8 952.6 L937.2 953.23 L938.6 951.03 L940 952.05 L941.4 950.53 L942.8 950.56 L944.2 954.3 L945.6 953.22 L947 951.07 L948.4 946.4 L949.8 949.75 L951.2 951.52 L952.6 952.49 L954 948.84 L955.4 949.85 L956.8 950.32 L958.2 949.65 L959.6 951.02 L961 952.18 L962.4 950.16 L963.8 950.5 L965.2 952.07 L966.6 951.37 L968 950.06 L969.4 953.47 L970.8 953.78 L972.2 951.87 L973.6 951.16 L975 953.54 L976.4 952.86 L977.8 951.74 L979.2 952.02 L980.6 956.35 L982 956.64 L983.4 952.03 L984.8 951.5 L986.2 951.34 L987.6 952.04 L989 953.84" fill="none" stroke="#828012" stroke-width="2.6" stroke-linejoin="round" stroke-linecap="round"/>
<path d="M598.4 1074.83 L599.8 1077.64 L601.2 1077 L602.6 1079.51 L604 1077.69 L605.4 1077.37 L606.8 1079.79 L608.2 1079.45 L609.6 1079.79 L611 1078.85 L612.4 1076.87 L613.8 1077.41 L615.2 1075.49 L616.6 1076.83 L618 1075.36 L619.4 1078.51 L620.8 1078.77 L622.2 1079.36 L623.6 1077.15 L625 1078.72 L626.4 1078.79 L627.8 1077.59 L629.2 1078.74 L630.6 1079.76 L632 1081.64 L633.4 1082.07 L634.8 1079.07 L636.2 1080.7 L637.6 1079.35 L639 1081.34 L640.4 1080.66 L641.8 1080.13 L643.2 1078.96 L644.6 1082.34 L646 1077.38 L647.4 1079.16 L648.8 1079.24 L650.2 1080.89 L651.6 1079.72 L653 1079.84 L654.4 1081.6 L655.8 1081.93 L657.2 1081.91 L658.6 1081.84 L660 1082.19 L661.4 1083.73 L662.8 1082.05 L664.2 1080.88 L665.6 1079.78 L667 1080.58 L668.4 1077.3 L669.8 1078.52 L671.2 1080.98 L672.6 1081.2 L674 1079.58 L675.4 1081.16 L676.8 1078.16 L678.2 1078.41 L679.6 1075.48 L681 1076.4 L682.4 1075.53 L683.8 1080.93 L685.2 1079.46 L686.6 1078.57 L688 1080.4 L689.4 1078.26 L690.8 1081.18 L692.2 1080.56 L693.6 1083.62 L695 1080.12 L696.4 1080.43 L697.8 1081.22 L699.2 1079.96 L700.6 1077.19 L702 1075.38 L703.4 1073.63 L704.8 1071.74 L706.2 1072 L707.6 1071.28 L709 1067.61 L710.4 1063.82 L711.8 1066.1 L713.2 1066.9 L714.6 1065.13 L716 1062.89 L717.4 1060.5 L718.8 1062.78 L720.2 1056.61 L721.6 1056.98 L723 1056 L724.4 1054.26 L725.8 1051.08 L727.2 1049.02 L728.6 1051.67 L730 1049.65 L731.4 1049.69 L732.8 1049.62 L734.2 1046.09 L735.6 1046.15 L737 1047.07 L738.4 1044.52 L739.8 1038.92 L741.2 1037.76 L742.6 1034.95 L744 1035.92 L745.4 1035.97 L746.8 1033.95 L748.2 1032.41 L749.6 1033.55 L751 1029.73 L752.4 1033.7 L753.8 1029.99 L755.2 1032.59 L756.6 1028.06 L758 1025.85 L759.4 1023.39 L760.8 1021.79 L762.2 1020.88 L763.6 1016.45 L765 1017.24 L766.4 1014.53 L767.8 1016.07 L769.2 1014.21 L770.6 1011.67 L772 1010.31 L773.4 1008.4 L774.8 1008.77 L776.2 1004.92 L777.6 1002.03 L779 999.21 L780.4 996.35 L781.8 996.05 L783.2 992.9 L784.6 991.34 L786 985.81 L787.4 983.14 L788.8 983 L790.2 983.87 L791.6 981.76 L793 982.42 L794.4 980.72 L795.8 984.51 L797.2 986.59 L798.6 988.52 L800 990.42 L801.4 994.89 L802.8 993.32 L804.2 992.5 L805.6 992.45 L807 999.32 L808.4 999.78 L809.8 1002.5 L811.2 1004.49 L812.6 1008.87 L814 1011.67 L815.4 1016.13 L816.8 1022.61 L818.2 1027.34 L819.6 1033.37 L821 1035.32 L822.4 1033.33 L823.8 1035.87 L825.2 1038.83 L826.6 1042.66 L828 1043.21 L829.4 1037.06 L830.8 1035.78 L832.2 1038.94 L833.6 1037.99 L835 1038.63 L836.4 1041.39 L837.8 1045.15 L839.2 1048.15 L840.6 1046.46 L842 1050.41 L843.4 1046.22 L844.8 1045.07 L846.2 1044.06 L847.6 1048.51 L849 1052.16 L850.4 1052.93 L851.8 1053.09 L853.2 1056.08 L854.6 1059.42 L856 1060.67 L857.4 1060.2 L858.8 1061.95 L860.2 1063.17 L861.6 1064.17 L863 1066.2 L864.4 1067.68 L865.8 1068.37 L867.2 1070.23 L868.6 1068.25 L870 1073.3 L871.4 1071.86 L872.8 1073.47 L874.2 1072.9 L875.6 1074.03 L877 1071.73 L878.4 1068.61 L879.8 1070.84 L881.2 1073.93 L882.6 1074.45 L884 1072.6 L885.4 1071.09 L886.8 1071.33 L888.2 1074.2 L889.6 1074.22 L891 1074.02 L892.4 1076.08 L893.8 1077.44 L895.2 1076.21 L896.6 1075.96 L898 1075.73 L899.4 1077.01 L900.8 1075.68 L902.2 1077.59 L903.6 1078.91 L905 1081.84 L906.4 1078.18 L907.8 1079.89 L909.2 1078.12 L910.6 1082 L912 1083.09 L913.4 1083.19 L914.8 1081.43 L916.2 1078.68 L917.6 1077.95 L919 1078.67 L920.4 1077.96 L921.8 1078.24 L923.2 1080.93 L924.6 1081.45 L926 1081.42 L927.4 1079.33 L928.8 1080.8 L930.2 1081.71 L931.6 1081.52 L933 1080.78 L934.4 1081.22 L935.8 1081.98 L937.2 1080.44 L938.6 1080.95 L940 1082.29 L941.4 1084.47 L942.8 1082.78 L944.2 1080.47 L945.6 1079.73 L947 1078.69 L948.4 1080.59 L949.8 1079.17 L951.2 1080.92 L952.6 1080.98 L954 1080.25 L955.4 1078.54 L956.8 1077.96 L958.2 1079.17 L959.6 1079.7 L961 1082.72 L962.4 1081.74 L963.8 1079.95 L965.2 1081.2 L966.6 1079.98 L968 1079.18 L969.4 1078.28 L970.8 1078.91 L972.2 1076.41 L973.6 1078.16 L975 1079.93 L976.4 1080.59 L977.8 1079.47 L979.2 1079.19 L980.6 1080.63 L982 1081.28 L983.4 1081.46 L984.8 1083.27 L986.2 1084.28 L987.6 1083.45 L989 1081.26" fill="none" stroke="#e2167c" stroke-width="2.6" stroke-linejoin="round" stroke-linecap="round"/>
<path d="M598.4 1204.81 L599.8 1205.2 L601.2 1204.26 L602.6 1206.07 L604 1208.3 L605.4 1205.9 L606.8 1206.61 L608.2 1206.51 L609.6 1206.39 L611 1207.15 L612.4 1206.97 L613.8 1208.39 L615.2 1208.95 L616.6 1209.32 L618 1213.46 L619.4 1211.75 L620.8 1207.48 L622.2 1209.05 L623.6 1208.32 L625 1211.4 L626.4 1207.56 L627.8 1205.72 L629.2 1207.63 L630.6 1207.13 L632 1209.28 L633.4 1208.47 L634.8 1209.18 L636.2 1205.57 L637.6 1207.99 L639 1206.5 L640.4 1205.76 L641.8 1205.25 L643.2 1205.98 L644.6 1206 L646 1207.81 L647.4 1210.94 L648.8 1211.43 L650.2 1210.82 L651.6 1214.03 L653 1210.3 L654.4 1214.31 L655.8 1213.1 L657.2 1213.48 L658.6 1210.76 L660 1212.12 L661.4 1209.54 L662.8 1211.33 L664.2 1211.83 L665.6 1210.37 L667 1211.13 L668.4 1212.91 L669.8 1213.9 L671.2 1211.28 L672.6 1212.62 L674 1214.53 L675.4 1213.8 L676.8 1216.99 L678.2 1214.19 L679.6 1214.87 L681 1211.21 L682.4 1213.5 L683.8 1214.09 L685.2 1213 L686.6 1209.68 L688 1208.85 L689.4 1209.06 L690.8 1209.06 L692.2 1208.61 L693.6 1204.38 L695 1207.3 L696.4 1205.79 L697.8 1204.38 L699.2 1204.36 L700.6 1203.6 L702 1207.01 L703.4 1207.92 L704.8 1206.08 L706.2 1208.23 L707.6 1207.07 L709 1206.09 L710.4 1204.12 L711.8 1205.91 L713.2 1203.28 L714.6 1203.45 L716 1205.65 L717.4 1203.31 L718.8 1204.91 L720.2 1202.75 L721.6 1199.88 L723 1202.24 L724.4 1199.31 L725.8 1198.55 L727.2 1192.64 L728.6 1193.46 L730 1191.28 L731.4 1189.21 L732.8 1185.27 L734.2 1183.82 L735.6 1183.12 L737 1183.03 L738.4 1182.1 L739.8 1176.44 L741.2 1177.81 L742.6 1173.37 L744 1169.69 L745.4 1168.09 L746.8 1165.18 L748.2 1161.38 L749.6 1161 L751 1155.78 L752.4 1151.4 L753.8 1144.87 L755.2 1143.21 L756.6 1140.2 L758 1136.05 L759.4 1137.33 L760.8 1135.08 L762.2 1127.86 L763.6 1127.74 L765 1125.93 L766.4 1123.99 L767.8 1124.12 L769.2 1122.02 L770.6 1117.05 L772 1116.39 L773.4 1114.02 L774.8 1116 L776.2 1115.96 L777.6 1116.4 L779 1108.48 L780.4 1110.5 L781.8 1112.04 L783.2 1114.48 L784.6 1115.08 L786 1118.1 L787.4 1117.76 L788.8 1122.95 L790.2 1123.46 L791.6 1126.58 L793 1123.23 L794.4 1126.05 L795.8 1128.5 L797.2 1134.31 L798.6 1138.46 L800 1138.84 L801.4 1144.28 L802.8 1145.32 L804.2 1149.2 L805.6 1154.5 L807 1159.15 L808.4 1162.68 L809.8 1167.42 L811.2 1163.16 L812.6 1165.09 L814 1164.74 L815.4 1170.83 L816.8 1174.41 L818.2 1178 L819.6 1181.17 L821 1182.84 L822.4 1183.99 L823.8 1183.28 L825.2 1183.34 L826.6 1183.27 L828 1185.64 L829.4 1182.68 L830.8 1184.43 L832.2 1182.42 L833.6 1186.02 L835 1182.2 L836.4 1186.26 L837.8 1187.73 L839.2 1185.68 L840.6 1186.63 L842 1187.85 L843.4 1186.38 L844.8 1190.61 L846.2 1192.69 L847.6 1193.72 L849 1195.2 L850.4 1198.03 L851.8 1197.43 L853.2 1199.89 L854.6 1198.23 L856 1199.96 L857.4 1199.09 L858.8 1198.44 L860.2 1197.8 L861.6 1197.33 L863 1196.48 L864.4 1199.23 L865.8 1201.87 L867.2 1200.75 L868.6 1203.21 L870 1207.81 L871.4 1206.44 L872.8 1205.5 L874.2 1208.21 L875.6 1206.49 L877 1209.8 L878.4 1211.34 L879.8 1211.32 L881.2 1209.43 L882.6 1210.75 L884 1211.21 L885.4 1212.02 L886.8 1213.2 L888.2 1210.06 L889.6 1210.12 L891 1209.98 L892.4 1212.79 L893.8 1209.54 L895.2 1211.93 L896.6 1209.22 L898 1208.87 L899.4 1209.08 L900.8 1208.56 L902.2 1209.48 L903.6 1211.88 L905 1210 L906.4 1210.27 L907.8 1208.14 L909.2 1207.83 L910.6 1208.16 L912 1207.4 L913.4 1206.92 L914.8 1207.93 L916.2 1206.4 L917.6 1205.91 L919 1208.77 L920.4 1211.2 L921.8 1214.35 L923.2 1212.46 L924.6 1211.75 L926 1211.92 L927.4 1211.04 L928.8 1210.86 L930.2 1210.32 L931.6 1210.38 L933 1211.2 L934.4 1214.5 L935.8 1212.01 L937.2 1211.36 L938.6 1208.55 L940 1211.61 L941.4 1208.03 L942.8 1207.87 L944.2 1206.23 L945.6 1206.72 L947 1205.6 L948.4 1206.07 L949.8 1207.22 L951.2 1209.25 L952.6 1210.97 L954 1210.17 L955.4 1210.98 L956.8 1211.01 L958.2 1210.9 L959.6 1208.87 L961 1210 L962.4 1208.92 L963.8 1209.12 L965.2 1211.3 L966.6 1212.39 L968 1210.77 L969.4 1213.03 L970.8 1214.93 L972.2 1213.99 L973.6 1212.72 L975 1210.79 L976.4 1213.13 L977.8 1214.72 L979.2 1213.92 L980.6 1213.44 L982 1212.73 L983.4 1212.64 L984.8 1212.53 L986.2 1213.35 L987.6 1217.11 L989 1211.31" fill="none" stroke="#0d0d0d" stroke-width="2.6" stroke-linejoin="round" stroke-linecap="round"/>
<g transform="translate(79.275 63.2) scale(1.062 1.1)"><text font-size="35">C1s</text></g>
<g transform="translate(207.38 66) scale(1.06 1.142)"><text font-size="35">C=O</text></g>
<g transform="translate(604.702 61.5) scale(1.049 1.146)"><text font-size="35">O1s</text></g>
<g transform="translate(697.391 67.4) scale(1.054 1.088)"><text font-size="35">C=O</text></g>
<g transform="translate(81.533 731) scale(1.033 1.125)"><text font-size="35">F1s</text></g>
<g transform="translate(285.271 728.2) scale(1.014 1.008)"><text font-size="35">LiF</text></g>
<g transform="translate(608.748 720.2) scale(1.026 1.108)"><text font-size="35">B1s</text></g>
<g transform="translate(358.852 54) scale(1.048 1.008)"><text font-size="16.5">LiDFOB</text></g>
<g transform="translate(358.852 76.5) scale(1.048 1.008)"><text font-size="16.5">LiNO<tspan font-size="10.23" dx="0.9" dy="6.6">3</tspan></text></g>
<g transform="translate(359.9 103.5) scale(1.048 1.008)"><text font-size="16.5">TEP:EC</text></g>
<g transform="translate(362.752 188.5) scale(1.048 1.008)"><text font-size="16.5">LiDFOB</text></g>
<g transform="translate(363.8 210.9) scale(1.048 1.008)"><text font-size="16.5">TEP:EC</text></g>
<g transform="translate(361.552 326.3) scale(1.048 1.008)"><text font-size="16.5">LiDFOB</text></g>
<g transform="translate(361.552 348.3) scale(1.048 1.008)"><text font-size="16.5">LiNO<tspan font-size="10.23" dx="0.9" dy="6.6">3</tspan></text></g>
<g transform="translate(361.552 373.5) scale(1.048 1.008)"><text font-size="16.5">EC</text></g>
<g transform="translate(364.752 462.1) scale(1.048 1.008)"><text font-size="16.5">LiDFOB</text></g>
<g transform="translate(364.752 484.9) scale(1.048 1.008)"><text font-size="16.5">EC</text></g>
<g transform="translate(891.152 54.1) scale(1.048 1.008)"><text font-size="16.5">LiDFOB</text></g>
<g transform="translate(891.152 76.1) scale(1.048 1.008)"><text font-size="16.5">LiNO<tspan font-size="10.23" dx="0.9" dy="6.6">3</tspan></text></g>
<g transform="translate(892.2 103.3) scale(1.048 1.008)"><text font-size="16.5">TEP:EC</text></g>
<g transform="translate(896.552 183.9) scale(1.048 1.008)"><text font-size="16.5">LiDFOB</text></g>
<g transform="translate(897.6 206.3) scale(1.048 1.008)"><text font-size="16.5">TEP:EC</text></g>
<g transform="translate(900.752 325.1) scale(1.048 1.008)"><text font-size="16.5">LiDFOB</text></g>
<g transform="translate(900.752 347.1) scale(1.048 1.008)"><text font-size="16.5">LiNO<tspan font-size="10.23" dx="0.9" dy="6.6">3</tspan></text></g>
<g transform="translate(900.752 372.3) scale(1.048 1.008)"><text font-size="16.5">EC</text></g>
<g transform="translate(903.152 462.1) scale(1.048 1.008)"><text font-size="16.5">LiDFOB</text></g>
<g transform="translate(903.152 484.1) scale(1.048 1.008)"><text font-size="16.5">EC</text></g>
<g transform="translate(363.352 712.3) scale(1.048 1.008)"><text font-size="16.5">LiDFOB</text></g>
<g transform="translate(363.352 734.7) scale(1.048 1.008)"><text font-size="16.5">LiNO<tspan font-size="10.23" dx="0.9" dy="6.6">3</tspan></text></g>
<g transform="translate(364.4 761.5) scale(1.048 1.008)"><text font-size="16.5">TEP:EC</text></g>
<g transform="translate(368.552 848.9) scale(1.048 1.008)"><text font-size="16.5">LiDFOB</text></g>
<g transform="translate(369.6 870.9) scale(1.048 1.008)"><text font-size="16.5">TEP:EC</text></g>
<g transform="translate(374.552 982.9) scale(1.048 1.008)"><text font-size="16.5">LiDFOB</text></g>
<g transform="translate(374.552 1004.5) scale(1.048 1.008)"><text font-size="16.5">LiNO<tspan font-size="10.23" dx="0.9" dy="6.6">3</tspan></text></g>
<g transform="translate(374.552 1029.7) scale(1.048 1.008)"><text font-size="16.5">EC</text></g>
<g transform="translate(379.352 1119.3) scale(1.048 1.008)"><text font-size="16.5">LiDFOB</text></g>
<g transform="translate(379.352 1141.7) scale(1.048 1.008)"><text font-size="16.5">EC</text></g>
<g transform="translate(894.152 712.3) scale(1.048 1.008)"><text font-size="16.5">LiDFOB</text></g>
<g transform="translate(894.152 734.7) scale(1.048 1.008)"><text font-size="16.5">LiNO<tspan font-size="10.23" dx="0.9" dy="6.6">3</tspan></text></g>
<g transform="translate(895.2 761.5) scale(1.048 1.008)"><text font-size="16.5">TEP:EC</text></g>
<g transform="translate(899.552 842.3) scale(1.048 1.008)"><text font-size="16.5">LiDFOB</text></g>
<g transform="translate(900.6 864.3) scale(1.048 1.008)"><text font-size="16.5">TEP:EC</text></g>
<g transform="translate(903.352 983.3) scale(1.048 1.008)"><text font-size="16.5">LiDFOB</text></g>
<g transform="translate(903.352 1005.3) scale(1.048 1.008)"><text font-size="16.5">LiNO<tspan font-size="10.23" dx="0.9" dy="6.6">3</tspan></text></g>
<g transform="translate(903.352 1030.5) scale(1.048 1.008)"><text font-size="16.5">EC</text></g>
<g transform="translate(905.952 1119.7) scale(1.048 1.008)"><text font-size="16.5">LiDFOB</text></g>
<g transform="translate(905.952 1142.1) scale(1.048 1.008)"><text font-size="16.5">EC</text></g>
<g transform="translate(175.215 614.759) scale(1.085 1.035)"><text font-size="18">Binding Energy/eV</text></g>
<g transform="translate(703.912 614.382) scale(1.088 1.029)"><text font-size="18">Binding Energy/eV</text></g>
<g transform="translate(167.314 1272.306) scale(1.086 1.024)"><text font-size="18">Binding Energy/eV</text></g>
<g transform="translate(707.528 1272.306) scale(1.072 1.024)"><text font-size="18">Binding Energy/eV</text></g>
<g transform="translate(22.7 388.421) rotate(-90) scale(1.021 1.092)"><text font-size="19">Intensity/ x10<tspan font-size="11.4" dy="-9.5">2</tspan><tspan dy="9.5"> cps</tspan></text></g>
<g transform="translate(552.5 361.128) rotate(-90) scale(1.028 1.1)"><text font-size="19">Intensity/ x10<tspan font-size="11.4" dy="-9.5">3</tspan><tspan dy="9.5"> cps</tspan></text></g>
<g transform="translate(19.8 1021.725) rotate(-90) scale(1.025 1.085)"><text font-size="19">Intensity/10<tspan font-size="11.4" dy="-9.5">3</tspan><tspan dy="9.5"> cps</tspan></text></g>
<g transform="translate(554.7 1017.905) rotate(-90) scale(1.005 1.077)"><text font-size="19">Intensity/ x10<tspan font-size="11.4" dy="-9.5">2</tspan><tspan dy="9.5"> cps</tspan></text></g>
</svg>
</body></html>
